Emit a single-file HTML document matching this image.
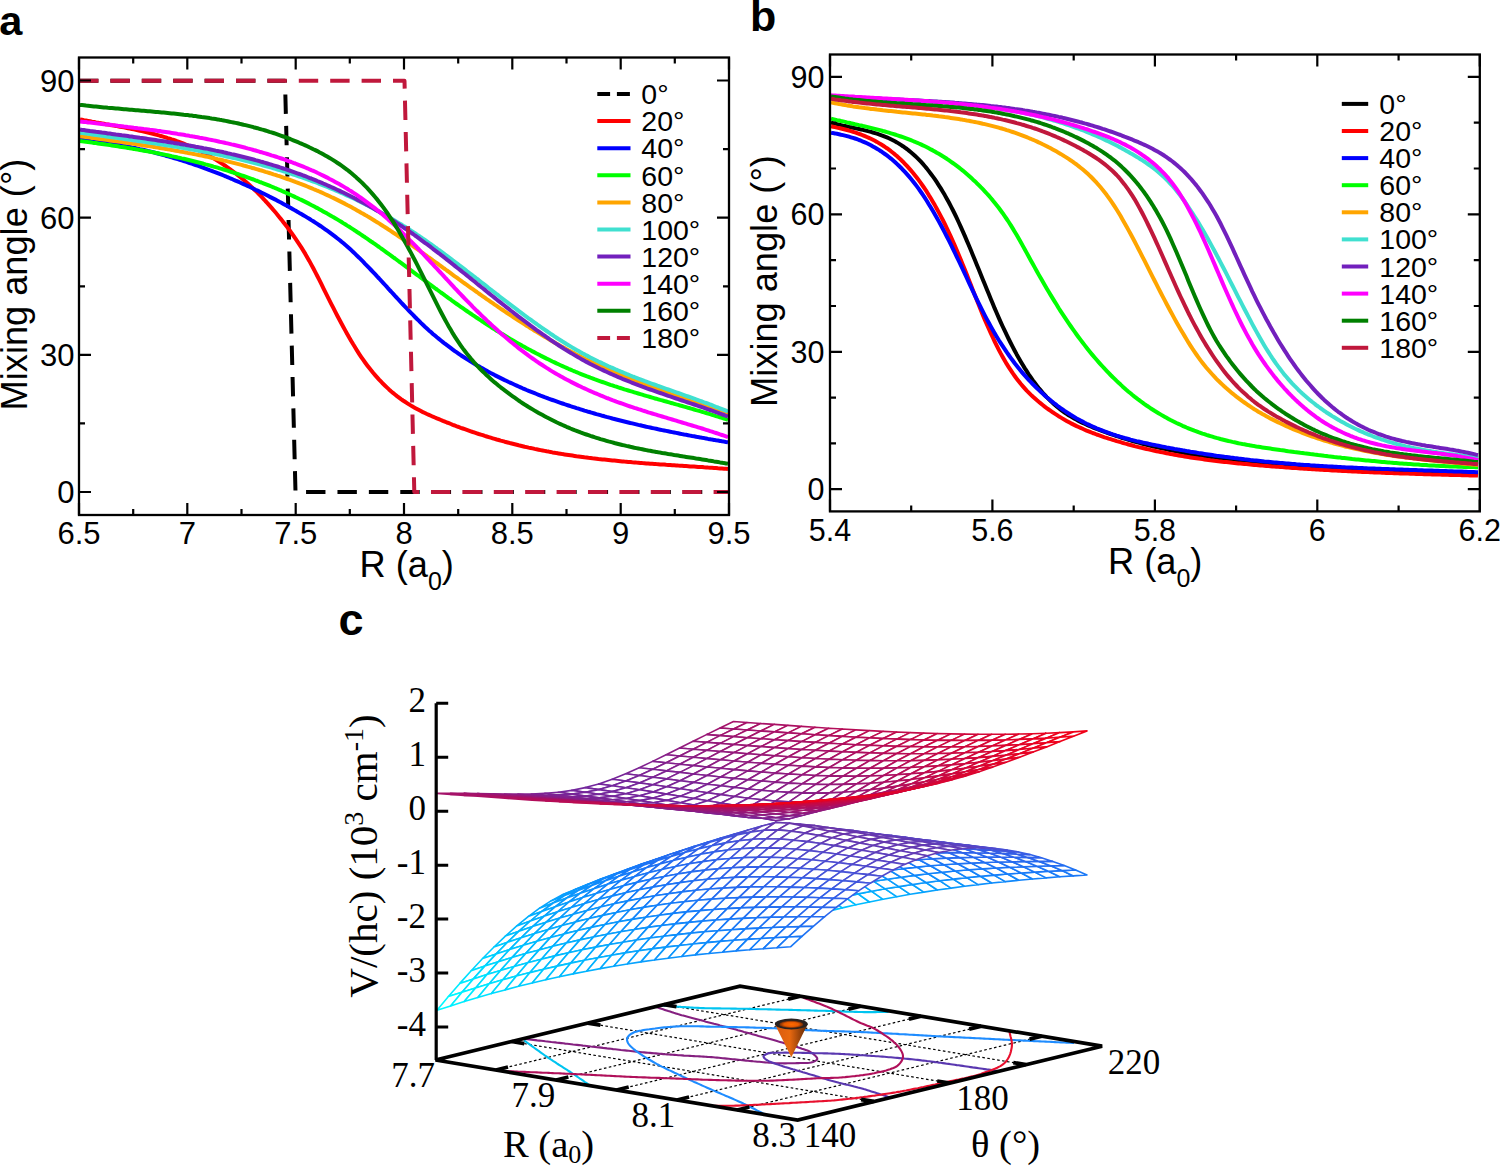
<!DOCTYPE html>
<html><head><meta charset="utf-8"><title>figure</title><style>
body{margin:0;background:#fff;}
svg{display:block;}
text{font-family:"Liberation Sans",sans-serif;fill:#000;}
.tk{font-size:31px;}
.tk2{font-size:30.5px;}
.lg{font-size:28.5px;}
.al{font-size:36.2px;}
.pl{font-size:43px;font-weight:bold;font-family:"Liberation Sans",sans-serif;}
.sc{font-family:"Liberation Serif",serif;font-size:35px;}
.sl{font-family:"Liberation Serif",serif;font-size:38.5px;}
.sy{font-family:"Liberation Serif",serif;font-size:41px;}
</style></head><body><svg width="1500" height="1166" viewBox="0 0 1500 1166">
<rect width="1500" height="1166" fill="#fff"/>
<clipPath id="ca"><rect x="79.0" y="57.5" width="650.0" height="457.5"/></clipPath>
<g clip-path="url(#ca)" fill="none" stroke-width="4" stroke-linejoin="round">
<path d="M79 80.7L285 80.7L295.5 492L729 492" stroke="#000" stroke-dasharray="19.4 12"/>
<path d="M80.0 119.4L82.0 119.8L84.0 120.2L86.0 120.5L88.0 120.9L90.0 121.3L92.0 121.7L94.0 122.0L96.0 122.4L97.9 122.7L99.9 123.1L101.9 123.4L103.9 123.8L105.9 124.2L107.9 124.5L109.9 124.9L111.9 125.2L113.9 125.6L115.9 125.9L117.9 126.3L119.9 126.7L121.9 127.0L123.9 127.4L125.9 127.8L127.9 128.2L129.8 128.6L131.8 129.0L133.8 129.4L135.8 129.8L137.8 130.2L139.8 130.7L141.8 131.1L143.8 131.6L145.8 132.1L147.8 132.5L149.8 133.0L151.8 133.5L153.8 134.0L155.8 134.6L157.8 135.1L159.8 135.7L161.7 136.2L163.7 136.8L165.7 137.4L167.7 138.1L169.7 138.7L171.7 139.4L173.7 140.0L175.7 140.7L177.7 141.5L179.7 142.2L181.7 142.9L183.7 143.7L185.7 144.5L187.7 145.4L189.7 146.2L191.7 147.1L193.6 148.0L195.6 148.9L197.6 149.8L199.6 150.8L201.6 151.8L203.6 152.8L205.6 153.9L207.6 154.9L209.6 156.1L211.6 157.2L213.6 158.4L215.6 159.6L217.6 160.8L219.6 162.0L221.6 163.3L223.6 164.7L225.6 166.0L227.5 167.4L229.5 168.8L231.5 170.3L233.5 171.8L235.5 173.3L237.5 174.9L239.5 176.5L241.5 178.1L243.5 179.8L245.5 181.5L247.5 183.3L249.5 185.1L251.5 186.9L253.5 188.8L255.5 190.7L257.5 192.7L259.4 194.7L261.4 196.7L263.4 198.8L265.4 201.0L267.4 203.1L269.4 205.4L271.4 207.6L273.4 210.0L275.4 212.3L277.4 214.7L279.4 217.2L281.4 219.6L283.4 222.2L285.4 224.7L287.4 227.3L289.4 230.0L291.3 232.7L293.3 235.5L295.3 238.3L297.3 241.3L299.3 244.3L301.3 247.4L303.3 250.6L305.3 253.9L307.3 257.4L309.3 260.9L311.3 264.6L313.3 268.3L315.3 272.1L317.3 276.0L319.3 279.9L321.3 283.9L323.2 287.8L325.2 291.8L327.2 295.8L329.2 299.8L331.2 303.8L333.2 307.7L335.2 311.6L337.2 315.5L339.2 319.3L341.2 323.0L343.2 326.7L345.2 330.4L347.2 334.0L349.2 337.5L351.2 340.9L353.2 344.3L355.2 347.5L357.1 350.7L359.1 353.8L361.1 356.8L363.1 359.7L365.1 362.5L367.1 365.2L369.1 367.8L371.1 370.3L373.1 372.8L375.1 375.1L377.1 377.4L379.1 379.6L381.1 381.7L383.1 383.8L385.1 385.7L387.1 387.6L389.0 389.4L391.0 391.2L393.0 392.9L395.0 394.5L397.0 396.1L399.0 397.6L401.0 399.1L403.0 400.5L405.0 401.8L407.0 403.1L409.0 404.4L411.0 405.6L413.0 406.8L415.0 407.9L417.0 409.0L419.0 410.1L420.9 411.1L422.9 412.1L424.9 413.0L426.9 414.0L428.9 414.9L430.9 415.8L432.9 416.7L434.9 417.5L436.9 418.4L438.9 419.2L440.9 420.0L442.9 420.9L444.9 421.7L446.9 422.5L448.9 423.2L450.9 424.0L452.8 424.8L454.8 425.5L456.8 426.3L458.8 427.0L460.8 427.8L462.8 428.5L464.8 429.2L466.8 429.9L468.8 430.6L470.8 431.3L472.8 432.0L474.8 432.6L476.8 433.3L478.8 434.0L480.8 434.6L482.8 435.2L484.8 435.9L486.7 436.5L488.7 437.1L490.7 437.7L492.7 438.3L494.7 438.9L496.7 439.5L498.7 440.0L500.7 440.6L502.7 441.1L504.7 441.7L506.7 442.2L508.7 442.7L510.7 443.3L512.7 443.8L514.7 444.3L516.7 444.8L518.6 445.3L520.6 445.7L522.6 446.2L524.6 446.7L526.6 447.1L528.6 447.6L530.6 448.0L532.6 448.4L534.6 448.9L536.6 449.3L538.6 449.7L540.6 450.1L542.6 450.5L544.6 450.9L546.6 451.3L548.6 451.6L550.5 452.0L552.5 452.4L554.5 452.7L556.5 453.1L558.5 453.4L560.5 453.7L562.5 454.1L564.5 454.4L566.5 454.7L568.5 455.0L570.5 455.3L572.5 455.6L574.5 455.9L576.5 456.2L578.5 456.4L580.5 456.7L582.4 457.0L584.4 457.3L586.4 457.5L588.4 457.8L590.4 458.0L592.4 458.3L594.4 458.5L596.4 458.7L598.4 459.0L600.4 459.2L602.4 459.4L604.4 459.6L606.4 459.8L608.4 460.0L610.4 460.2L612.4 460.4L614.4 460.6L616.3 460.8L618.3 461.0L620.3 461.2L622.3 461.4L624.3 461.6L626.3 461.7L628.3 461.9L630.3 462.1L632.3 462.3L634.3 462.4L636.3 462.6L638.3 462.7L640.3 462.9L642.3 463.1L644.3 463.2L646.3 463.4L648.2 463.5L650.2 463.7L652.2 463.8L654.2 463.9L656.2 464.1L658.2 464.2L660.2 464.4L662.2 464.5L664.2 464.6L666.2 464.8L668.2 464.9L670.2 465.0L672.2 465.2L674.2 465.3L676.2 465.4L678.2 465.6L680.1 465.7L682.1 465.8L684.1 466.0L686.1 466.1L688.1 466.2L690.1 466.4L692.1 466.5L694.1 466.6L696.1 466.7L698.1 466.9L700.1 467.0L702.1 467.1L704.1 467.3L706.1 467.4L708.1 467.6L710.1 467.7L712.0 467.8L714.0 468.0L716.0 468.1L718.0 468.3L720.0 468.4L722.0 468.5L724.0 468.7L726.0 468.8L728.0 469.0" stroke="#ff0000"/>
<path d="M80.0 139.3L82.0 139.5L84.0 139.8L86.0 140.0L88.0 140.2L90.0 140.5L92.0 140.7L94.0 141.0L96.0 141.2L97.9 141.5L99.9 141.8L101.9 142.1L103.9 142.3L105.9 142.7L107.9 143.0L109.9 143.3L111.9 143.6L113.9 143.9L115.9 144.3L117.9 144.6L119.9 145.0L121.9 145.4L123.9 145.8L125.9 146.1L127.9 146.5L129.8 146.9L131.8 147.4L133.8 147.8L135.8 148.2L137.8 148.6L139.8 149.1L141.8 149.5L143.8 150.0L145.8 150.5L147.8 151.0L149.8 151.4L151.8 151.9L153.8 152.4L155.8 153.0L157.8 153.5L159.8 154.0L161.7 154.5L163.7 155.1L165.7 155.7L167.7 156.2L169.7 156.8L171.7 157.4L173.7 158.0L175.7 158.6L177.7 159.2L179.7 159.8L181.7 160.4L183.7 161.0L185.7 161.7L187.7 162.3L189.7 163.0L191.7 163.7L193.6 164.3L195.6 165.0L197.6 165.7L199.6 166.4L201.6 167.1L203.6 167.8L205.6 168.6L207.6 169.3L209.6 170.1L211.6 170.8L213.6 171.6L215.6 172.3L217.6 173.1L219.6 173.9L221.6 174.7L223.6 175.5L225.6 176.3L227.5 177.2L229.5 178.0L231.5 178.8L233.5 179.7L235.5 180.6L237.5 181.4L239.5 182.3L241.5 183.2L243.5 184.1L245.5 185.0L247.5 185.9L249.5 186.8L251.5 187.8L253.5 188.7L255.5 189.7L257.5 190.6L259.4 191.6L261.4 192.6L263.4 193.5L265.4 194.5L267.4 195.5L269.4 196.6L271.4 197.6L273.4 198.6L275.4 199.6L277.4 200.7L279.4 201.8L281.4 202.8L283.4 203.9L285.4 205.0L287.4 206.1L289.4 207.2L291.3 208.3L293.3 209.4L295.3 210.6L297.3 211.7L299.3 212.9L301.3 214.0L303.3 215.2L305.3 216.4L307.3 217.6L309.3 218.8L311.3 220.1L313.3 221.3L315.3 222.6L317.3 223.9L319.3 225.2L321.3 226.5L323.2 227.9L325.2 229.3L327.2 230.7L329.2 232.1L331.2 233.6L333.2 235.1L335.2 236.6L337.2 238.2L339.2 239.8L341.2 241.4L343.2 243.1L345.2 244.8L347.2 246.5L349.2 248.3L351.2 250.1L353.2 252.0L355.2 253.9L357.1 255.8L359.1 257.7L361.1 259.7L363.1 261.7L365.1 263.8L367.1 265.8L369.1 267.9L371.1 270.0L373.1 272.1L375.1 274.2L377.1 276.4L379.1 278.5L381.1 280.7L383.1 282.8L385.1 285.0L387.1 287.2L389.0 289.4L391.0 291.5L393.0 293.7L395.0 295.9L397.0 298.0L399.0 300.2L401.0 302.4L403.0 304.5L405.0 306.6L407.0 308.7L409.0 310.8L411.0 312.9L413.0 314.9L415.0 317.0L417.0 319.0L419.0 320.9L420.9 322.9L422.9 324.8L424.9 326.7L426.9 328.5L428.9 330.4L430.9 332.1L432.9 333.9L434.9 335.6L436.9 337.3L438.9 338.9L440.9 340.5L442.9 342.1L444.9 343.7L446.9 345.2L448.9 346.7L450.9 348.2L452.8 349.6L454.8 351.1L456.8 352.4L458.8 353.8L460.8 355.2L462.8 356.5L464.8 357.8L466.8 359.1L468.8 360.3L470.8 361.6L472.8 362.8L474.8 364.0L476.8 365.2L478.8 366.3L480.8 367.5L482.8 368.6L484.8 369.7L486.7 370.8L488.7 371.9L490.7 373.0L492.7 374.0L494.7 375.1L496.7 376.1L498.7 377.1L500.7 378.1L502.7 379.1L504.7 380.1L506.7 381.0L508.7 382.0L510.7 382.9L512.7 383.8L514.7 384.7L516.7 385.6L518.6 386.5L520.6 387.4L522.6 388.3L524.6 389.1L526.6 390.0L528.6 390.8L530.6 391.6L532.6 392.4L534.6 393.2L536.6 394.0L538.6 394.8L540.6 395.6L542.6 396.3L544.6 397.1L546.6 397.8L548.6 398.6L550.5 399.3L552.5 400.0L554.5 400.7L556.5 401.4L558.5 402.1L560.5 402.8L562.5 403.5L564.5 404.2L566.5 404.8L568.5 405.5L570.5 406.2L572.5 406.8L574.5 407.4L576.5 408.1L578.5 408.7L580.5 409.3L582.4 409.9L584.4 410.6L586.4 411.2L588.4 411.8L590.4 412.3L592.4 412.9L594.4 413.5L596.4 414.1L598.4 414.6L600.4 415.2L602.4 415.8L604.4 416.3L606.4 416.9L608.4 417.4L610.4 417.9L612.4 418.5L614.4 419.0L616.3 419.5L618.3 420.0L620.3 420.5L622.3 421.0L624.3 421.5L626.3 422.0L628.3 422.5L630.3 423.0L632.3 423.4L634.3 423.9L636.3 424.4L638.3 424.9L640.3 425.3L642.3 425.8L644.3 426.2L646.3 426.7L648.2 427.1L650.2 427.5L652.2 428.0L654.2 428.4L656.2 428.8L658.2 429.3L660.2 429.7L662.2 430.1L664.2 430.5L666.2 430.9L668.2 431.3L670.2 431.7L672.2 432.1L674.2 432.5L676.2 432.9L678.2 433.3L680.1 433.7L682.1 434.1L684.1 434.5L686.1 434.8L688.1 435.2L690.1 435.6L692.1 436.0L694.1 436.3L696.1 436.7L698.1 437.1L700.1 437.4L702.1 437.8L704.1 438.1L706.1 438.5L708.1 438.9L710.1 439.2L712.0 439.6L714.0 439.9L716.0 440.3L718.0 440.6L720.0 440.9L722.0 441.3L724.0 441.6L726.0 442.0L728.0 442.3" stroke="#0000ff"/>
<path d="M80.0 141.0L82.0 141.3L84.0 141.5L86.0 141.8L88.0 142.1L90.0 142.3L92.0 142.6L94.0 142.9L96.0 143.1L97.9 143.4L99.9 143.7L101.9 144.0L103.9 144.3L105.9 144.6L107.9 144.8L109.9 145.1L111.9 145.4L113.9 145.7L115.9 146.0L117.9 146.3L119.9 146.7L121.9 147.0L123.9 147.3L125.9 147.6L127.9 147.9L129.8 148.3L131.8 148.6L133.8 148.9L135.8 149.3L137.8 149.6L139.8 150.0L141.8 150.3L143.8 150.7L145.8 151.0L147.8 151.4L149.8 151.8L151.8 152.1L153.8 152.5L155.8 152.9L157.8 153.3L159.8 153.7L161.7 154.1L163.7 154.5L165.7 154.9L167.7 155.3L169.7 155.7L171.7 156.2L173.7 156.6L175.7 157.0L177.7 157.5L179.7 157.9L181.7 158.4L183.7 158.8L185.7 159.3L187.7 159.8L189.7 160.3L191.7 160.8L193.6 161.3L195.6 161.8L197.6 162.3L199.6 162.8L201.6 163.3L203.6 163.8L205.6 164.4L207.6 164.9L209.6 165.4L211.6 166.0L213.6 166.6L215.6 167.1L217.6 167.7L219.6 168.3L221.6 168.9L223.6 169.5L225.6 170.1L227.5 170.7L229.5 171.4L231.5 172.0L233.5 172.6L235.5 173.3L237.5 173.9L239.5 174.6L241.5 175.3L243.5 176.0L245.5 176.7L247.5 177.4L249.5 178.1L251.5 178.8L253.5 179.5L255.5 180.3L257.5 181.0L259.4 181.8L261.4 182.5L263.4 183.3L265.4 184.1L267.4 184.9L269.4 185.7L271.4 186.5L273.4 187.3L275.4 188.2L277.4 189.0L279.4 189.9L281.4 190.7L283.4 191.6L285.4 192.5L287.4 193.4L289.4 194.3L291.3 195.2L293.3 196.1L295.3 197.1L297.3 198.0L299.3 199.0L301.3 199.9L303.3 200.9L305.3 201.9L307.3 202.9L309.3 203.9L311.3 205.0L313.3 206.0L315.3 207.1L317.3 208.1L319.3 209.2L321.3 210.3L323.2 211.4L325.2 212.5L327.2 213.6L329.2 214.8L331.2 215.9L333.2 217.1L335.2 218.2L337.2 219.4L339.2 220.6L341.2 221.8L343.2 223.1L345.2 224.3L347.2 225.6L349.2 226.8L351.2 228.1L353.2 229.4L355.2 230.7L357.1 232.0L359.1 233.3L361.1 234.6L363.1 236.0L365.1 237.3L367.1 238.7L369.1 240.1L371.1 241.5L373.1 242.8L375.1 244.2L377.1 245.6L379.1 247.0L381.1 248.5L383.1 249.9L385.1 251.3L387.1 252.8L389.0 254.2L391.0 255.6L393.0 257.1L395.0 258.5L397.0 260.0L399.0 261.5L401.0 262.9L403.0 264.4L405.0 265.9L407.0 267.4L409.0 268.8L411.0 270.3L413.0 271.8L415.0 273.3L417.0 274.8L419.0 276.2L420.9 277.7L422.9 279.2L424.9 280.7L426.9 282.2L428.9 283.7L430.9 285.1L432.9 286.6L434.9 288.1L436.9 289.5L438.9 291.0L440.9 292.5L442.9 293.9L444.9 295.4L446.9 296.8L448.9 298.3L450.9 299.7L452.8 301.2L454.8 302.6L456.8 304.0L458.8 305.4L460.8 306.8L462.8 308.2L464.8 309.6L466.8 311.0L468.8 312.4L470.8 313.7L472.8 315.1L474.8 316.4L476.8 317.8L478.8 319.1L480.8 320.4L482.8 321.7L484.8 323.1L486.7 324.3L488.7 325.6L490.7 326.9L492.7 328.2L494.7 329.4L496.7 330.7L498.7 331.9L500.7 333.1L502.7 334.3L504.7 335.5L506.7 336.7L508.7 337.9L510.7 339.1L512.7 340.3L514.7 341.4L516.7 342.6L518.6 343.7L520.6 344.8L522.6 346.0L524.6 347.1L526.6 348.2L528.6 349.3L530.6 350.3L532.6 351.4L534.6 352.4L536.6 353.5L538.6 354.5L540.6 355.6L542.6 356.6L544.6 357.6L546.6 358.6L548.6 359.5L550.5 360.5L552.5 361.5L554.5 362.4L556.5 363.4L558.5 364.3L560.5 365.2L562.5 366.1L564.5 367.0L566.5 367.9L568.5 368.8L570.5 369.6L572.5 370.5L574.5 371.3L576.5 372.2L578.5 373.0L580.5 373.8L582.4 374.6L584.4 375.4L586.4 376.2L588.4 376.9L590.4 377.7L592.4 378.4L594.4 379.2L596.4 379.9L598.4 380.6L600.4 381.3L602.4 382.0L604.4 382.7L606.4 383.4L608.4 384.1L610.4 384.8L612.4 385.4L614.4 386.1L616.3 386.7L618.3 387.4L620.3 388.0L622.3 388.6L624.3 389.3L626.3 389.9L628.3 390.5L630.3 391.1L632.3 391.7L634.3 392.3L636.3 392.9L638.3 393.5L640.3 394.1L642.3 394.7L644.3 395.3L646.3 395.9L648.2 396.4L650.2 397.0L652.2 397.6L654.2 398.2L656.2 398.7L658.2 399.3L660.2 399.9L662.2 400.4L664.2 401.0L666.2 401.5L668.2 402.1L670.2 402.7L672.2 403.2L674.2 403.8L676.2 404.4L678.2 404.9L680.1 405.5L682.1 406.0L684.1 406.6L686.1 407.2L688.1 407.8L690.1 408.3L692.1 408.9L694.1 409.5L696.1 410.1L698.1 410.6L700.1 411.2L702.1 411.8L704.1 412.4L706.1 413.0L708.1 413.6L710.1 414.2L712.0 414.8L714.0 415.4L716.0 416.1L718.0 416.7L720.0 417.3L722.0 417.9L724.0 418.6L726.0 419.2L728.0 419.9" stroke="#00ff00"/>
<path d="M80.0 136.2L82.0 136.5L84.0 136.7L86.0 137.0L88.0 137.3L90.0 137.6L92.0 137.9L94.0 138.1L96.0 138.4L97.9 138.7L99.9 139.0L101.9 139.2L103.9 139.5L105.9 139.8L107.9 140.1L109.9 140.4L111.9 140.7L113.9 140.9L115.9 141.2L117.9 141.5L119.9 141.8L121.9 142.1L123.9 142.4L125.9 142.7L127.9 143.0L129.8 143.3L131.8 143.5L133.8 143.8L135.8 144.1L137.8 144.4L139.8 144.7L141.8 145.1L143.8 145.4L145.8 145.7L147.8 146.0L149.8 146.3L151.8 146.6L153.8 146.9L155.8 147.3L157.8 147.6L159.8 147.9L161.7 148.2L163.7 148.6L165.7 148.9L167.7 149.3L169.7 149.6L171.7 149.9L173.7 150.3L175.7 150.7L177.7 151.0L179.7 151.4L181.7 151.7L183.7 152.1L185.7 152.5L187.7 152.9L189.7 153.2L191.7 153.6L193.6 154.0L195.6 154.4L197.6 154.8L199.6 155.2L201.6 155.6L203.6 156.0L205.6 156.5L207.6 156.9L209.6 157.3L211.6 157.8L213.6 158.2L215.6 158.6L217.6 159.1L219.6 159.5L221.6 160.0L223.6 160.5L225.6 160.9L227.5 161.4L229.5 161.9L231.5 162.4L233.5 162.9L235.5 163.4L237.5 163.9L239.5 164.4L241.5 164.9L243.5 165.5L245.5 166.0L247.5 166.6L249.5 167.1L251.5 167.7L253.5 168.2L255.5 168.8L257.5 169.4L259.4 170.0L261.4 170.5L263.4 171.1L265.4 171.8L267.4 172.4L269.4 173.0L271.4 173.6L273.4 174.3L275.4 174.9L277.4 175.6L279.4 176.2L281.4 176.9L283.4 177.6L285.4 178.3L287.4 179.0L289.4 179.7L291.3 180.4L293.3 181.1L295.3 181.9L297.3 182.6L299.3 183.4L301.3 184.1L303.3 184.9L305.3 185.7L307.3 186.5L309.3 187.3L311.3 188.1L313.3 189.0L315.3 189.8L317.3 190.7L319.3 191.5L321.3 192.4L323.2 193.3L325.2 194.2L327.2 195.1L329.2 196.0L331.2 197.0L333.2 197.9L335.2 198.9L337.2 199.9L339.2 200.9L341.2 201.9L343.2 202.9L345.2 203.9L347.2 205.0L349.2 206.0L351.2 207.1L353.2 208.2L355.2 209.3L357.1 210.4L359.1 211.5L361.1 212.7L363.1 213.8L365.1 215.0L367.1 216.1L369.1 217.3L371.1 218.5L373.1 219.7L375.1 221.0L377.1 222.2L379.1 223.4L381.1 224.7L383.1 226.0L385.1 227.2L387.1 228.5L389.0 229.8L391.0 231.1L393.0 232.5L395.0 233.8L397.0 235.1L399.0 236.5L401.0 237.8L403.0 239.2L405.0 240.6L407.0 241.9L409.0 243.3L411.0 244.7L413.0 246.1L415.0 247.5L417.0 248.9L419.0 250.3L420.9 251.8L422.9 253.2L424.9 254.6L426.9 256.0L428.9 257.5L430.9 258.9L432.9 260.4L434.9 261.8L436.9 263.2L438.9 264.7L440.9 266.1L442.9 267.6L444.9 269.0L446.9 270.5L448.9 271.9L450.9 273.4L452.8 274.8L454.8 276.3L456.8 277.7L458.8 279.2L460.8 280.6L462.8 282.1L464.8 283.5L466.8 284.9L468.8 286.4L470.8 287.8L472.8 289.2L474.8 290.6L476.8 292.0L478.8 293.5L480.8 294.9L482.8 296.3L484.8 297.7L486.7 299.1L488.7 300.4L490.7 301.8L492.7 303.2L494.7 304.6L496.7 305.9L498.7 307.3L500.7 308.7L502.7 310.0L504.7 311.4L506.7 312.7L508.7 314.0L510.7 315.3L512.7 316.7L514.7 318.0L516.7 319.3L518.6 320.6L520.6 321.9L522.6 323.1L524.6 324.4L526.6 325.7L528.6 326.9L530.6 328.2L532.6 329.4L534.6 330.7L536.6 331.9L538.6 333.1L540.6 334.3L542.6 335.5L544.6 336.7L546.6 337.9L548.6 339.1L550.5 340.2L552.5 341.4L554.5 342.5L556.5 343.7L558.5 344.8L560.5 345.9L562.5 347.0L564.5 348.1L566.5 349.2L568.5 350.3L570.5 351.3L572.5 352.4L574.5 353.4L576.5 354.5L578.5 355.5L580.5 356.5L582.4 357.5L584.4 358.5L586.4 359.5L588.4 360.4L590.4 361.4L592.4 362.3L594.4 363.3L596.4 364.2L598.4 365.1L600.4 366.0L602.4 366.9L604.4 367.8L606.4 368.7L608.4 369.6L610.4 370.5L612.4 371.3L614.4 372.2L616.3 373.0L618.3 373.9L620.3 374.7L622.3 375.5L624.3 376.3L626.3 377.1L628.3 378.0L630.3 378.8L632.3 379.5L634.3 380.3L636.3 381.1L638.3 381.9L640.3 382.7L642.3 383.4L644.3 384.2L646.3 385.0L648.2 385.7L650.2 386.5L652.2 387.2L654.2 387.9L656.2 388.7L658.2 389.4L660.2 390.1L662.2 390.9L664.2 391.6L666.2 392.3L668.2 393.0L670.2 393.8L672.2 394.5L674.2 395.2L676.2 395.9L678.2 396.6L680.1 397.3L682.1 398.0L684.1 398.7L686.1 399.4L688.1 400.1L690.1 400.8L692.1 401.6L694.1 402.3L696.1 403.0L698.1 403.7L700.1 404.4L702.1 405.1L704.1 405.8L706.1 406.5L708.1 407.2L710.1 407.9L712.0 408.6L714.0 409.4L716.0 410.1L718.0 410.8L720.0 411.5L722.0 412.2L724.0 413.0L726.0 413.7L728.0 414.4" stroke="#ffa500"/>
<path d="M80.0 132.7L82.0 133.0L84.0 133.2L86.0 133.5L88.0 133.8L90.0 134.1L92.0 134.4L94.0 134.7L96.0 135.0L97.9 135.2L99.9 135.5L101.9 135.8L103.9 136.1L105.9 136.4L107.9 136.7L109.9 136.9L111.9 137.2L113.9 137.5L115.9 137.8L117.9 138.1L119.9 138.4L121.9 138.6L123.9 138.9L125.9 139.2L127.9 139.5L129.8 139.8L131.8 140.1L133.8 140.4L135.8 140.6L137.8 140.9L139.8 141.2L141.8 141.5L143.8 141.8L145.8 142.1L147.8 142.4L149.8 142.7L151.8 143.0L153.8 143.3L155.8 143.6L157.8 143.9L159.8 144.2L161.7 144.5L163.7 144.9L165.7 145.2L167.7 145.5L169.7 145.8L171.7 146.1L173.7 146.5L175.7 146.8L177.7 147.1L179.7 147.5L181.7 147.8L183.7 148.1L185.7 148.5L187.7 148.8L189.7 149.2L191.7 149.5L193.6 149.9L195.6 150.3L197.6 150.6L199.6 151.0L201.6 151.4L203.6 151.8L205.6 152.1L207.6 152.5L209.6 152.9L211.6 153.3L213.6 153.7L215.6 154.1L217.6 154.5L219.6 154.9L221.6 155.4L223.6 155.8L225.6 156.2L227.5 156.7L229.5 157.1L231.5 157.5L233.5 158.0L235.5 158.4L237.5 158.9L239.5 159.4L241.5 159.8L243.5 160.3L245.5 160.8L247.5 161.3L249.5 161.8L251.5 162.3L253.5 162.8L255.5 163.3L257.5 163.9L259.4 164.4L261.4 164.9L263.4 165.5L265.4 166.0L267.4 166.6L269.4 167.1L271.4 167.7L273.4 168.3L275.4 168.9L277.4 169.5L279.4 170.1L281.4 170.7L283.4 171.3L285.4 171.9L287.4 172.5L289.4 173.2L291.3 173.8L293.3 174.5L295.3 175.1L297.3 175.8L299.3 176.5L301.3 177.2L303.3 177.9L305.3 178.6L307.3 179.3L309.3 180.0L311.3 180.8L313.3 181.5L315.3 182.2L317.3 183.0L319.3 183.8L321.3 184.6L323.2 185.3L325.2 186.1L327.2 186.9L329.2 187.8L331.2 188.6L333.2 189.4L335.2 190.3L337.2 191.1L339.2 192.0L341.2 192.9L343.2 193.7L345.2 194.6L347.2 195.6L349.2 196.5L351.2 197.4L353.2 198.3L355.2 199.3L357.1 200.2L359.1 201.2L361.1 202.2L363.1 203.2L365.1 204.2L367.1 205.2L369.1 206.2L371.1 207.3L373.1 208.3L375.1 209.4L377.1 210.5L379.1 211.6L381.1 212.7L383.1 213.8L385.1 214.9L387.1 216.0L389.0 217.2L391.0 218.3L393.0 219.5L395.0 220.7L397.0 221.9L399.0 223.1L401.0 224.3L403.0 225.6L405.0 226.8L407.0 228.1L409.0 229.3L411.0 230.6L413.0 231.9L415.0 233.2L417.0 234.6L419.0 235.9L420.9 237.3L422.9 238.6L424.9 240.0L426.9 241.4L428.9 242.8L430.9 244.2L432.9 245.6L434.9 247.1L436.9 248.5L438.9 250.0L440.9 251.4L442.9 252.9L444.9 254.4L446.9 255.8L448.9 257.3L450.9 258.8L452.8 260.3L454.8 261.8L456.8 263.3L458.8 264.9L460.8 266.4L462.8 267.9L464.8 269.4L466.8 271.0L468.8 272.5L470.8 274.0L472.8 275.6L474.8 277.1L476.8 278.7L478.8 280.2L480.8 281.8L482.8 283.3L484.8 284.9L486.7 286.4L488.7 288.0L490.7 289.5L492.7 291.1L494.7 292.6L496.7 294.2L498.7 295.7L500.7 297.3L502.7 298.8L504.7 300.3L506.7 301.8L508.7 303.4L510.7 304.9L512.7 306.4L514.7 307.9L516.7 309.4L518.6 310.9L520.6 312.4L522.6 313.9L524.6 315.4L526.6 316.8L528.6 318.3L530.6 319.7L532.6 321.2L534.6 322.6L536.6 324.0L538.6 325.5L540.6 326.9L542.6 328.3L544.6 329.6L546.6 331.0L548.6 332.4L550.5 333.7L552.5 335.0L554.5 336.4L556.5 337.7L558.5 339.0L560.5 340.2L562.5 341.5L564.5 342.7L566.5 344.0L568.5 345.2L570.5 346.4L572.5 347.6L574.5 348.8L576.5 349.9L578.5 351.0L580.5 352.2L582.4 353.3L584.4 354.3L586.4 355.4L588.4 356.4L590.4 357.5L592.4 358.5L594.4 359.5L596.4 360.5L598.4 361.5L600.4 362.4L602.4 363.4L604.4 364.3L606.4 365.2L608.4 366.2L610.4 367.1L612.4 367.9L614.4 368.8L616.3 369.7L618.3 370.5L620.3 371.4L622.3 372.2L624.3 373.0L626.3 373.9L628.3 374.7L630.3 375.5L632.3 376.3L634.3 377.0L636.3 377.8L638.3 378.6L640.3 379.3L642.3 380.1L644.3 380.9L646.3 381.6L648.2 382.3L650.2 383.1L652.2 383.8L654.2 384.5L656.2 385.2L658.2 386.0L660.2 386.7L662.2 387.4L664.2 388.1L666.2 388.8L668.2 389.5L670.2 390.2L672.2 390.9L674.2 391.6L676.2 392.3L678.2 393.0L680.1 393.7L682.1 394.4L684.1 395.1L686.1 395.8L688.1 396.5L690.1 397.2L692.1 397.9L694.1 398.6L696.1 399.4L698.1 400.1L700.1 400.8L702.1 401.5L704.1 402.3L706.1 403.0L708.1 403.7L710.1 404.5L712.0 405.2L714.0 406.0L716.0 406.8L718.0 407.5L720.0 408.3L722.0 409.1L724.0 409.9L726.0 410.7L728.0 411.5" stroke="#40e0d0"/>
<path d="M80.0 129.6L82.0 129.9L84.0 130.1L86.0 130.4L88.0 130.7L90.0 131.0L92.0 131.2L94.0 131.5L96.0 131.8L97.9 132.0L99.9 132.3L101.9 132.6L103.9 132.8L105.9 133.1L107.9 133.4L109.9 133.6L111.9 133.9L113.9 134.2L115.9 134.5L117.9 134.7L119.9 135.0L121.9 135.3L123.9 135.5L125.9 135.8L127.9 136.1L129.8 136.4L131.8 136.6L133.8 136.9L135.8 137.2L137.8 137.5L139.8 137.8L141.8 138.0L143.8 138.3L145.8 138.6L147.8 138.9L149.8 139.2L151.8 139.5L153.8 139.8L155.8 140.1L157.8 140.4L159.8 140.7L161.7 141.0L163.7 141.3L165.7 141.6L167.7 141.9L169.7 142.2L171.7 142.5L173.7 142.9L175.7 143.2L177.7 143.5L179.7 143.9L181.7 144.2L183.7 144.5L185.7 144.9L187.7 145.2L189.7 145.6L191.7 145.9L193.6 146.3L195.6 146.7L197.6 147.0L199.6 147.4L201.6 147.8L203.6 148.2L205.6 148.5L207.6 148.9L209.6 149.3L211.6 149.7L213.6 150.1L215.6 150.6L217.6 151.0L219.6 151.4L221.6 151.8L223.6 152.3L225.6 152.7L227.5 153.2L229.5 153.6L231.5 154.1L233.5 154.5L235.5 155.0L237.5 155.5L239.5 156.0L241.5 156.5L243.5 157.0L245.5 157.5L247.5 158.0L249.5 158.5L251.5 159.0L253.5 159.5L255.5 160.1L257.5 160.6L259.4 161.2L261.4 161.8L263.4 162.3L265.4 162.9L267.4 163.5L269.4 164.1L271.4 164.7L273.4 165.3L275.4 165.9L277.4 166.5L279.4 167.2L281.4 167.8L283.4 168.5L285.4 169.1L287.4 169.8L289.4 170.5L291.3 171.2L293.3 171.9L295.3 172.6L297.3 173.3L299.3 174.0L301.3 174.7L303.3 175.5L305.3 176.2L307.3 177.0L309.3 177.8L311.3 178.5L313.3 179.3L315.3 180.1L317.3 181.0L319.3 181.8L321.3 182.6L323.2 183.5L325.2 184.3L327.2 185.2L329.2 186.1L331.2 187.0L333.2 187.9L335.2 188.8L337.2 189.7L339.2 190.6L341.2 191.6L343.2 192.5L345.2 193.5L347.2 194.5L349.2 195.5L351.2 196.5L353.2 197.5L355.2 198.5L357.1 199.6L359.1 200.6L361.1 201.7L363.1 202.7L365.1 203.8L367.1 204.9L369.1 206.1L371.1 207.2L373.1 208.3L375.1 209.5L377.1 210.7L379.1 211.8L381.1 213.0L383.1 214.2L385.1 215.5L387.1 216.7L389.0 218.0L391.0 219.2L393.0 220.5L395.0 221.8L397.0 223.1L399.0 224.4L401.0 225.8L403.0 227.1L405.0 228.5L407.0 229.8L409.0 231.2L411.0 232.6L413.0 234.0L415.0 235.5L417.0 236.9L419.0 238.4L420.9 239.8L422.9 241.3L424.9 242.8L426.9 244.2L428.9 245.7L430.9 247.2L432.9 248.8L434.9 250.3L436.9 251.8L438.9 253.3L440.9 254.9L442.9 256.4L444.9 258.0L446.9 259.6L448.9 261.1L450.9 262.7L452.8 264.3L454.8 265.9L456.8 267.5L458.8 269.0L460.8 270.6L462.8 272.2L464.8 273.8L466.8 275.4L468.8 277.0L470.8 278.6L472.8 280.2L474.8 281.8L476.8 283.5L478.8 285.1L480.8 286.7L482.8 288.3L484.8 289.9L486.7 291.5L488.7 293.1L490.7 294.7L492.7 296.3L494.7 297.9L496.7 299.5L498.7 301.1L500.7 302.6L502.7 304.2L504.7 305.8L506.7 307.4L508.7 308.9L510.7 310.5L512.7 312.0L514.7 313.6L516.7 315.1L518.6 316.7L520.6 318.2L522.6 319.7L524.6 321.2L526.6 322.7L528.6 324.2L530.6 325.7L532.6 327.1L534.6 328.6L536.6 330.1L538.6 331.5L540.6 332.9L542.6 334.3L544.6 335.7L546.6 337.1L548.6 338.5L550.5 339.9L552.5 341.2L554.5 342.6L556.5 343.9L558.5 345.2L560.5 346.5L562.5 347.8L564.5 349.1L566.5 350.3L568.5 351.5L570.5 352.7L572.5 353.9L574.5 355.1L576.5 356.3L578.5 357.4L580.5 358.6L582.4 359.7L584.4 360.8L586.4 361.9L588.4 362.9L590.4 364.0L592.4 365.0L594.4 366.0L596.4 367.0L598.4 368.0L600.4 369.0L602.4 369.9L604.4 370.9L606.4 371.8L608.4 372.7L610.4 373.6L612.4 374.5L614.4 375.4L616.3 376.2L618.3 377.1L620.3 377.9L622.3 378.8L624.3 379.6L626.3 380.4L628.3 381.2L630.3 382.0L632.3 382.8L634.3 383.6L636.3 384.3L638.3 385.1L640.3 385.8L642.3 386.6L644.3 387.3L646.3 388.1L648.2 388.8L650.2 389.5L652.2 390.2L654.2 390.9L656.2 391.6L658.2 392.3L660.2 393.0L662.2 393.7L664.2 394.4L666.2 395.1L668.2 395.8L670.2 396.4L672.2 397.1L674.2 397.8L676.2 398.5L678.2 399.1L680.1 399.8L682.1 400.5L684.1 401.2L686.1 401.8L688.1 402.5L690.1 403.2L692.1 403.8L694.1 404.5L696.1 405.2L698.1 405.9L700.1 406.5L702.1 407.2L704.1 407.9L706.1 408.6L708.1 409.3L710.1 410.0L712.0 410.7L714.0 411.4L716.0 412.1L718.0 412.8L720.0 413.6L722.0 414.3L724.0 415.0L726.0 415.8L728.0 416.5" stroke="#7220bd"/>
<path d="M80.0 121.5L82.0 121.7L84.0 121.9L86.0 122.1L88.0 122.4L90.0 122.6L92.0 122.8L94.0 123.0L96.0 123.3L97.9 123.5L99.9 123.7L101.9 123.9L103.9 124.2L105.9 124.4L107.9 124.6L109.9 124.8L111.9 125.1L113.9 125.3L115.9 125.5L117.9 125.8L119.9 126.0L121.9 126.2L123.9 126.5L125.9 126.7L127.9 127.0L129.8 127.2L131.8 127.4L133.8 127.7L135.8 127.9L137.8 128.2L139.8 128.4L141.8 128.7L143.8 129.0L145.8 129.2L147.8 129.5L149.8 129.8L151.8 130.0L153.8 130.3L155.8 130.6L157.8 130.9L159.8 131.1L161.7 131.4L163.7 131.7L165.7 132.0L167.7 132.3L169.7 132.6L171.7 132.9L173.7 133.2L175.7 133.5L177.7 133.9L179.7 134.2L181.7 134.5L183.7 134.8L185.7 135.2L187.7 135.5L189.7 135.9L191.7 136.2L193.6 136.6L195.6 136.9L197.6 137.3L199.6 137.7L201.6 138.0L203.6 138.4L205.6 138.8L207.6 139.2L209.6 139.6L211.6 140.0L213.6 140.4L215.6 140.8L217.6 141.2L219.6 141.7L221.6 142.1L223.6 142.5L225.6 143.0L227.5 143.4L229.5 143.9L231.5 144.4L233.5 144.8L235.5 145.3L237.5 145.8L239.5 146.3L241.5 146.8L243.5 147.3L245.5 147.8L247.5 148.4L249.5 148.9L251.5 149.4L253.5 150.0L255.5 150.5L257.5 151.1L259.4 151.7L261.4 152.2L263.4 152.8L265.4 153.4L267.4 154.0L269.4 154.6L271.4 155.3L273.4 155.9L275.4 156.5L277.4 157.2L279.4 157.8L281.4 158.5L283.4 159.2L285.4 159.9L287.4 160.6L289.4 161.3L291.3 162.0L293.3 162.8L295.3 163.5L297.3 164.3L299.3 165.1L301.3 165.9L303.3 166.7L305.3 167.5L307.3 168.3L309.3 169.2L311.3 170.1L313.3 170.9L315.3 171.8L317.3 172.8L319.3 173.7L321.3 174.7L323.2 175.6L325.2 176.6L327.2 177.6L329.2 178.7L331.2 179.7L333.2 180.8L335.2 181.9L337.2 183.0L339.2 184.1L341.2 185.2L343.2 186.4L345.2 187.6L347.2 188.8L349.2 190.1L351.2 191.3L353.2 192.6L355.2 193.9L357.1 195.2L359.1 196.6L361.1 198.0L363.1 199.4L365.1 200.8L367.1 202.3L369.1 203.8L371.1 205.3L373.1 206.8L375.1 208.4L377.1 210.0L379.1 211.6L381.1 213.3L383.1 214.9L385.1 216.7L387.1 218.4L389.0 220.2L391.0 222.0L393.0 223.8L395.0 225.6L397.0 227.5L399.0 229.4L401.0 231.3L403.0 233.3L405.0 235.3L407.0 237.2L409.0 239.3L411.0 241.3L413.0 243.3L415.0 245.4L417.0 247.5L419.0 249.5L420.9 251.6L422.9 253.7L424.9 255.9L426.9 258.0L428.9 260.1L430.9 262.3L432.9 264.4L434.9 266.6L436.9 268.7L438.9 270.9L440.9 273.0L442.9 275.2L444.9 277.4L446.9 279.5L448.9 281.7L450.9 283.8L452.8 285.9L454.8 288.1L456.8 290.2L458.8 292.3L460.8 294.4L462.8 296.5L464.8 298.6L466.8 300.7L468.8 302.7L470.8 304.7L472.8 306.8L474.8 308.8L476.8 310.8L478.8 312.7L480.8 314.7L482.8 316.6L484.8 318.5L486.7 320.4L488.7 322.3L490.7 324.1L492.7 326.0L494.7 327.8L496.7 329.6L498.7 331.4L500.7 333.2L502.7 334.9L504.7 336.6L506.7 338.3L508.7 340.0L510.7 341.7L512.7 343.3L514.7 344.9L516.7 346.5L518.6 348.1L520.6 349.7L522.6 351.2L524.6 352.7L526.6 354.2L528.6 355.7L530.6 357.1L532.6 358.5L534.6 359.9L536.6 361.3L538.6 362.7L540.6 364.0L542.6 365.3L544.6 366.6L546.6 367.9L548.6 369.1L550.5 370.4L552.5 371.6L554.5 372.8L556.5 373.9L558.5 375.1L560.5 376.2L562.5 377.3L564.5 378.4L566.5 379.5L568.5 380.5L570.5 381.6L572.5 382.6L574.5 383.6L576.5 384.6L578.5 385.6L580.5 386.5L582.4 387.5L584.4 388.4L586.4 389.3L588.4 390.2L590.4 391.1L592.4 392.0L594.4 392.9L596.4 393.7L598.4 394.5L600.4 395.4L602.4 396.2L604.4 397.0L606.4 397.8L608.4 398.5L610.4 399.3L612.4 400.1L614.4 400.8L616.3 401.6L618.3 402.3L620.3 403.0L622.3 403.7L624.3 404.4L626.3 405.1L628.3 405.8L630.3 406.5L632.3 407.1L634.3 407.8L636.3 408.4L638.3 409.1L640.3 409.7L642.3 410.4L644.3 411.0L646.3 411.6L648.2 412.3L650.2 412.9L652.2 413.5L654.2 414.1L656.2 414.7L658.2 415.3L660.2 415.9L662.2 416.5L664.2 417.1L666.2 417.7L668.2 418.3L670.2 418.9L672.2 419.5L674.2 420.1L676.2 420.7L678.2 421.3L680.1 421.9L682.1 422.5L684.1 423.1L686.1 423.7L688.1 424.3L690.1 424.9L692.1 425.5L694.1 426.1L696.1 426.7L698.1 427.3L700.1 427.9L702.1 428.5L704.1 429.2L706.1 429.8L708.1 430.4L710.1 431.1L712.0 431.7L714.0 432.4L716.0 433.0L718.0 433.7L720.0 434.4L722.0 435.0L724.0 435.7L726.0 436.4L728.0 437.1" stroke="#ff00ff"/>
<path d="M80.0 104.9L82.0 105.1L84.0 105.3L86.0 105.6L88.0 105.8L90.0 106.0L92.0 106.2L94.0 106.4L96.0 106.6L97.9 106.8L99.9 107.0L101.9 107.2L103.9 107.4L105.9 107.6L107.9 107.8L109.9 107.9L111.9 108.1L113.9 108.3L115.9 108.5L117.9 108.6L119.9 108.8L121.9 109.0L123.9 109.2L125.9 109.3L127.9 109.5L129.8 109.7L131.8 109.8L133.8 110.0L135.8 110.2L137.8 110.3L139.8 110.5L141.8 110.7L143.8 110.8L145.8 111.0L147.8 111.2L149.8 111.3L151.8 111.5L153.8 111.7L155.8 111.9L157.8 112.0L159.8 112.2L161.7 112.4L163.7 112.6L165.7 112.8L167.7 113.0L169.7 113.2L171.7 113.4L173.7 113.6L175.7 113.8L177.7 114.0L179.7 114.2L181.7 114.4L183.7 114.7L185.7 114.9L187.7 115.1L189.7 115.4L191.7 115.6L193.6 115.9L195.6 116.1L197.6 116.4L199.6 116.7L201.6 117.0L203.6 117.2L205.6 117.5L207.6 117.8L209.6 118.1L211.6 118.5L213.6 118.8L215.6 119.1L217.6 119.4L219.6 119.8L221.6 120.1L223.6 120.5L225.6 120.9L227.5 121.3L229.5 121.7L231.5 122.1L233.5 122.5L235.5 122.9L237.5 123.3L239.5 123.8L241.5 124.2L243.5 124.7L245.5 125.1L247.5 125.6L249.5 126.1L251.5 126.6L253.5 127.2L255.5 127.7L257.5 128.2L259.4 128.8L261.4 129.4L263.4 129.9L265.4 130.5L267.4 131.1L269.4 131.8L271.4 132.4L273.4 133.0L275.4 133.7L277.4 134.4L279.4 135.1L281.4 135.8L283.4 136.5L285.4 137.2L287.4 138.0L289.4 138.7L291.3 139.5L293.3 140.3L295.3 141.1L297.3 141.9L299.3 142.8L301.3 143.6L303.3 144.5L305.3 145.4L307.3 146.3L309.3 147.3L311.3 148.2L313.3 149.2L315.3 150.1L317.3 151.1L319.3 152.2L321.3 153.2L323.2 154.3L325.2 155.4L327.2 156.5L329.2 157.7L331.2 158.9L333.2 160.1L335.2 161.4L337.2 162.7L339.2 164.0L341.2 165.4L343.2 166.8L345.2 168.3L347.2 169.8L349.2 171.4L351.2 173.0L353.2 174.7L355.2 176.4L357.1 178.2L359.1 180.0L361.1 181.9L363.1 183.8L365.1 185.9L367.1 187.9L369.1 190.1L371.1 192.3L373.1 194.6L375.1 197.0L377.1 199.4L379.1 201.9L381.1 204.5L383.1 207.1L385.1 209.9L387.1 212.7L389.0 215.6L391.0 218.6L393.0 221.7L395.0 224.9L397.0 228.1L399.0 231.5L401.0 234.9L403.0 238.4L405.0 241.9L407.0 245.5L409.0 249.2L411.0 252.9L413.0 256.7L415.0 260.5L417.0 264.4L419.0 268.3L420.9 272.2L422.9 276.2L424.9 280.2L426.9 284.2L428.9 288.2L430.9 292.2L432.9 296.2L434.9 300.2L436.9 304.2L438.9 308.1L440.9 312.0L442.9 315.8L444.9 319.5L446.9 323.1L448.9 326.7L450.9 330.1L452.8 333.4L454.8 336.6L456.8 339.7L458.8 342.7L460.8 345.6L462.8 348.4L464.8 351.0L466.8 353.6L468.8 356.1L470.8 358.6L472.8 360.9L474.8 363.2L476.8 365.3L478.8 367.5L480.8 369.5L482.8 371.5L484.8 373.4L486.7 375.3L488.7 377.1L490.7 378.9L492.7 380.7L494.7 382.4L496.7 384.0L498.7 385.7L500.7 387.3L502.7 388.8L504.7 390.4L506.7 391.9L508.7 393.4L510.7 394.9L512.7 396.3L514.7 397.7L516.7 399.1L518.6 400.5L520.6 401.9L522.6 403.2L524.6 404.5L526.6 405.7L528.6 407.0L530.6 408.2L532.6 409.4L534.6 410.6L536.6 411.8L538.6 412.9L540.6 414.0L542.6 415.1L544.6 416.2L546.6 417.3L548.6 418.3L550.5 419.3L552.5 420.3L554.5 421.3L556.5 422.3L558.5 423.2L560.5 424.1L562.5 425.0L564.5 425.9L566.5 426.8L568.5 427.6L570.5 428.5L572.5 429.3L574.5 430.1L576.5 430.8L578.5 431.6L580.5 432.4L582.4 433.1L584.4 433.8L586.4 434.5L588.4 435.2L590.4 435.9L592.4 436.5L594.4 437.2L596.4 437.8L598.4 438.4L600.4 439.1L602.4 439.6L604.4 440.2L606.4 440.8L608.4 441.4L610.4 441.9L612.4 442.4L614.4 443.0L616.3 443.5L618.3 444.0L620.3 444.5L622.3 445.0L624.3 445.4L626.3 445.9L628.3 446.3L630.3 446.8L632.3 447.2L634.3 447.7L636.3 448.1L638.3 448.5L640.3 448.9L642.3 449.3L644.3 449.7L646.3 450.1L648.2 450.5L650.2 450.8L652.2 451.2L654.2 451.6L656.2 451.9L658.2 452.3L660.2 452.6L662.2 453.0L664.2 453.3L666.2 453.6L668.2 454.0L670.2 454.3L672.2 454.6L674.2 455.0L676.2 455.3L678.2 455.6L680.1 455.9L682.1 456.2L684.1 456.6L686.1 456.9L688.1 457.2L690.1 457.5L692.1 457.8L694.1 458.1L696.1 458.5L698.1 458.8L700.1 459.1L702.1 459.4L704.1 459.7L706.1 460.0L708.1 460.4L710.1 460.7L712.0 461.0L714.0 461.4L716.0 461.7L718.0 462.0L720.0 462.4L722.0 462.7L724.0 463.1L726.0 463.4L728.0 463.8" stroke="#008000"/>
<path d="M79 80.7L404.5 80.7L414.3 492L729 492" stroke="#c0183c" stroke-dasharray="19.4 12"/>
</g>
<rect x="79.0" y="57.5" width="650.0" height="457.5" fill="none" stroke="#000" stroke-width="2.3"/>
<path d="M79.0 515.0v-12M79.0 57.5v12M187.3 515.0v-12M187.3 57.5v12M295.7 515.0v-12M295.7 57.5v12M404.0 515.0v-12M404.0 57.5v12M512.3 515.0v-12M512.3 57.5v12M620.7 515.0v-12M620.7 57.5v12M729.0 515.0v-12M729.0 57.5v12M133.2 515.0v-6M133.2 57.5v6M241.5 515.0v-6M241.5 57.5v6M349.8 515.0v-6M349.8 57.5v6M458.2 515.0v-6M458.2 57.5v6M566.5 515.0v-6M566.5 57.5v6M674.8 515.0v-6M674.8 57.5v6M79.0 492.0h12M729.0 492.0h-12M79.0 354.8h12M729.0 354.8h-12M79.0 217.7h12M729.0 217.7h-12M79.0 80.5h12M729.0 80.5h-12M79.0 423.4h6M729.0 423.4h-6M79.0 286.3h6M729.0 286.3h-6M79.0 149.1h6M729.0 149.1h-6" stroke="#000" stroke-width="2.2" fill="none"/>
<path d="M597.3 94.0h12.8M616.9 94.0h13" stroke="#000000" stroke-width="4"/>
<text x="641.3" y="104.2" class="lg">0°</text>
<path d="M597.3 121.1h33.2" stroke="#ff0000" stroke-width="4"/>
<text x="641.3" y="131.3" class="lg">20°</text>
<path d="M597.3 148.2h33.2" stroke="#0000ff" stroke-width="4"/>
<text x="641.3" y="158.4" class="lg">40°</text>
<path d="M597.3 175.3h33.2" stroke="#00ff00" stroke-width="4"/>
<text x="641.3" y="185.5" class="lg">60°</text>
<path d="M597.3 202.4h33.2" stroke="#ffa500" stroke-width="4"/>
<text x="641.3" y="212.6" class="lg">80°</text>
<path d="M597.3 229.5h33.2" stroke="#40e0d0" stroke-width="4"/>
<text x="641.3" y="239.7" class="lg">100°</text>
<path d="M597.3 256.6h33.2" stroke="#7220bd" stroke-width="4"/>
<text x="641.3" y="266.8" class="lg">120°</text>
<path d="M597.3 283.7h33.2" stroke="#ff00ff" stroke-width="4"/>
<text x="641.3" y="293.9" class="lg">140°</text>
<path d="M597.3 310.8h33.2" stroke="#008000" stroke-width="4"/>
<text x="641.3" y="321.0" class="lg">160°</text>
<path d="M597.3 337.9h12.8M616.9 337.9h13" stroke="#c0183c" stroke-width="4"/>
<text x="641.3" y="348.1" class="lg">180°</text>
<text x="79.0" y="544" class="tk" text-anchor="middle">6.5</text>
<text x="187.3" y="544" class="tk" text-anchor="middle">7</text>
<text x="295.7" y="544" class="tk" text-anchor="middle">7.5</text>
<text x="404.0" y="544" class="tk" text-anchor="middle">8</text>
<text x="512.3" y="544" class="tk" text-anchor="middle">8.5</text>
<text x="620.7" y="544" class="tk" text-anchor="middle">9</text>
<text x="729.0" y="544" class="tk" text-anchor="middle">9.5</text>
<text x="74.5" y="503.0" class="tk" text-anchor="end">0</text>
<text x="74.5" y="365.8" class="tk" text-anchor="end">30</text>
<text x="74.5" y="228.7" class="tk" text-anchor="end">60</text>
<text x="74.5" y="91.5" class="tk" text-anchor="end">90</text>
<text x="359.5" y="577" class="al">R (a<tspan font-size="25" dy="13">0</tspan><tspan dy="-13">)</tspan></text>
<text transform="translate(27 284.5) rotate(-90)" class="al" text-anchor="middle">Mixing angle (°)</text>
<text x="-0.8" y="34.6" class="pl" style="font-size:41.5px">a</text>
<clipPath id="cb"><rect x="830.0" y="54.5" width="649.8" height="456.9"/></clipPath>
<g clip-path="url(#cb)" fill="none" stroke-width="4" stroke-linejoin="round">
<path d="M831.0 122.5L833.0 123.1L835.0 123.6L837.0 124.1L839.0 124.6L841.0 125.1L843.0 125.6L845.0 126.0L847.0 126.4L849.0 126.9L851.0 127.3L853.0 127.7L855.0 128.1L857.0 128.6L859.0 129.0L861.0 129.5L863.0 129.9L864.9 130.4L866.9 130.9L868.9 131.4L870.9 131.9L872.9 132.5L874.9 133.1L876.9 133.7L878.9 134.4L880.9 135.1L882.9 135.8L884.9 136.6L886.9 137.4L888.9 138.3L890.9 139.3L892.9 140.3L894.9 141.3L896.9 142.4L898.9 143.6L900.9 144.9L902.9 146.2L904.9 147.6L906.9 149.0L908.9 150.6L910.9 152.2L912.9 153.9L914.9 155.7L916.9 157.6L918.9 159.6L920.9 161.7L922.9 163.9L924.9 166.2L926.9 168.6L928.8 171.1L930.8 173.7L932.8 176.4L934.8 179.2L936.8 182.2L938.8 185.3L940.8 188.4L942.8 191.7L944.8 195.1L946.8 198.7L948.8 202.3L950.8 206.1L952.8 210.0L954.8 214.0L956.8 218.2L958.8 222.5L960.8 226.9L962.8 231.3L964.8 235.9L966.8 240.6L968.8 245.3L970.8 250.1L972.8 254.9L974.8 259.8L976.8 264.7L978.8 269.6L980.8 274.5L982.8 279.4L984.8 284.3L986.8 289.2L988.8 294.1L990.8 298.9L992.8 303.7L994.7 308.4L996.7 313.0L998.7 317.6L1000.7 322.1L1002.7 326.5L1004.7 330.7L1006.7 334.9L1008.7 339.0L1010.7 343.0L1012.7 346.9L1014.7 350.7L1016.7 354.4L1018.7 357.9L1020.7 361.4L1022.7 364.8L1024.7 368.1L1026.7 371.2L1028.7 374.3L1030.7 377.2L1032.7 380.1L1034.7 382.8L1036.7 385.4L1038.7 388.0L1040.7 390.4L1042.7 392.7L1044.7 394.9L1046.7 397.1L1048.7 399.1L1050.7 401.0L1052.7 402.9L1054.7 404.7L1056.7 406.4L1058.6 408.0L1060.6 409.6L1062.6 411.1L1064.6 412.5L1066.6 413.9L1068.6 415.2L1070.6 416.4L1072.6 417.6L1074.6 418.8L1076.6 419.8L1078.6 420.9L1080.6 421.9L1082.6 422.9L1084.6 423.8L1086.6 424.7L1088.6 425.6L1090.6 426.4L1092.6 427.3L1094.6 428.1L1096.6 428.9L1098.6 429.6L1100.6 430.4L1102.6 431.2L1104.6 431.9L1106.6 432.6L1108.6 433.3L1110.6 434.0L1112.6 434.7L1114.6 435.4L1116.6 436.1L1118.6 436.7L1120.6 437.3L1122.5 438.0L1124.5 438.6L1126.5 439.2L1128.5 439.8L1130.5 440.4L1132.5 441.0L1134.5 441.5L1136.5 442.1L1138.5 442.6L1140.5 443.2L1142.5 443.7L1144.5 444.2L1146.5 444.7L1148.5 445.2L1150.5 445.7L1152.5 446.2L1154.5 446.7L1156.5 447.1L1158.5 447.6L1160.5 448.1L1162.5 448.5L1164.5 448.9L1166.5 449.4L1168.5 449.8L1170.5 450.2L1172.5 450.6L1174.5 451.0L1176.5 451.4L1178.5 451.8L1180.5 452.2L1182.5 452.6L1184.5 453.0L1186.5 453.3L1188.4 453.7L1190.4 454.1L1192.4 454.4L1194.4 454.8L1196.4 455.1L1198.4 455.4L1200.4 455.8L1202.4 456.1L1204.4 456.4L1206.4 456.7L1208.4 457.0L1210.4 457.3L1212.4 457.6L1214.4 457.9L1216.4 458.2L1218.4 458.5L1220.4 458.7L1222.4 459.0L1224.4 459.3L1226.4 459.5L1228.4 459.8L1230.4 460.1L1232.4 460.3L1234.4 460.6L1236.4 460.8L1238.4 461.0L1240.4 461.3L1242.4 461.5L1244.4 461.7L1246.4 461.9L1248.4 462.2L1250.4 462.4L1252.3 462.6L1254.3 462.8L1256.3 463.0L1258.3 463.2L1260.3 463.4L1262.3 463.6L1264.3 463.8L1266.3 464.0L1268.3 464.2L1270.3 464.3L1272.3 464.5L1274.3 464.7L1276.3 464.9L1278.3 465.0L1280.3 465.2L1282.3 465.4L1284.3 465.5L1286.3 465.7L1288.3 465.9L1290.3 466.0L1292.3 466.2L1294.3 466.3L1296.3 466.5L1298.3 466.7L1300.3 466.8L1302.3 467.0L1304.3 467.1L1306.3 467.2L1308.3 467.4L1310.3 467.5L1312.3 467.7L1314.3 467.8L1316.2 467.9L1318.2 468.1L1320.2 468.2L1322.2 468.3L1324.2 468.4L1326.2 468.6L1328.2 468.7L1330.2 468.8L1332.2 468.9L1334.2 469.0L1336.2 469.2L1338.2 469.3L1340.2 469.4L1342.2 469.5L1344.2 469.6L1346.2 469.7L1348.2 469.8L1350.2 469.9L1352.2 470.0L1354.2 470.1L1356.2 470.2L1358.2 470.3L1360.2 470.4L1362.2 470.5L1364.2 470.6L1366.2 470.7L1368.2 470.8L1370.2 470.9L1372.2 470.9L1374.2 471.0L1376.2 471.1L1378.2 471.2L1380.2 471.3L1382.1 471.4L1384.1 471.4L1386.1 471.5L1388.1 471.6L1390.1 471.7L1392.1 471.7L1394.1 471.8L1396.1 471.9L1398.1 472.0L1400.1 472.0L1402.1 472.1L1404.1 472.2L1406.1 472.2L1408.1 472.3L1410.1 472.3L1412.1 472.4L1414.1 472.5L1416.1 472.5L1418.1 472.6L1420.1 472.7L1422.1 472.7L1424.1 472.8L1426.1 472.8L1428.1 472.9L1430.1 472.9L1432.1 473.0L1434.1 473.0L1436.1 473.1L1438.1 473.1L1440.1 473.2L1442.1 473.2L1444.1 473.3L1446.0 473.3L1448.0 473.4L1450.0 473.4L1452.0 473.5L1454.0 473.5L1456.0 473.5L1458.0 473.6L1460.0 473.6L1462.0 473.7L1464.0 473.7L1466.0 473.8L1468.0 473.8L1470.0 473.8L1472.0 473.9L1474.0 473.9L1476.0 474.0L1478.0 474.0" stroke="#000000"/>
<path d="M831.0 126.3L833.0 126.7L835.0 127.1L837.0 127.6L839.0 128.0L841.0 128.5L843.0 129.0L845.0 129.5L847.0 130.0L849.0 130.6L851.0 131.2L853.0 131.8L855.0 132.4L857.0 133.1L859.0 133.8L861.0 134.5L863.0 135.3L864.9 136.1L866.9 137.0L868.9 137.9L870.9 138.8L872.9 139.8L874.9 140.8L876.9 141.9L878.9 143.1L880.9 144.3L882.9 145.5L884.9 146.9L886.9 148.2L888.9 149.7L890.9 151.2L892.9 152.8L894.9 154.4L896.9 156.1L898.9 157.9L900.9 159.8L902.9 161.7L904.9 163.8L906.9 165.9L908.9 168.1L910.9 170.4L912.9 172.7L914.9 175.2L916.9 177.7L918.9 180.4L920.9 183.1L922.9 186.0L924.9 188.9L926.9 191.9L928.8 195.1L930.8 198.3L932.8 201.7L934.8 205.1L936.8 208.7L938.8 212.4L940.8 216.1L942.8 220.0L944.8 224.0L946.8 228.1L948.8 232.3L950.8 236.7L952.8 241.1L954.8 245.6L956.8 250.3L958.8 255.0L960.8 259.8L962.8 264.7L964.8 269.6L966.8 274.6L968.8 279.7L970.8 284.8L972.8 289.9L974.8 295.0L976.8 300.1L978.8 305.1L980.8 310.0L982.8 314.9L984.8 319.6L986.8 324.3L988.8 328.8L990.8 333.2L992.8 337.5L994.7 341.6L996.7 345.7L998.7 349.6L1000.7 353.4L1002.7 357.0L1004.7 360.5L1006.7 363.9L1008.7 367.1L1010.7 370.2L1012.7 373.2L1014.7 376.0L1016.7 378.7L1018.7 381.3L1020.7 383.8L1022.7 386.1L1024.7 388.4L1026.7 390.6L1028.7 392.6L1030.7 394.6L1032.7 396.5L1034.7 398.3L1036.7 400.1L1038.7 401.8L1040.7 403.4L1042.7 405.0L1044.7 406.6L1046.7 408.1L1048.7 409.5L1050.7 410.9L1052.7 412.3L1054.7 413.6L1056.7 414.9L1058.6 416.2L1060.6 417.4L1062.6 418.6L1064.6 419.8L1066.6 420.9L1068.6 422.0L1070.6 423.1L1072.6 424.1L1074.6 425.1L1076.6 426.1L1078.6 427.0L1080.6 427.9L1082.6 428.8L1084.6 429.7L1086.6 430.6L1088.6 431.4L1090.6 432.2L1092.6 433.0L1094.6 433.7L1096.6 434.5L1098.6 435.2L1100.6 435.9L1102.6 436.6L1104.6 437.3L1106.6 437.9L1108.6 438.6L1110.6 439.2L1112.6 439.8L1114.6 440.4L1116.6 441.1L1118.6 441.6L1120.6 442.2L1122.5 442.8L1124.5 443.4L1126.5 443.9L1128.5 444.5L1130.5 445.0L1132.5 445.5L1134.5 446.1L1136.5 446.6L1138.5 447.1L1140.5 447.6L1142.5 448.0L1144.5 448.5L1146.5 449.0L1148.5 449.4L1150.5 449.9L1152.5 450.3L1154.5 450.8L1156.5 451.2L1158.5 451.6L1160.5 452.0L1162.5 452.4L1164.5 452.8L1166.5 453.2L1168.5 453.6L1170.5 454.0L1172.5 454.3L1174.5 454.7L1176.5 455.1L1178.5 455.4L1180.5 455.7L1182.5 456.1L1184.5 456.4L1186.5 456.7L1188.4 457.1L1190.4 457.4L1192.4 457.7L1194.4 458.0L1196.4 458.3L1198.4 458.6L1200.4 458.8L1202.4 459.1L1204.4 459.4L1206.4 459.7L1208.4 459.9L1210.4 460.2L1212.4 460.4L1214.4 460.7L1216.4 460.9L1218.4 461.2L1220.4 461.4L1222.4 461.7L1224.4 461.9L1226.4 462.1L1228.4 462.3L1230.4 462.5L1232.4 462.8L1234.4 463.0L1236.4 463.2L1238.4 463.4L1240.4 463.6L1242.4 463.8L1244.4 464.0L1246.4 464.1L1248.4 464.3L1250.4 464.5L1252.3 464.7L1254.3 464.9L1256.3 465.0L1258.3 465.2L1260.3 465.4L1262.3 465.6L1264.3 465.7L1266.3 465.9L1268.3 466.1L1270.3 466.2L1272.3 466.4L1274.3 466.5L1276.3 466.7L1278.3 466.8L1280.3 467.0L1282.3 467.1L1284.3 467.3L1286.3 467.4L1288.3 467.6L1290.3 467.7L1292.3 467.9L1294.3 468.0L1296.3 468.1L1298.3 468.3L1300.3 468.4L1302.3 468.5L1304.3 468.7L1306.3 468.8L1308.3 468.9L1310.3 469.1L1312.3 469.2L1314.3 469.3L1316.2 469.4L1318.2 469.6L1320.2 469.7L1322.2 469.8L1324.2 469.9L1326.2 470.0L1328.2 470.1L1330.2 470.2L1332.2 470.4L1334.2 470.5L1336.2 470.6L1338.2 470.7L1340.2 470.8L1342.2 470.9L1344.2 471.0L1346.2 471.1L1348.2 471.2L1350.2 471.3L1352.2 471.4L1354.2 471.5L1356.2 471.6L1358.2 471.7L1360.2 471.8L1362.2 471.9L1364.2 471.9L1366.2 472.0L1368.2 472.1L1370.2 472.2L1372.2 472.3L1374.2 472.4L1376.2 472.5L1378.2 472.5L1380.2 472.6L1382.1 472.7L1384.1 472.8L1386.1 472.9L1388.1 472.9L1390.1 473.0L1392.1 473.1L1394.1 473.2L1396.1 473.2L1398.1 473.3L1400.1 473.4L1402.1 473.4L1404.1 473.5L1406.1 473.6L1408.1 473.6L1410.1 473.7L1412.1 473.8L1414.1 473.8L1416.1 473.9L1418.1 474.0L1420.1 474.0L1422.1 474.1L1424.1 474.2L1426.1 474.2L1428.1 474.3L1430.1 474.3L1432.1 474.4L1434.1 474.4L1436.1 474.5L1438.1 474.6L1440.1 474.6L1442.1 474.7L1444.1 474.7L1446.0 474.8L1448.0 474.8L1450.0 474.9L1452.0 474.9L1454.0 475.0L1456.0 475.0L1458.0 475.1L1460.0 475.1L1462.0 475.2L1464.0 475.2L1466.0 475.3L1468.0 475.3L1470.0 475.4L1472.0 475.4L1474.0 475.5L1476.0 475.5L1478.0 475.6" stroke="#ff0000"/>
<path d="M831.0 132.7L833.0 133.1L835.0 133.4L837.0 133.8L839.0 134.2L841.0 134.7L843.0 135.1L845.0 135.6L847.0 136.1L849.0 136.7L851.0 137.3L853.0 137.9L855.0 138.5L857.0 139.2L859.0 140.0L861.0 140.7L863.0 141.6L864.9 142.4L866.9 143.3L868.9 144.3L870.9 145.3L872.9 146.4L874.9 147.5L876.9 148.7L878.9 149.9L880.9 151.2L882.9 152.6L884.9 154.0L886.9 155.4L888.9 157.0L890.9 158.6L892.9 160.3L894.9 162.0L896.9 163.9L898.9 165.8L900.9 167.7L902.9 169.8L904.9 171.9L906.9 174.1L908.9 176.4L910.9 178.8L912.9 181.2L914.9 183.8L916.9 186.4L918.9 189.1L920.9 192.0L922.9 194.9L924.9 197.9L926.9 201.0L928.8 204.2L930.8 207.4L932.8 210.8L934.8 214.2L936.8 217.8L938.8 221.4L940.8 225.0L942.8 228.8L944.8 232.6L946.8 236.5L948.8 240.4L950.8 244.4L952.8 248.5L954.8 252.6L956.8 256.8L958.8 261.0L960.8 265.2L962.8 269.4L964.8 273.7L966.8 278.0L968.8 282.3L970.8 286.6L972.8 290.9L974.8 295.1L976.8 299.3L978.8 303.4L980.8 307.5L982.8 311.4L984.8 315.3L986.8 319.1L988.8 322.8L990.8 326.4L992.8 329.9L994.7 333.4L996.7 336.7L998.7 340.0L1000.7 343.1L1002.7 346.2L1004.7 349.2L1006.7 352.2L1008.7 355.0L1010.7 357.8L1012.7 360.5L1014.7 363.2L1016.7 365.7L1018.7 368.2L1020.7 370.7L1022.7 373.1L1024.7 375.4L1026.7 377.6L1028.7 379.8L1030.7 381.9L1032.7 384.0L1034.7 386.0L1036.7 388.0L1038.7 389.9L1040.7 391.8L1042.7 393.6L1044.7 395.4L1046.7 397.2L1048.7 398.8L1050.7 400.5L1052.7 402.1L1054.7 403.7L1056.7 405.2L1058.6 406.7L1060.6 408.1L1062.6 409.5L1064.6 410.9L1066.6 412.2L1068.6 413.5L1070.6 414.8L1072.6 416.0L1074.6 417.2L1076.6 418.4L1078.6 419.5L1080.6 420.6L1082.6 421.6L1084.6 422.7L1086.6 423.7L1088.6 424.6L1090.6 425.6L1092.6 426.5L1094.6 427.4L1096.6 428.3L1098.6 429.1L1100.6 429.9L1102.6 430.7L1104.6 431.5L1106.6 432.2L1108.6 432.9L1110.6 433.6L1112.6 434.3L1114.6 434.9L1116.6 435.6L1118.6 436.2L1120.6 436.8L1122.5 437.4L1124.5 438.0L1126.5 438.5L1128.5 439.0L1130.5 439.6L1132.5 440.1L1134.5 440.6L1136.5 441.1L1138.5 441.5L1140.5 442.0L1142.5 442.5L1144.5 442.9L1146.5 443.3L1148.5 443.8L1150.5 444.2L1152.5 444.6L1154.5 445.0L1156.5 445.4L1158.5 445.8L1160.5 446.2L1162.5 446.6L1164.5 447.0L1166.5 447.4L1168.5 447.7L1170.5 448.1L1172.5 448.5L1174.5 448.9L1176.5 449.2L1178.5 449.6L1180.5 449.9L1182.5 450.3L1184.5 450.6L1186.5 451.0L1188.4 451.3L1190.4 451.7L1192.4 452.0L1194.4 452.3L1196.4 452.6L1198.4 453.0L1200.4 453.3L1202.4 453.6L1204.4 453.9L1206.4 454.2L1208.4 454.5L1210.4 454.8L1212.4 455.1L1214.4 455.4L1216.4 455.7L1218.4 455.9L1220.4 456.2L1222.4 456.5L1224.4 456.8L1226.4 457.0L1228.4 457.3L1230.4 457.6L1232.4 457.8L1234.4 458.1L1236.4 458.3L1238.4 458.6L1240.4 458.8L1242.4 459.0L1244.4 459.3L1246.4 459.5L1248.4 459.7L1250.4 460.0L1252.3 460.2L1254.3 460.4L1256.3 460.6L1258.3 460.8L1260.3 461.0L1262.3 461.2L1264.3 461.5L1266.3 461.7L1268.3 461.8L1270.3 462.0L1272.3 462.2L1274.3 462.4L1276.3 462.6L1278.3 462.8L1280.3 463.0L1282.3 463.1L1284.3 463.3L1286.3 463.5L1288.3 463.6L1290.3 463.8L1292.3 464.0L1294.3 464.1L1296.3 464.3L1298.3 464.4L1300.3 464.6L1302.3 464.7L1304.3 464.9L1306.3 465.0L1308.3 465.1L1310.3 465.3L1312.3 465.4L1314.3 465.5L1316.2 465.7L1318.2 465.8L1320.2 465.9L1322.2 466.0L1324.2 466.2L1326.2 466.3L1328.2 466.4L1330.2 466.5L1332.2 466.6L1334.2 466.7L1336.2 466.8L1338.2 466.9L1340.2 467.0L1342.2 467.2L1344.2 467.3L1346.2 467.4L1348.2 467.5L1350.2 467.5L1352.2 467.6L1354.2 467.7L1356.2 467.8L1358.2 467.9L1360.2 468.0L1362.2 468.1L1364.2 468.2L1366.2 468.3L1368.2 468.4L1370.2 468.4L1372.2 468.5L1374.2 468.6L1376.2 468.7L1378.2 468.8L1380.2 468.8L1382.1 468.9L1384.1 469.0L1386.1 469.1L1388.1 469.1L1390.1 469.2L1392.1 469.3L1394.1 469.3L1396.1 469.4L1398.1 469.5L1400.1 469.6L1402.1 469.6L1404.1 469.7L1406.1 469.8L1408.1 469.8L1410.1 469.9L1412.1 470.0L1414.1 470.0L1416.1 470.1L1418.1 470.2L1420.1 470.2L1422.1 470.3L1424.1 470.4L1426.1 470.4L1428.1 470.5L1430.1 470.6L1432.1 470.6L1434.1 470.7L1436.1 470.8L1438.1 470.8L1440.1 470.9L1442.1 471.0L1444.1 471.0L1446.0 471.1L1448.0 471.2L1450.0 471.2L1452.0 471.3L1454.0 471.4L1456.0 471.4L1458.0 471.5L1460.0 471.6L1462.0 471.6L1464.0 471.7L1466.0 471.8L1468.0 471.9L1470.0 471.9L1472.0 472.0L1474.0 472.1L1476.0 472.2L1478.0 472.3" stroke="#0000ff"/>
<path d="M831.0 118.6L833.0 119.1L835.0 119.6L837.0 120.1L839.0 120.5L841.0 121.0L843.0 121.4L845.0 121.9L847.0 122.4L849.0 122.8L851.0 123.3L853.0 123.7L855.0 124.2L857.0 124.6L859.0 125.1L861.0 125.5L863.0 126.0L864.9 126.4L866.9 126.9L868.9 127.4L870.9 127.9L872.9 128.4L874.9 128.9L876.9 129.4L878.9 129.9L880.9 130.4L882.9 131.0L884.9 131.5L886.9 132.1L888.9 132.7L890.9 133.3L892.9 133.9L894.9 134.5L896.9 135.2L898.9 135.8L900.9 136.5L902.9 137.2L904.9 137.9L906.9 138.6L908.9 139.4L910.9 140.2L912.9 141.0L914.9 141.8L916.9 142.7L918.9 143.5L920.9 144.4L922.9 145.4L924.9 146.3L926.9 147.3L928.8 148.3L930.8 149.4L932.8 150.4L934.8 151.5L936.8 152.7L938.8 153.8L940.8 155.0L942.8 156.3L944.8 157.5L946.8 158.8L948.8 160.2L950.8 161.6L952.8 163.0L954.8 164.4L956.8 165.9L958.8 167.4L960.8 169.0L962.8 170.6L964.8 172.3L966.8 174.0L968.8 175.7L970.8 177.5L972.8 179.4L974.8 181.2L976.8 183.2L978.8 185.1L980.8 187.2L982.8 189.2L984.8 191.3L986.8 193.5L988.8 195.7L990.8 198.0L992.8 200.4L994.7 202.8L996.7 205.3L998.7 207.8L1000.7 210.5L1002.7 213.2L1004.7 216.1L1006.7 219.0L1008.7 222.0L1010.7 225.1L1012.7 228.4L1014.7 231.7L1016.7 235.0L1018.7 238.5L1020.7 242.0L1022.7 245.6L1024.7 249.2L1026.7 252.9L1028.7 256.5L1030.7 260.2L1032.7 263.8L1034.7 267.4L1036.7 271.0L1038.7 274.6L1040.7 278.1L1042.7 281.6L1044.7 285.0L1046.7 288.4L1048.7 291.8L1050.7 295.1L1052.7 298.4L1054.7 301.6L1056.7 304.8L1058.6 308.0L1060.6 311.1L1062.6 314.1L1064.6 317.2L1066.6 320.2L1068.6 323.1L1070.6 326.0L1072.6 328.9L1074.6 331.7L1076.6 334.5L1078.6 337.2L1080.6 339.9L1082.6 342.5L1084.6 345.1L1086.6 347.7L1088.6 350.2L1090.6 352.7L1092.6 355.1L1094.6 357.5L1096.6 359.8L1098.6 362.1L1100.6 364.3L1102.6 366.5L1104.6 368.7L1106.6 370.8L1108.6 372.9L1110.6 375.0L1112.6 377.0L1114.6 378.9L1116.6 380.9L1118.6 382.8L1120.6 384.6L1122.5 386.4L1124.5 388.2L1126.5 390.0L1128.5 391.7L1130.5 393.3L1132.5 395.0L1134.5 396.6L1136.5 398.1L1138.5 399.7L1140.5 401.2L1142.5 402.6L1144.5 404.1L1146.5 405.5L1148.5 406.8L1150.5 408.2L1152.5 409.5L1154.5 410.8L1156.5 412.0L1158.5 413.2L1160.5 414.4L1162.5 415.6L1164.5 416.7L1166.5 417.8L1168.5 418.9L1170.5 420.0L1172.5 421.0L1174.5 422.0L1176.5 423.0L1178.5 423.9L1180.5 424.8L1182.5 425.8L1184.5 426.6L1186.5 427.5L1188.4 428.3L1190.4 429.1L1192.4 429.9L1194.4 430.7L1196.4 431.4L1198.4 432.2L1200.4 432.9L1202.4 433.6L1204.4 434.2L1206.4 434.9L1208.4 435.5L1210.4 436.1L1212.4 436.7L1214.4 437.3L1216.4 437.9L1218.4 438.4L1220.4 439.0L1222.4 439.5L1224.4 440.0L1226.4 440.5L1228.4 441.0L1230.4 441.4L1232.4 441.9L1234.4 442.3L1236.4 442.7L1238.4 443.2L1240.4 443.6L1242.4 444.0L1244.4 444.3L1246.4 444.7L1248.4 445.1L1250.4 445.4L1252.3 445.8L1254.3 446.1L1256.3 446.5L1258.3 446.8L1260.3 447.1L1262.3 447.4L1264.3 447.7L1266.3 448.0L1268.3 448.3L1270.3 448.6L1272.3 448.9L1274.3 449.2L1276.3 449.5L1278.3 449.8L1280.3 450.1L1282.3 450.3L1284.3 450.6L1286.3 450.9L1288.3 451.2L1290.3 451.4L1292.3 451.7L1294.3 452.0L1296.3 452.2L1298.3 452.5L1300.3 452.8L1302.3 453.0L1304.3 453.3L1306.3 453.5L1308.3 453.8L1310.3 454.1L1312.3 454.3L1314.3 454.6L1316.2 454.8L1318.2 455.1L1320.2 455.3L1322.2 455.5L1324.2 455.8L1326.2 456.0L1328.2 456.3L1330.2 456.5L1332.2 456.7L1334.2 457.0L1336.2 457.2L1338.2 457.4L1340.2 457.6L1342.2 457.9L1344.2 458.1L1346.2 458.3L1348.2 458.5L1350.2 458.7L1352.2 459.0L1354.2 459.2L1356.2 459.4L1358.2 459.6L1360.2 459.8L1362.2 460.0L1364.2 460.2L1366.2 460.4L1368.2 460.6L1370.2 460.8L1372.2 461.0L1374.2 461.1L1376.2 461.3L1378.2 461.5L1380.2 461.7L1382.1 461.9L1384.1 462.0L1386.1 462.2L1388.1 462.4L1390.1 462.6L1392.1 462.7L1394.1 462.9L1396.1 463.0L1398.1 463.2L1400.1 463.4L1402.1 463.5L1404.1 463.7L1406.1 463.8L1408.1 464.0L1410.1 464.1L1412.1 464.2L1414.1 464.4L1416.1 464.5L1418.1 464.6L1420.1 464.8L1422.1 464.9L1424.1 465.0L1426.1 465.1L1428.1 465.3L1430.1 465.4L1432.1 465.5L1434.1 465.6L1436.1 465.7L1438.1 465.8L1440.1 465.9L1442.1 466.0L1444.1 466.1L1446.0 466.2L1448.0 466.3L1450.0 466.4L1452.0 466.4L1454.0 466.5L1456.0 466.6L1458.0 466.7L1460.0 466.7L1462.0 466.8L1464.0 466.9L1466.0 466.9L1468.0 467.0L1470.0 467.0L1472.0 467.1L1474.0 467.1L1476.0 467.2L1478.0 467.2" stroke="#00ff00"/>
<path d="M831.0 102.4L833.0 102.8L835.0 103.2L837.0 103.6L839.0 104.0L841.0 104.3L843.0 104.7L845.0 105.0L847.0 105.4L849.0 105.7L851.0 106.0L853.0 106.4L855.0 106.7L857.0 107.0L859.0 107.3L861.0 107.5L863.0 107.8L864.9 108.1L866.9 108.3L868.9 108.6L870.9 108.9L872.9 109.1L874.9 109.3L876.9 109.6L878.9 109.8L880.9 110.0L882.9 110.3L884.9 110.5L886.9 110.7L888.9 110.9L890.9 111.1L892.9 111.3L894.9 111.5L896.9 111.8L898.9 112.0L900.9 112.2L902.9 112.4L904.9 112.6L906.9 112.8L908.9 113.0L910.9 113.2L912.9 113.4L914.9 113.6L916.9 113.8L918.9 114.0L920.9 114.2L922.9 114.4L924.9 114.6L926.9 114.9L928.8 115.1L930.8 115.3L932.8 115.6L934.8 115.8L936.8 116.0L938.8 116.3L940.8 116.5L942.8 116.8L944.8 117.1L946.8 117.3L948.8 117.6L950.8 117.9L952.8 118.2L954.8 118.5L956.8 118.8L958.8 119.1L960.8 119.4L962.8 119.8L964.8 120.1L966.8 120.5L968.8 120.8L970.8 121.2L972.8 121.6L974.8 122.0L976.8 122.4L978.8 122.8L980.8 123.2L982.8 123.7L984.8 124.1L986.8 124.6L988.8 125.1L990.8 125.6L992.8 126.1L994.7 126.6L996.7 127.1L998.7 127.7L1000.7 128.3L1002.7 128.8L1004.7 129.4L1006.7 130.1L1008.7 130.7L1010.7 131.3L1012.7 132.0L1014.7 132.7L1016.7 133.4L1018.7 134.1L1020.7 134.8L1022.7 135.6L1024.7 136.4L1026.7 137.2L1028.7 138.0L1030.7 138.8L1032.7 139.7L1034.7 140.5L1036.7 141.4L1038.7 142.4L1040.7 143.3L1042.7 144.3L1044.7 145.2L1046.7 146.2L1048.7 147.3L1050.7 148.3L1052.7 149.4L1054.7 150.5L1056.7 151.6L1058.6 152.8L1060.6 153.9L1062.6 155.1L1064.6 156.4L1066.6 157.6L1068.6 158.9L1070.6 160.3L1072.6 161.6L1074.6 163.1L1076.6 164.5L1078.6 166.1L1080.6 167.7L1082.6 169.3L1084.6 171.0L1086.6 172.8L1088.6 174.6L1090.6 176.5L1092.6 178.5L1094.6 180.6L1096.6 182.7L1098.6 185.0L1100.6 187.3L1102.6 189.7L1104.6 192.2L1106.6 194.8L1108.6 197.6L1110.6 200.4L1112.6 203.3L1114.6 206.4L1116.6 209.5L1118.6 212.7L1120.6 216.0L1122.5 219.4L1124.5 222.9L1126.5 226.5L1128.5 230.1L1130.5 233.8L1132.5 237.5L1134.5 241.3L1136.5 245.1L1138.5 249.0L1140.5 252.9L1142.5 256.8L1144.5 260.7L1146.5 264.7L1148.5 268.7L1150.5 272.6L1152.5 276.6L1154.5 280.5L1156.5 284.4L1158.5 288.4L1160.5 292.2L1162.5 296.1L1164.5 299.9L1166.5 303.7L1168.5 307.5L1170.5 311.2L1172.5 314.9L1174.5 318.6L1176.5 322.2L1178.5 325.7L1180.5 329.2L1182.5 332.6L1184.5 335.9L1186.5 339.2L1188.4 342.4L1190.4 345.6L1192.4 348.7L1194.4 351.6L1196.4 354.5L1198.4 357.3L1200.4 360.1L1202.4 362.7L1204.4 365.2L1206.4 367.7L1208.4 370.0L1210.4 372.3L1212.4 374.5L1214.4 376.7L1216.4 378.8L1218.4 380.8L1220.4 382.7L1222.4 384.6L1224.4 386.5L1226.4 388.3L1228.4 390.0L1230.4 391.7L1232.4 393.4L1234.4 395.0L1236.4 396.6L1238.4 398.1L1240.4 399.6L1242.4 401.1L1244.4 402.5L1246.4 403.9L1248.4 405.3L1250.4 406.6L1252.3 407.9L1254.3 409.2L1256.3 410.4L1258.3 411.7L1260.3 412.8L1262.3 414.0L1264.3 415.1L1266.3 416.2L1268.3 417.3L1270.3 418.4L1272.3 419.4L1274.3 420.4L1276.3 421.4L1278.3 422.4L1280.3 423.3L1282.3 424.3L1284.3 425.2L1286.3 426.1L1288.3 427.0L1290.3 427.9L1292.3 428.8L1294.3 429.6L1296.3 430.4L1298.3 431.2L1300.3 432.0L1302.3 432.8L1304.3 433.6L1306.3 434.3L1308.3 435.1L1310.3 435.8L1312.3 436.5L1314.3 437.2L1316.2 437.9L1318.2 438.6L1320.2 439.2L1322.2 439.9L1324.2 440.5L1326.2 441.1L1328.2 441.7L1330.2 442.3L1332.2 442.9L1334.2 443.5L1336.2 444.0L1338.2 444.6L1340.2 445.1L1342.2 445.6L1344.2 446.2L1346.2 446.7L1348.2 447.1L1350.2 447.6L1352.2 448.1L1354.2 448.6L1356.2 449.0L1358.2 449.4L1360.2 449.9L1362.2 450.3L1364.2 450.7L1366.2 451.1L1368.2 451.5L1370.2 451.9L1372.2 452.3L1374.2 452.6L1376.2 453.0L1378.2 453.3L1380.2 453.7L1382.1 454.0L1384.1 454.4L1386.1 454.7L1388.1 455.0L1390.1 455.3L1392.1 455.6L1394.1 455.9L1396.1 456.2L1398.1 456.5L1400.1 456.8L1402.1 457.0L1404.1 457.3L1406.1 457.6L1408.1 457.8L1410.1 458.1L1412.1 458.3L1414.1 458.6L1416.1 458.8L1418.1 459.0L1420.1 459.3L1422.1 459.5L1424.1 459.7L1426.1 459.9L1428.1 460.1L1430.1 460.4L1432.1 460.6L1434.1 460.8L1436.1 461.0L1438.1 461.2L1440.1 461.4L1442.1 461.6L1444.1 461.8L1446.0 462.0L1448.0 462.2L1450.0 462.4L1452.0 462.5L1454.0 462.7L1456.0 462.9L1458.0 463.1L1460.0 463.3L1462.0 463.5L1464.0 463.7L1466.0 463.9L1468.0 464.1L1470.0 464.3L1472.0 464.4L1474.0 464.6L1476.0 464.8L1478.0 465.0" stroke="#ffa500"/>
<path d="M831.0 95.9L833.0 96.0L835.0 96.2L837.0 96.3L839.0 96.5L841.0 96.6L843.0 96.7L845.0 96.9L847.0 97.0L849.0 97.1L851.0 97.2L853.0 97.4L855.0 97.5L857.0 97.6L859.0 97.7L861.0 97.8L863.0 97.9L864.9 98.0L866.9 98.1L868.9 98.2L870.9 98.3L872.9 98.4L874.9 98.5L876.9 98.6L878.9 98.7L880.9 98.8L882.9 98.9L884.9 99.0L886.9 99.1L888.9 99.2L890.9 99.3L892.9 99.4L894.9 99.5L896.9 99.6L898.9 99.7L900.9 99.8L902.9 99.9L904.9 100.0L906.9 100.1L908.9 100.2L910.9 100.3L912.9 100.4L914.9 100.5L916.9 100.6L918.9 100.7L920.9 100.8L922.9 100.9L924.9 101.0L926.9 101.2L928.8 101.3L930.8 101.4L932.8 101.5L934.8 101.7L936.8 101.8L938.8 101.9L940.8 102.1L942.8 102.2L944.8 102.4L946.8 102.5L948.8 102.7L950.8 102.8L952.8 103.0L954.8 103.2L956.8 103.3L958.8 103.5L960.8 103.7L962.8 103.9L964.8 104.1L966.8 104.3L968.8 104.5L970.8 104.7L972.8 104.9L974.8 105.2L976.8 105.4L978.8 105.6L980.8 105.9L982.8 106.1L984.8 106.4L986.8 106.6L988.8 106.9L990.8 107.2L992.8 107.5L994.7 107.8L996.7 108.1L998.7 108.4L1000.7 108.7L1002.7 109.0L1004.7 109.3L1006.7 109.7L1008.7 110.0L1010.7 110.4L1012.7 110.8L1014.7 111.1L1016.7 111.5L1018.7 111.9L1020.7 112.3L1022.7 112.7L1024.7 113.1L1026.7 113.6L1028.7 114.0L1030.7 114.5L1032.7 114.9L1034.7 115.4L1036.7 115.9L1038.7 116.4L1040.7 116.9L1042.7 117.4L1044.7 117.9L1046.7 118.5L1048.7 119.0L1050.7 119.6L1052.7 120.2L1054.7 120.7L1056.7 121.3L1058.6 121.9L1060.6 122.6L1062.6 123.2L1064.6 123.8L1066.6 124.5L1068.6 125.2L1070.6 125.9L1072.6 126.6L1074.6 127.3L1076.6 128.0L1078.6 128.7L1080.6 129.5L1082.6 130.2L1084.6 131.0L1086.6 131.8L1088.6 132.6L1090.6 133.5L1092.6 134.3L1094.6 135.1L1096.6 136.0L1098.6 136.9L1100.6 137.8L1102.6 138.7L1104.6 139.6L1106.6 140.6L1108.6 141.5L1110.6 142.5L1112.6 143.5L1114.6 144.5L1116.6 145.5L1118.6 146.6L1120.6 147.6L1122.5 148.7L1124.5 149.8L1126.5 150.9L1128.5 152.0L1130.5 153.2L1132.5 154.3L1134.5 155.5L1136.5 156.7L1138.5 157.9L1140.5 159.2L1142.5 160.4L1144.5 161.7L1146.5 163.1L1148.5 164.5L1150.5 165.9L1152.5 167.4L1154.5 168.9L1156.5 170.5L1158.5 172.2L1160.5 173.9L1162.5 175.7L1164.5 177.6L1166.5 179.6L1168.5 181.6L1170.5 183.8L1172.5 186.0L1174.5 188.3L1176.5 190.7L1178.5 193.2L1180.5 195.8L1182.5 198.5L1184.5 201.2L1186.5 204.1L1188.4 207.0L1190.4 210.0L1192.4 213.0L1194.4 216.2L1196.4 219.4L1198.4 222.6L1200.4 226.0L1202.4 229.3L1204.4 232.8L1206.4 236.3L1208.4 239.8L1210.4 243.4L1212.4 247.1L1214.4 250.8L1216.4 254.5L1218.4 258.3L1220.4 262.1L1222.4 266.0L1224.4 269.8L1226.4 273.7L1228.4 277.6L1230.4 281.6L1232.4 285.5L1234.4 289.4L1236.4 293.4L1238.4 297.3L1240.4 301.2L1242.4 305.1L1244.4 309.0L1246.4 312.8L1248.4 316.6L1250.4 320.4L1252.3 324.1L1254.3 327.8L1256.3 331.4L1258.3 335.0L1260.3 338.5L1262.3 342.0L1264.3 345.4L1266.3 348.7L1268.3 351.9L1270.3 355.0L1272.3 358.1L1274.3 361.0L1276.3 363.9L1278.3 366.6L1280.3 369.3L1282.3 371.9L1284.3 374.4L1286.3 376.8L1288.3 379.1L1290.3 381.4L1292.3 383.6L1294.3 385.7L1296.3 387.7L1298.3 389.7L1300.3 391.6L1302.3 393.5L1304.3 395.3L1306.3 397.0L1308.3 398.7L1310.3 400.4L1312.3 402.0L1314.3 403.5L1316.2 405.1L1318.2 406.5L1320.2 408.0L1322.2 409.4L1324.2 410.8L1326.2 412.2L1328.2 413.5L1330.2 414.8L1332.2 416.1L1334.2 417.3L1336.2 418.5L1338.2 419.7L1340.2 420.9L1342.2 422.0L1344.2 423.1L1346.2 424.2L1348.2 425.3L1350.2 426.3L1352.2 427.3L1354.2 428.3L1356.2 429.2L1358.2 430.1L1360.2 431.1L1362.2 431.9L1364.2 432.8L1366.2 433.6L1368.2 434.5L1370.2 435.2L1372.2 436.0L1374.2 436.8L1376.2 437.5L1378.2 438.2L1380.2 438.9L1382.1 439.6L1384.1 440.2L1386.1 440.9L1388.1 441.5L1390.1 442.1L1392.1 442.7L1394.1 443.3L1396.1 443.8L1398.1 444.4L1400.1 444.9L1402.1 445.4L1404.1 445.9L1406.1 446.4L1408.1 446.8L1410.1 447.3L1412.1 447.7L1414.1 448.1L1416.1 448.5L1418.1 448.9L1420.1 449.3L1422.1 449.7L1424.1 450.1L1426.1 450.4L1428.1 450.8L1430.1 451.1L1432.1 451.4L1434.1 451.8L1436.1 452.1L1438.1 452.4L1440.1 452.7L1442.1 453.0L1444.1 453.3L1446.0 453.5L1448.0 453.8L1450.0 454.1L1452.0 454.3L1454.0 454.6L1456.0 454.8L1458.0 455.1L1460.0 455.3L1462.0 455.6L1464.0 455.8L1466.0 456.1L1468.0 456.3L1470.0 456.5L1472.0 456.8L1474.0 457.0L1476.0 457.2L1478.0 457.5" stroke="#40e0d0"/>
<path d="M831.0 96.2L833.0 96.3L835.0 96.4L837.0 96.6L839.0 96.7L841.0 96.8L843.0 96.9L845.0 97.0L847.0 97.1L849.0 97.3L851.0 97.4L853.0 97.5L855.0 97.6L857.0 97.7L859.0 97.8L861.0 97.9L863.0 98.0L864.9 98.1L866.9 98.2L868.9 98.3L870.9 98.4L872.9 98.5L874.9 98.6L876.9 98.6L878.9 98.7L880.9 98.8L882.9 98.9L884.9 99.0L886.9 99.1L888.9 99.2L890.9 99.3L892.9 99.4L894.9 99.5L896.9 99.6L898.9 99.6L900.9 99.7L902.9 99.8L904.9 99.9L906.9 100.0L908.9 100.1L910.9 100.2L912.9 100.3L914.9 100.4L916.9 100.5L918.9 100.6L920.9 100.7L922.9 100.8L924.9 100.9L926.9 101.0L928.8 101.1L930.8 101.2L932.8 101.4L934.8 101.5L936.8 101.6L938.8 101.7L940.8 101.8L942.8 102.0L944.8 102.1L946.8 102.2L948.8 102.3L950.8 102.5L952.8 102.6L954.8 102.8L956.8 102.9L958.8 103.1L960.8 103.2L962.8 103.4L964.8 103.5L966.8 103.7L968.8 103.9L970.8 104.0L972.8 104.2L974.8 104.4L976.8 104.6L978.8 104.7L980.8 104.9L982.8 105.1L984.8 105.3L986.8 105.5L988.8 105.7L990.8 106.0L992.8 106.2L994.7 106.4L996.7 106.6L998.7 106.9L1000.7 107.1L1002.7 107.4L1004.7 107.6L1006.7 107.9L1008.7 108.1L1010.7 108.4L1012.7 108.7L1014.7 109.0L1016.7 109.2L1018.7 109.5L1020.7 109.8L1022.7 110.1L1024.7 110.5L1026.7 110.8L1028.7 111.1L1030.7 111.4L1032.7 111.8L1034.7 112.1L1036.7 112.5L1038.7 112.8L1040.7 113.2L1042.7 113.6L1044.7 114.0L1046.7 114.4L1048.7 114.8L1050.7 115.2L1052.7 115.6L1054.7 116.0L1056.7 116.4L1058.6 116.9L1060.6 117.3L1062.6 117.8L1064.6 118.2L1066.6 118.7L1068.6 119.2L1070.6 119.7L1072.6 120.2L1074.6 120.7L1076.6 121.2L1078.6 121.7L1080.6 122.3L1082.6 122.8L1084.6 123.4L1086.6 123.9L1088.6 124.5L1090.6 125.1L1092.6 125.7L1094.6 126.3L1096.6 126.9L1098.6 127.5L1100.6 128.1L1102.6 128.8L1104.6 129.4L1106.6 130.1L1108.6 130.8L1110.6 131.5L1112.6 132.2L1114.6 132.9L1116.6 133.6L1118.6 134.3L1120.6 135.0L1122.5 135.8L1124.5 136.6L1126.5 137.3L1128.5 138.1L1130.5 138.9L1132.5 139.7L1134.5 140.6L1136.5 141.4L1138.5 142.2L1140.5 143.1L1142.5 144.0L1144.5 144.9L1146.5 145.8L1148.5 146.8L1150.5 147.8L1152.5 148.8L1154.5 149.9L1156.5 151.0L1158.5 152.1L1160.5 153.3L1162.5 154.5L1164.5 155.8L1166.5 157.2L1168.5 158.6L1170.5 160.0L1172.5 161.5L1174.5 163.1L1176.5 164.7L1178.5 166.5L1180.5 168.2L1182.5 170.1L1184.5 172.0L1186.5 174.1L1188.4 176.2L1190.4 178.3L1192.4 180.6L1194.4 183.0L1196.4 185.4L1198.4 188.0L1200.4 190.7L1202.4 193.4L1204.4 196.3L1206.4 199.3L1208.4 202.3L1210.4 205.5L1212.4 208.9L1214.4 212.3L1216.4 215.8L1218.4 219.5L1220.4 223.3L1222.4 227.3L1224.4 231.3L1226.4 235.4L1228.4 239.6L1230.4 243.9L1232.4 248.2L1234.4 252.6L1236.4 257.0L1238.4 261.4L1240.4 265.8L1242.4 270.2L1244.4 274.6L1246.4 278.9L1248.4 283.2L1250.4 287.4L1252.3 291.6L1254.3 295.7L1256.3 299.8L1258.3 303.8L1260.3 307.7L1262.3 311.6L1264.3 315.4L1266.3 319.2L1268.3 322.8L1270.3 326.5L1272.3 330.0L1274.3 333.6L1276.3 337.0L1278.3 340.4L1280.3 343.7L1282.3 346.9L1284.3 350.1L1286.3 353.2L1288.3 356.3L1290.3 359.3L1292.3 362.2L1294.3 365.0L1296.3 367.8L1298.3 370.5L1300.3 373.1L1302.3 375.7L1304.3 378.2L1306.3 380.7L1308.3 383.0L1310.3 385.3L1312.3 387.6L1314.3 389.8L1316.2 391.9L1318.2 394.0L1320.2 396.0L1322.2 398.0L1324.2 399.9L1326.2 401.7L1328.2 403.5L1330.2 405.3L1332.2 407.0L1334.2 408.6L1336.2 410.2L1338.2 411.8L1340.2 413.2L1342.2 414.7L1344.2 416.1L1346.2 417.5L1348.2 418.8L1350.2 420.0L1352.2 421.3L1354.2 422.4L1356.2 423.6L1358.2 424.7L1360.2 425.8L1362.2 426.8L1364.2 427.8L1366.2 428.7L1368.2 429.7L1370.2 430.6L1372.2 431.4L1374.2 432.2L1376.2 433.0L1378.2 433.8L1380.2 434.5L1382.1 435.2L1384.1 435.9L1386.1 436.6L1388.1 437.2L1390.1 437.8L1392.1 438.4L1394.1 438.9L1396.1 439.5L1398.1 440.0L1400.1 440.5L1402.1 441.0L1404.1 441.4L1406.1 441.9L1408.1 442.3L1410.1 442.7L1412.1 443.1L1414.1 443.5L1416.1 443.9L1418.1 444.3L1420.1 444.6L1422.1 445.0L1424.1 445.3L1426.1 445.7L1428.1 446.0L1430.1 446.3L1432.1 446.6L1434.1 446.9L1436.1 447.3L1438.1 447.6L1440.1 447.9L1442.1 448.2L1444.1 448.5L1446.0 448.8L1448.0 449.1L1450.0 449.5L1452.0 449.8L1454.0 450.1L1456.0 450.5L1458.0 450.8L1460.0 451.2L1462.0 451.6L1464.0 452.0L1466.0 452.4L1468.0 452.8L1470.0 453.2L1472.0 453.6L1474.0 454.1L1476.0 454.6L1478.0 455.0" stroke="#7220bd"/>
<path d="M831.0 95.3L833.0 95.4L835.0 95.5L837.0 95.7L839.0 95.8L841.0 95.9L843.0 96.0L845.0 96.2L847.0 96.3L849.0 96.4L851.0 96.5L853.0 96.6L855.0 96.8L857.0 96.9L859.0 97.0L861.0 97.1L863.0 97.2L864.9 97.3L866.9 97.5L868.9 97.6L870.9 97.7L872.9 97.8L874.9 97.9L876.9 98.0L878.9 98.1L880.9 98.2L882.9 98.4L884.9 98.5L886.9 98.6L888.9 98.7L890.9 98.8L892.9 98.9L894.9 99.1L896.9 99.2L898.9 99.3L900.9 99.4L902.9 99.5L904.9 99.7L906.9 99.8L908.9 99.9L910.9 100.0L912.9 100.2L914.9 100.3L916.9 100.4L918.9 100.6L920.9 100.7L922.9 100.9L924.9 101.0L926.9 101.1L928.8 101.3L930.8 101.4L932.8 101.6L934.8 101.7L936.8 101.9L938.8 102.1L940.8 102.2L942.8 102.4L944.8 102.6L946.8 102.7L948.8 102.9L950.8 103.1L952.8 103.3L954.8 103.5L956.8 103.7L958.8 103.9L960.8 104.1L962.8 104.3L964.8 104.5L966.8 104.7L968.8 104.9L970.8 105.1L972.8 105.4L974.8 105.6L976.8 105.8L978.8 106.1L980.8 106.3L982.8 106.6L984.8 106.9L986.8 107.1L988.8 107.4L990.8 107.7L992.8 107.9L994.7 108.2L996.7 108.5L998.7 108.8L1000.7 109.1L1002.7 109.4L1004.7 109.7L1006.7 110.1L1008.7 110.4L1010.7 110.7L1012.7 111.1L1014.7 111.4L1016.7 111.8L1018.7 112.1L1020.7 112.5L1022.7 112.9L1024.7 113.3L1026.7 113.7L1028.7 114.1L1030.7 114.5L1032.7 114.9L1034.7 115.3L1036.7 115.7L1038.7 116.2L1040.7 116.6L1042.7 117.1L1044.7 117.5L1046.7 118.0L1048.7 118.5L1050.7 118.9L1052.7 119.4L1054.7 119.9L1056.7 120.5L1058.6 121.0L1060.6 121.5L1062.6 122.0L1064.6 122.6L1066.6 123.1L1068.6 123.7L1070.6 124.3L1072.6 124.9L1074.6 125.5L1076.6 126.1L1078.6 126.7L1080.6 127.3L1082.6 127.9L1084.6 128.6L1086.6 129.2L1088.6 129.9L1090.6 130.6L1092.6 131.3L1094.6 132.0L1096.6 132.7L1098.6 133.4L1100.6 134.1L1102.6 134.8L1104.6 135.6L1106.6 136.4L1108.6 137.2L1110.6 138.0L1112.6 138.8L1114.6 139.7L1116.6 140.6L1118.6 141.5L1120.6 142.4L1122.5 143.4L1124.5 144.4L1126.5 145.4L1128.5 146.5L1130.5 147.6L1132.5 148.7L1134.5 149.9L1136.5 151.1L1138.5 152.4L1140.5 153.7L1142.5 155.1L1144.5 156.5L1146.5 157.9L1148.5 159.4L1150.5 161.0L1152.5 162.6L1154.5 164.3L1156.5 166.1L1158.5 167.9L1160.5 169.8L1162.5 171.8L1164.5 173.9L1166.5 176.1L1168.5 178.4L1170.5 180.9L1172.5 183.5L1174.5 186.2L1176.5 189.0L1178.5 191.9L1180.5 195.0L1182.5 198.2L1184.5 201.5L1186.5 205.0L1188.4 208.5L1190.4 212.2L1192.4 216.0L1194.4 219.9L1196.4 223.9L1198.4 228.0L1200.4 232.2L1202.4 236.6L1204.4 241.0L1206.4 245.5L1208.4 250.0L1210.4 254.6L1212.4 259.2L1214.4 263.9L1216.4 268.6L1218.4 273.2L1220.4 277.9L1222.4 282.6L1224.4 287.2L1226.4 291.8L1228.4 296.3L1230.4 300.8L1232.4 305.2L1234.4 309.5L1236.4 313.7L1238.4 317.9L1240.4 322.0L1242.4 326.0L1244.4 329.8L1246.4 333.6L1248.4 337.3L1250.4 340.8L1252.3 344.3L1254.3 347.6L1256.3 350.9L1258.3 354.1L1260.3 357.1L1262.3 360.1L1264.3 363.0L1266.3 365.9L1268.3 368.6L1270.3 371.3L1272.3 373.9L1274.3 376.5L1276.3 378.9L1278.3 381.4L1280.3 383.7L1282.3 386.0L1284.3 388.3L1286.3 390.4L1288.3 392.6L1290.3 394.7L1292.3 396.7L1294.3 398.6L1296.3 400.6L1298.3 402.4L1300.3 404.3L1302.3 406.0L1304.3 407.8L1306.3 409.4L1308.3 411.1L1310.3 412.6L1312.3 414.2L1314.3 415.7L1316.2 417.1L1318.2 418.5L1320.2 419.9L1322.2 421.2L1324.2 422.5L1326.2 423.7L1328.2 424.9L1330.2 426.1L1332.2 427.2L1334.2 428.3L1336.2 429.3L1338.2 430.4L1340.2 431.3L1342.2 432.3L1344.2 433.2L1346.2 434.1L1348.2 434.9L1350.2 435.8L1352.2 436.5L1354.2 437.3L1356.2 438.0L1358.2 438.8L1360.2 439.4L1362.2 440.1L1364.2 440.7L1366.2 441.3L1368.2 441.9L1370.2 442.5L1372.2 443.0L1374.2 443.5L1376.2 444.0L1378.2 444.5L1380.2 444.9L1382.1 445.4L1384.1 445.8L1386.1 446.2L1388.1 446.6L1390.1 446.9L1392.1 447.3L1394.1 447.6L1396.1 448.0L1398.1 448.3L1400.1 448.6L1402.1 448.9L1404.1 449.2L1406.1 449.5L1408.1 449.7L1410.1 450.0L1412.1 450.3L1414.1 450.5L1416.1 450.8L1418.1 451.0L1420.1 451.2L1422.1 451.5L1424.1 451.7L1426.1 451.9L1428.1 452.2L1430.1 452.4L1432.1 452.7L1434.1 452.9L1436.1 453.1L1438.1 453.4L1440.1 453.6L1442.1 453.9L1444.1 454.1L1446.0 454.4L1448.0 454.7L1450.0 454.9L1452.0 455.2L1454.0 455.5L1456.0 455.8L1458.0 456.2L1460.0 456.5L1462.0 456.9L1464.0 457.2L1466.0 457.6L1468.0 458.0L1470.0 458.4L1472.0 458.8L1474.0 459.2L1476.0 459.7L1478.0 460.2" stroke="#ff00ff"/>
<path d="M831.0 96.4L833.0 96.7L835.0 97.0L837.0 97.3L839.0 97.6L841.0 97.9L843.0 98.2L845.0 98.5L847.0 98.7L849.0 99.0L851.0 99.2L853.0 99.5L855.0 99.7L857.0 99.9L859.0 100.1L861.0 100.3L863.0 100.5L864.9 100.7L866.9 100.9L868.9 101.1L870.9 101.3L872.9 101.5L874.9 101.6L876.9 101.8L878.9 102.0L880.9 102.1L882.9 102.3L884.9 102.4L886.9 102.6L888.9 102.7L890.9 102.9L892.9 103.0L894.9 103.1L896.9 103.3L898.9 103.4L900.9 103.5L902.9 103.6L904.9 103.8L906.9 103.9L908.9 104.0L910.9 104.1L912.9 104.3L914.9 104.4L916.9 104.5L918.9 104.6L920.9 104.8L922.9 104.9L924.9 105.0L926.9 105.2L928.8 105.3L930.8 105.4L932.8 105.6L934.8 105.7L936.8 105.8L938.8 106.0L940.8 106.1L942.8 106.3L944.8 106.4L946.8 106.6L948.8 106.8L950.8 106.9L952.8 107.1L954.8 107.3L956.8 107.5L958.8 107.6L960.8 107.8L962.8 108.0L964.8 108.2L966.8 108.5L968.8 108.7L970.8 108.9L972.8 109.1L974.8 109.4L976.8 109.6L978.8 109.9L980.8 110.1L982.8 110.4L984.8 110.7L986.8 111.0L988.8 111.3L990.8 111.6L992.8 111.9L994.7 112.3L996.7 112.6L998.7 112.9L1000.7 113.3L1002.7 113.7L1004.7 114.1L1006.7 114.5L1008.7 114.9L1010.7 115.3L1012.7 115.7L1014.7 116.2L1016.7 116.6L1018.7 117.1L1020.7 117.6L1022.7 118.1L1024.7 118.6L1026.7 119.1L1028.7 119.6L1030.7 120.2L1032.7 120.7L1034.7 121.3L1036.7 121.9L1038.7 122.5L1040.7 123.2L1042.7 123.8L1044.7 124.5L1046.7 125.1L1048.7 125.8L1050.7 126.5L1052.7 127.3L1054.7 128.0L1056.7 128.8L1058.6 129.6L1060.6 130.4L1062.6 131.2L1064.6 132.0L1066.6 132.9L1068.6 133.7L1070.6 134.6L1072.6 135.5L1074.6 136.5L1076.6 137.4L1078.6 138.4L1080.6 139.4L1082.6 140.4L1084.6 141.4L1086.6 142.5L1088.6 143.6L1090.6 144.7L1092.6 145.8L1094.6 147.0L1096.6 148.1L1098.6 149.4L1100.6 150.6L1102.6 151.9L1104.6 153.3L1106.6 154.6L1108.6 156.1L1110.6 157.5L1112.6 159.1L1114.6 160.6L1116.6 162.3L1118.6 164.0L1120.6 165.8L1122.5 167.6L1124.5 169.5L1126.5 171.5L1128.5 173.5L1130.5 175.6L1132.5 177.8L1134.5 180.1L1136.5 182.5L1138.5 184.9L1140.5 187.5L1142.5 190.1L1144.5 192.8L1146.5 195.7L1148.5 198.6L1150.5 201.7L1152.5 204.8L1154.5 208.1L1156.5 211.4L1158.5 214.9L1160.5 218.5L1162.5 222.3L1164.5 226.2L1166.5 230.2L1168.5 234.4L1170.5 238.7L1172.5 243.2L1174.5 247.7L1176.5 252.3L1178.5 257.0L1180.5 261.7L1182.5 266.5L1184.5 271.3L1186.5 276.1L1188.4 280.9L1190.4 285.7L1192.4 290.5L1194.4 295.2L1196.4 299.9L1198.4 304.5L1200.4 309.0L1202.4 313.4L1204.4 317.7L1206.4 321.9L1208.4 326.0L1210.4 329.9L1212.4 333.6L1214.4 337.2L1216.4 340.7L1218.4 344.0L1220.4 347.1L1222.4 350.2L1224.4 353.2L1226.4 356.1L1228.4 358.8L1230.4 361.6L1232.4 364.2L1234.4 366.8L1236.4 369.3L1238.4 371.7L1240.4 374.1L1242.4 376.4L1244.4 378.6L1246.4 380.8L1248.4 382.9L1250.4 385.0L1252.3 387.0L1254.3 389.0L1256.3 390.9L1258.3 392.7L1260.3 394.5L1262.3 396.3L1264.3 398.0L1266.3 399.6L1268.3 401.2L1270.3 402.8L1272.3 404.4L1274.3 405.9L1276.3 407.4L1278.3 408.8L1280.3 410.2L1282.3 411.6L1284.3 412.9L1286.3 414.3L1288.3 415.5L1290.3 416.8L1292.3 418.0L1294.3 419.3L1296.3 420.4L1298.3 421.6L1300.3 422.7L1302.3 423.8L1304.3 424.9L1306.3 426.0L1308.3 427.0L1310.3 428.0L1312.3 429.0L1314.3 429.9L1316.2 430.9L1318.2 431.8L1320.2 432.7L1322.2 433.6L1324.2 434.4L1326.2 435.2L1328.2 436.0L1330.2 436.8L1332.2 437.6L1334.2 438.3L1336.2 439.0L1338.2 439.7L1340.2 440.4L1342.2 441.1L1344.2 441.7L1346.2 442.4L1348.2 443.0L1350.2 443.6L1352.2 444.1L1354.2 444.7L1356.2 445.2L1358.2 445.8L1360.2 446.3L1362.2 446.8L1364.2 447.3L1366.2 447.7L1368.2 448.2L1370.2 448.6L1372.2 449.1L1374.2 449.5L1376.2 449.9L1378.2 450.3L1380.2 450.6L1382.1 451.0L1384.1 451.4L1386.1 451.7L1388.1 452.0L1390.1 452.4L1392.1 452.7L1394.1 453.0L1396.1 453.3L1398.1 453.6L1400.1 453.9L1402.1 454.1L1404.1 454.4L1406.1 454.6L1408.1 454.9L1410.1 455.1L1412.1 455.4L1414.1 455.6L1416.1 455.8L1418.1 456.1L1420.1 456.3L1422.1 456.5L1424.1 456.7L1426.1 456.9L1428.1 457.1L1430.1 457.3L1432.1 457.5L1434.1 457.7L1436.1 457.9L1438.1 458.1L1440.1 458.3L1442.1 458.5L1444.1 458.6L1446.0 458.8L1448.0 459.0L1450.0 459.2L1452.0 459.4L1454.0 459.6L1456.0 459.8L1458.0 460.0L1460.0 460.2L1462.0 460.4L1464.0 460.6L1466.0 460.8L1468.0 461.0L1470.0 461.2L1472.0 461.4L1474.0 461.7L1476.0 461.9L1478.0 462.1" stroke="#008000"/>
<path d="M831.0 98.7L833.0 99.0L835.0 99.4L837.0 99.7L839.0 100.0L841.0 100.3L843.0 100.5L845.0 100.8L847.0 101.1L849.0 101.4L851.0 101.6L853.0 101.9L855.0 102.1L857.0 102.3L859.0 102.6L861.0 102.8L863.0 103.0L864.9 103.2L866.9 103.4L868.9 103.6L870.9 103.8L872.9 104.0L874.9 104.2L876.9 104.4L878.9 104.6L880.9 104.8L882.9 105.0L884.9 105.1L886.9 105.3L888.9 105.5L890.9 105.7L892.9 105.8L894.9 106.0L896.9 106.2L898.9 106.3L900.9 106.5L902.9 106.7L904.9 106.8L906.9 107.0L908.9 107.1L910.9 107.3L912.9 107.5L914.9 107.6L916.9 107.8L918.9 108.0L920.9 108.1L922.9 108.3L924.9 108.5L926.9 108.7L928.8 108.8L930.8 109.0L932.8 109.2L934.8 109.4L936.8 109.6L938.8 109.8L940.8 110.0L942.8 110.2L944.8 110.4L946.8 110.6L948.8 110.8L950.8 111.1L952.8 111.3L954.8 111.5L956.8 111.8L958.8 112.0L960.8 112.3L962.8 112.5L964.8 112.8L966.8 113.1L968.8 113.4L970.8 113.7L972.8 114.0L974.8 114.3L976.8 114.6L978.8 114.9L980.8 115.2L982.8 115.6L984.8 115.9L986.8 116.3L988.8 116.7L990.8 117.1L992.8 117.4L994.7 117.9L996.7 118.3L998.7 118.7L1000.7 119.1L1002.7 119.6L1004.7 120.0L1006.7 120.5L1008.7 121.0L1010.7 121.5L1012.7 122.0L1014.7 122.5L1016.7 123.1L1018.7 123.6L1020.7 124.2L1022.7 124.8L1024.7 125.3L1026.7 126.0L1028.7 126.6L1030.7 127.2L1032.7 127.9L1034.7 128.5L1036.7 129.2L1038.7 129.9L1040.7 130.6L1042.7 131.4L1044.7 132.1L1046.7 132.9L1048.7 133.7L1050.7 134.5L1052.7 135.3L1054.7 136.1L1056.7 137.0L1058.6 137.8L1060.6 138.7L1062.6 139.6L1064.6 140.6L1066.6 141.5L1068.6 142.5L1070.6 143.5L1072.6 144.5L1074.6 145.5L1076.6 146.6L1078.6 147.6L1080.6 148.7L1082.6 149.8L1084.6 151.0L1086.6 152.1L1088.6 153.3L1090.6 154.5L1092.6 155.7L1094.6 157.0L1096.6 158.3L1098.6 159.7L1100.6 161.1L1102.6 162.6L1104.6 164.1L1106.6 165.7L1108.6 167.4L1110.6 169.2L1112.6 171.0L1114.6 173.0L1116.6 175.0L1118.6 177.2L1120.6 179.5L1122.5 181.9L1124.5 184.4L1126.5 187.1L1128.5 189.9L1130.5 192.8L1132.5 195.9L1134.5 199.1L1136.5 202.5L1138.5 206.1L1140.5 209.7L1142.5 213.5L1144.5 217.4L1146.5 221.4L1148.5 225.5L1150.5 229.6L1152.5 233.9L1154.5 238.2L1156.5 242.6L1158.5 247.0L1160.5 251.5L1162.5 256.0L1164.5 260.6L1166.5 265.1L1168.5 269.7L1170.5 274.3L1172.5 278.8L1174.5 283.3L1176.5 287.8L1178.5 292.2L1180.5 296.5L1182.5 300.7L1184.5 304.9L1186.5 309.0L1188.4 313.0L1190.4 316.9L1192.4 320.8L1194.4 324.6L1196.4 328.3L1198.4 331.9L1200.4 335.4L1202.4 338.9L1204.4 342.3L1206.4 345.6L1208.4 348.8L1210.4 351.9L1212.4 355.0L1214.4 358.0L1216.4 360.9L1218.4 363.7L1220.4 366.4L1222.4 369.1L1224.4 371.7L1226.4 374.2L1228.4 376.6L1230.4 378.9L1232.4 381.2L1234.4 383.4L1236.4 385.5L1238.4 387.6L1240.4 389.6L1242.4 391.5L1244.4 393.3L1246.4 395.1L1248.4 396.9L1250.4 398.6L1252.3 400.2L1254.3 401.8L1256.3 403.3L1258.3 404.8L1260.3 406.2L1262.3 407.6L1264.3 409.0L1266.3 410.3L1268.3 411.6L1270.3 412.8L1272.3 414.0L1274.3 415.2L1276.3 416.4L1278.3 417.5L1280.3 418.6L1282.3 419.7L1284.3 420.8L1286.3 421.9L1288.3 422.9L1290.3 423.9L1292.3 424.9L1294.3 425.9L1296.3 426.9L1298.3 427.8L1300.3 428.7L1302.3 429.6L1304.3 430.5L1306.3 431.4L1308.3 432.3L1310.3 433.1L1312.3 433.9L1314.3 434.7L1316.2 435.5L1318.2 436.3L1320.2 437.0L1322.2 437.8L1324.2 438.5L1326.2 439.2L1328.2 439.9L1330.2 440.6L1332.2 441.2L1334.2 441.9L1336.2 442.5L1338.2 443.1L1340.2 443.8L1342.2 444.3L1344.2 444.9L1346.2 445.5L1348.2 446.0L1350.2 446.6L1352.2 447.1L1354.2 447.6L1356.2 448.1L1358.2 448.6L1360.2 449.1L1362.2 449.6L1364.2 450.0L1366.2 450.5L1368.2 450.9L1370.2 451.3L1372.2 451.7L1374.2 452.2L1376.2 452.5L1378.2 452.9L1380.2 453.3L1382.1 453.7L1384.1 454.0L1386.1 454.4L1388.1 454.7L1390.1 455.0L1392.1 455.4L1394.1 455.7L1396.1 456.0L1398.1 456.3L1400.1 456.6L1402.1 456.8L1404.1 457.1L1406.1 457.4L1408.1 457.6L1410.1 457.9L1412.1 458.1L1414.1 458.4L1416.1 458.6L1418.1 458.9L1420.1 459.1L1422.1 459.3L1424.1 459.5L1426.1 459.7L1428.1 459.9L1430.1 460.1L1432.1 460.3L1434.1 460.5L1436.1 460.7L1438.1 460.9L1440.1 461.1L1442.1 461.3L1444.1 461.5L1446.0 461.6L1448.0 461.8L1450.0 462.0L1452.0 462.1L1454.0 462.3L1456.0 462.5L1458.0 462.6L1460.0 462.8L1462.0 463.0L1464.0 463.1L1466.0 463.3L1468.0 463.5L1470.0 463.6L1472.0 463.8L1474.0 463.9L1476.0 464.1L1478.0 464.3" stroke="#c0183c"/>
</g>
<rect x="830.0" y="54.5" width="649.8" height="456.9" fill="none" stroke="#000" stroke-width="2.3"/>
<path d="M830.0 511.4v-12M830.0 54.5v12M992.4 511.4v-12M992.4 54.5v12M1154.9 511.4v-12M1154.9 54.5v12M1317.3 511.4v-12M1317.3 54.5v12M1479.8 511.4v-12M1479.8 54.5v12M911.2 511.4v-6M911.2 54.5v6M1073.7 511.4v-6M1073.7 54.5v6M1236.1 511.4v-6M1236.1 54.5v6M1398.6 511.4v-6M1398.6 54.5v6M830.0 489.2h12M1479.8 489.2h-12M830.0 351.8h12M1479.8 351.8h-12M830.0 214.3h12M1479.8 214.3h-12M830.0 76.9h12M1479.8 76.9h-12M830.0 443.4h6M1479.8 443.4h-6M830.0 397.6h6M1479.8 397.6h-6M830.0 306.0h6M1479.8 306.0h-6M830.0 260.1h6M1479.8 260.1h-6M830.0 168.5h6M1479.8 168.5h-6M830.0 122.7h6M1479.8 122.7h-6" stroke="#000" stroke-width="2.2" fill="none"/>
<path d="M1341.8 103.9h26.4" stroke="#000000" stroke-width="4"/>
<text x="1379.3" y="113.9" class="lg">0°</text>
<path d="M1341.8 131.0h26.4" stroke="#ff0000" stroke-width="4"/>
<text x="1379.3" y="141.0" class="lg">20°</text>
<path d="M1341.8 158.1h26.4" stroke="#0000ff" stroke-width="4"/>
<text x="1379.3" y="168.1" class="lg">40°</text>
<path d="M1341.8 185.2h26.4" stroke="#00ff00" stroke-width="4"/>
<text x="1379.3" y="195.2" class="lg">60°</text>
<path d="M1341.8 212.3h26.4" stroke="#ffa500" stroke-width="4"/>
<text x="1379.3" y="222.3" class="lg">80°</text>
<path d="M1341.8 239.4h26.4" stroke="#40e0d0" stroke-width="4"/>
<text x="1379.3" y="249.4" class="lg">100°</text>
<path d="M1341.8 266.5h26.4" stroke="#7220bd" stroke-width="4"/>
<text x="1379.3" y="276.5" class="lg">120°</text>
<path d="M1341.8 293.6h26.4" stroke="#ff00ff" stroke-width="4"/>
<text x="1379.3" y="303.6" class="lg">140°</text>
<path d="M1341.8 320.7h26.4" stroke="#008000" stroke-width="4"/>
<text x="1379.3" y="330.7" class="lg">160°</text>
<path d="M1341.8 347.8h26.4" stroke="#c0183c" stroke-width="4"/>
<text x="1379.3" y="357.8" class="lg">180°</text>
<text x="830.0" y="540.5" class="tk2" text-anchor="middle">5.4</text>
<text x="992.4" y="540.5" class="tk2" text-anchor="middle">5.6</text>
<text x="1154.9" y="540.5" class="tk2" text-anchor="middle">5.8</text>
<text x="1317.3" y="540.5" class="tk2" text-anchor="middle">6</text>
<text x="1479.8" y="540.5" class="tk2" text-anchor="middle">6.2</text>
<text x="824.5" y="500.0" class="tk2" text-anchor="end">0</text>
<text x="824.5" y="362.6" class="tk2" text-anchor="end">30</text>
<text x="824.5" y="225.1" class="tk2" text-anchor="end">60</text>
<text x="824.5" y="87.7" class="tk2" text-anchor="end">90</text>
<text x="1108" y="574" class="al">R (a<tspan font-size="25" dy="13">0</tspan><tspan dy="-13">)</tspan></text>
<text transform="translate(777.4 281) rotate(-90)" class="al" text-anchor="middle">Mixing angle (°)</text>
<text x="750" y="31" class="pl">b</text>
<path d="M509.6 1066.7L800.4 996.2M569.9 1076.7L860.7 1006.2M630.3 1086.7L921.0 1016.2M690.6 1096.7L981.4 1026.2M751.0 1106.7L1041.8 1036.2M524.3 1043.6L873.7 1101.5M600.4 1025.2L949.9 1083.1M676.5 1006.7L1026.0 1064.7" stroke="#000" stroke-width="1.2" stroke-dasharray="2.6 2.4" fill="none"/>
<path d="M524.0 1040.3L525.5 1041.4L527.0 1042.5L528.5 1043.6L530.0 1044.7L531.5 1045.8L533.0 1046.9L534.5 1048.0L536.0 1049.1L537.5 1050.2L539.0 1051.2L540.5 1052.3L542.0 1053.4L543.6 1054.5L545.1 1055.6L546.7 1056.7L548.3 1057.8L550.0 1058.9L551.6 1060.0L553.3 1061.1L555.1 1062.2L556.8 1063.4L558.5 1064.5L560.3 1065.6L562.0 1066.7L563.7 1067.8L565.4 1068.9L567.1 1069.9L568.7 1071.0L570.3 1072.0L571.8 1073.0L573.3 1074.0L575.1 1075.2L576.8 1076.3L578.4 1077.5L580.0 1078.6L581.6 1079.6L583.1 1080.7L584.6 1081.8L586.2 1082.8L587.7 1083.9L589.3 1085.0" stroke="#00c4f0" stroke-width="2.1" fill="none"/>
<path d="M662.0 1005.5L663.9 1005.6L665.8 1005.8L667.7 1005.9L669.6 1006.0L671.5 1006.2L673.4 1006.3L675.3 1006.4L677.2 1006.6L679.0 1006.7L680.9 1006.9L682.8 1007.0L684.7 1007.1L686.6 1007.3L688.5 1007.4L690.4 1007.5L692.3 1007.6L694.2 1007.7L696.2 1007.8L698.1 1007.9L700.0 1008.0L701.9 1008.1L703.7 1008.1L705.5 1008.2L707.4 1008.2L709.2 1008.3L711.0 1008.3L712.7 1008.4L714.5 1008.4L716.3 1008.4L718.2 1008.4L720.0 1008.4L721.8 1008.5L723.7 1008.5L725.6 1008.5L727.5 1008.5L729.5 1008.5L731.5 1008.6L733.6 1008.6L735.7 1008.6L737.8 1008.7L740.0 1008.7L741.6 1008.7L743.3 1008.8L745.1 1008.8L746.8 1008.8L748.6 1008.9L750.5 1008.9L752.4 1009.0L754.3 1009.0L756.2 1009.1L758.2 1009.1L760.2 1009.2L762.2 1009.2L764.3 1009.3L766.3 1009.3L768.4 1009.4L770.5 1009.4L772.6 1009.5L774.7 1009.5L776.8 1009.6L778.9 1009.6L781.1 1009.7L783.2 1009.7L785.3 1009.8L787.4 1009.8L789.5 1009.9L791.6 1009.9L793.7 1010.0L795.7 1010.0L797.8 1010.1L799.8 1010.1L801.8 1010.2L803.8 1010.3L805.7 1010.3L807.6 1010.4L809.5 1010.4L811.4 1010.5L813.2 1010.5L814.9 1010.6L816.7 1010.6L818.4 1010.7L820.0 1010.7L822.2 1010.8L824.4 1010.8L826.5 1010.9L828.6 1011.0L830.6 1011.0L832.6 1011.1L834.6 1011.2L836.5 1011.3L838.5 1011.3L840.3 1011.4L842.2 1011.5L844.0 1011.5L845.9 1011.6L847.7 1011.7L849.5 1011.7L851.2 1011.8L853.0 1011.8L854.8 1011.9L856.5 1011.9L858.3 1012.0L860.0 1012.0L862.0 1012.0L864.1 1012.1L866.0 1012.1L868.0 1012.1L869.9 1012.1L871.8 1012.1L873.7 1012.1L875.5 1012.1L877.4 1012.0L879.2 1012.0L881.1 1012.0L883.0 1012.0L884.8 1012.0L886.7 1012.0L888.6 1012.0" stroke="#00c4f0" stroke-width="2.1" fill="none"/>
<path d="M656.0 1007.0L657.8 1007.6L659.6 1008.2L661.4 1008.8L663.1 1009.3L664.8 1009.9L666.6 1010.5L668.3 1011.1L670.1 1011.6L672.0 1012.2L673.8 1012.8L675.8 1013.4L677.9 1014.1L680.0 1014.7L681.6 1015.2L683.2 1015.6L684.9 1016.1L686.7 1016.6L688.5 1017.1L690.3 1017.6L692.1 1018.1L694.0 1018.6L696.0 1019.1L697.9 1019.6L699.9 1020.1L701.9 1020.6L703.9 1021.1L705.9 1021.7L707.9 1022.2L709.9 1022.7L712.0 1023.2L714.0 1023.8L716.1 1024.3L718.1 1024.8L720.1 1025.4L722.1 1025.9L724.1 1026.4L726.1 1026.9L728.1 1027.5L730.0 1028.0L731.9 1028.5L733.9 1029.1L735.9 1029.6L737.9 1030.2L740.0 1030.7L742.0 1031.3L744.1 1031.9L746.1 1032.4L748.2 1033.0L750.3 1033.6L752.3 1034.2L754.4 1034.7L756.4 1035.3L758.4 1035.9L760.4 1036.4L762.4 1037.0L764.4 1037.5L766.3 1038.1L768.2 1038.6L770.0 1039.1L771.8 1039.6L773.6 1040.1L775.3 1040.6L776.9 1041.1L778.5 1041.6L780.0 1042.0L782.2 1042.6L784.3 1043.2L786.3 1043.8L788.2 1044.3L790.0 1044.9L791.8 1045.4L793.5 1045.9L795.2 1046.4L796.8 1046.9L798.4 1047.4L800.0 1048.0L801.9 1048.7L803.8 1049.3L805.7 1050.0L807.4 1050.6L809.1 1051.3L810.6 1052.1L812.0 1053.0L813.5 1054.1L815.0 1055.4L816.2 1056.7L817.1 1057.9L817.3 1059.0L816.6 1060.1L815.0 1061.1L813.0 1061.9L811.0 1062.5L809.4 1062.8L807.7 1063.0L805.9 1063.0L804.0 1063.0L802.1 1063.0L800.0 1063.0L798.4 1063.1L796.8 1063.1L795.1 1063.2L793.3 1063.2L791.5 1063.3L789.6 1063.3L787.7 1063.3L785.8 1063.4L783.9 1063.4L781.9 1063.3L780.0 1063.3L778.2 1063.2L776.4 1063.2L774.6 1063.1L772.8 1062.9L771.0 1062.8L769.1 1062.7L767.2 1062.5L765.3 1062.4L763.4 1062.2L761.4 1062.0L759.4 1061.8L757.4 1061.7L755.4 1061.5L753.3 1061.3L751.6 1061.1L749.8 1061.0L748.0 1060.8L746.1 1060.6L744.3 1060.4L742.4 1060.2L740.4 1060.0L738.5 1059.8L736.5 1059.6L734.6 1059.4L732.6 1059.2L730.6 1059.0L728.6 1058.8L726.7 1058.6L724.7 1058.4L722.7 1058.2L720.8 1058.0L718.9 1057.8L717.0 1057.6L715.1 1057.5L713.3 1057.3L711.3 1057.1L709.3 1057.0L707.3 1056.9L705.3 1056.7L703.4 1056.6L701.4 1056.5L699.5 1056.4L697.6 1056.3L695.7 1056.2L693.8 1056.1L691.9 1056.0L689.9 1055.9L688.0 1055.8L686.0 1055.7L684.0 1055.6L682.0 1055.4L680.0 1055.3L678.2 1055.2L676.4 1055.0L674.5 1054.9L672.7 1054.8L670.8 1054.6L669.0 1054.5L667.1 1054.4L665.3 1054.2L663.4 1054.1L661.5 1053.9L659.6 1053.8L657.7 1053.6L655.8 1053.4L653.9 1053.3L651.9 1053.1L650.0 1052.9L648.0 1052.8L646.0 1052.6L644.0 1052.4L642.0 1052.2L640.0 1052.0L638.2 1051.8L636.3 1051.6L634.4 1051.4L632.5 1051.2L630.6 1051.0L628.7 1050.8L626.8 1050.6L624.9 1050.4L622.9 1050.2L621.0 1050.0L619.0 1049.7L617.0 1049.5L615.1 1049.3L613.1 1049.1L611.1 1048.8L609.1 1048.6L607.0 1048.4L605.0 1048.1L603.0 1047.9L601.0 1047.6L598.9 1047.4L596.9 1047.2L594.9 1046.9L592.8 1046.7L590.8 1046.5L588.7 1046.2L586.7 1046.0L584.8 1045.8L582.9 1045.6L580.9 1045.3L579.0 1045.1L577.0 1044.9L575.1 1044.7L573.1 1044.5L571.2 1044.2L569.2 1044.0L567.2 1043.8L565.2 1043.6L563.2 1043.3L561.3 1043.1L559.3 1042.9L557.3 1042.7L555.3 1042.4L553.3 1042.2L551.3 1042.0L549.3 1041.7L547.3 1041.5L545.3 1041.3L543.3 1041.0L541.3 1040.8L539.3 1040.6L537.2 1040.4L535.3 1040.1L533.3 1039.9L531.3 1039.7L529.3 1039.5L527.3 1039.2L525.3 1039.0" stroke="#852080" stroke-width="2.1" fill="none"/>
<path d="M998.4 1071.0L996.4 1070.7L994.5 1070.5L992.5 1070.2L990.5 1069.9L988.5 1069.6L986.6 1069.4L984.6 1069.1L982.6 1068.8L980.6 1068.5L978.6 1068.2L976.6 1067.9L974.6 1067.6L972.6 1067.4L970.6 1067.1L968.7 1066.8L966.7 1066.5L964.7 1066.2L962.7 1065.9L960.7 1065.6L958.7 1065.3L956.7 1065.1L954.7 1064.8L952.7 1064.5L950.8 1064.2L948.8 1063.9L946.8 1063.7L944.8 1063.4L942.9 1063.1L940.9 1062.8L938.9 1062.6L937.0 1062.3L935.0 1062.1L933.1 1061.8L931.1 1061.5L929.2 1061.3L927.2 1061.1L925.3 1060.8L923.4 1060.6L921.5 1060.4L919.6 1060.1L917.7 1059.9L915.8 1059.7L913.9 1059.5L912.0 1059.3L910.0 1059.1L907.9 1058.9L905.8 1058.7L903.7 1058.5L901.6 1058.3L899.5 1058.1L897.3 1057.9L895.2 1057.7L893.0 1057.5L890.9 1057.3L888.7 1057.2L886.6 1057.0L884.5 1056.8L882.3 1056.6L880.2 1056.5L878.1 1056.3L876.0 1056.2L873.9 1056.0L871.8 1055.9L869.7 1055.7L867.7 1055.6L865.7 1055.4L863.7 1055.3L861.8 1055.2L859.8 1055.1L857.9 1054.9L856.1 1054.8L854.3 1054.7L852.5 1054.6L850.8 1054.5L849.1 1054.4L847.4 1054.3L845.8 1054.2L844.3 1054.1L842.8 1054.0L841.4 1054.0L840.0 1053.9L837.7 1053.8L835.7 1053.7L833.8 1053.6L832.1 1053.6L830.5 1053.5L828.9 1053.5L827.3 1053.4L825.6 1053.4L823.9 1053.4L822.0 1053.3L820.0 1053.3L818.4 1053.3L816.6 1053.2L814.8 1053.2L812.9 1053.1L810.9 1053.1L808.9 1053.0L806.8 1053.0L804.7 1052.9L802.6 1052.9L800.5 1052.8L798.3 1052.8L796.2 1052.8L794.1 1052.7L792.1 1052.7L790.1 1052.7L788.2 1052.7L786.4 1052.6L784.6 1052.6L783.0 1052.7L781.4 1052.7L780.0 1052.7L777.9 1052.7L775.9 1052.7L774.0 1052.8L772.3 1052.8L770.8 1052.9L769.3 1053.1L768.0 1053.5L766.0 1054.3L764.3 1055.4L763.5 1056.5L763.9 1057.6L765.1 1058.8L766.7 1060.0L767.9 1060.7L769.2 1061.4L770.8 1062.0L772.4 1062.7L774.2 1063.3L776.1 1064.0L778.0 1064.6L780.0 1065.3L781.6 1065.8L783.3 1066.4L785.1 1067.0L786.9 1067.5L788.8 1068.1L790.8 1068.7L792.8 1069.3L794.8 1069.8L796.8 1070.4L798.8 1071.0L800.8 1071.6L802.8 1072.2L804.8 1072.7L806.7 1073.3L808.6 1073.9L810.5 1074.5L812.4 1075.0L814.3 1075.6L816.2 1076.2L818.1 1076.8L820.0 1077.4L821.9 1078.0L823.8 1078.5L825.7 1079.1L827.6 1079.7L829.5 1080.2L831.4 1080.8L833.3 1081.3L835.2 1081.8L837.1 1082.3L839.0 1082.8L840.9 1083.2L842.8 1083.7L844.6 1084.2L846.5 1084.6L848.4 1085.1L850.3 1085.5L852.3 1086.0L854.2 1086.5L856.1 1086.9L858.0 1087.5L860.0 1088.0L861.9 1088.5L863.7 1089.1L865.6 1089.6L867.5 1090.2L869.4 1090.8L871.3 1091.4L873.2 1092.0L875.1 1092.6L877.0 1093.2L878.9 1093.8L880.8 1094.5L882.8 1095.1L884.7 1095.7L886.6 1096.3L888.5 1096.9L890.4 1097.5" stroke="#5a38b0" stroke-width="2.1" fill="none"/>
<path d="M1074.0 1043.0L1072.1 1042.9L1070.2 1042.8L1068.3 1042.7L1066.4 1042.6L1064.5 1042.5L1062.6 1042.5L1060.7 1042.4L1058.8 1042.3L1056.9 1042.2L1055.0 1042.1L1053.1 1042.0L1051.3 1041.9L1049.4 1041.8L1047.5 1041.7L1045.6 1041.6L1043.7 1041.5L1041.8 1041.5L1039.9 1041.4L1037.9 1041.3L1036.0 1041.2L1034.0 1041.1L1032.1 1041.0L1030.1 1040.9L1028.1 1040.8L1026.1 1040.7L1024.1 1040.6L1022.1 1040.5L1020.0 1040.4L1018.2 1040.3L1016.4 1040.2L1014.5 1040.1L1012.7 1040.0L1010.8 1040.0L1009.0 1039.9L1007.1 1039.8L1005.3 1039.7L1003.4 1039.6L1001.5 1039.5L999.6 1039.4L997.7 1039.3L995.8 1039.2L993.8 1039.1L991.9 1039.0L990.0 1038.9L988.0 1038.8L986.1 1038.7L984.1 1038.6L982.2 1038.5L980.2 1038.4L978.2 1038.3L976.2 1038.2L974.2 1038.1L972.3 1038.0L970.3 1037.9L968.3 1037.8L966.2 1037.7L964.2 1037.6L962.2 1037.5L960.2 1037.4L958.2 1037.3L956.1 1037.2L954.1 1037.1L952.1 1037.0L950.0 1036.9L948.0 1036.8L946.1 1036.7L944.2 1036.6L942.3 1036.5L940.4 1036.4L938.4 1036.3L936.4 1036.2L934.5 1036.1L932.4 1036.0L930.4 1035.8L928.4 1035.7L926.3 1035.6L924.3 1035.5L922.2 1035.4L920.1 1035.3L918.1 1035.1L916.0 1035.0L913.9 1034.9L911.8 1034.8L909.7 1034.7L907.6 1034.5L905.5 1034.4L903.5 1034.3L901.4 1034.2L899.3 1034.1L897.2 1033.9L895.2 1033.8L893.2 1033.7L891.1 1033.6L889.1 1033.5L887.1 1033.4L885.1 1033.3L883.2 1033.2L881.2 1033.1L879.3 1033.0L877.4 1032.9L875.6 1032.8L873.7 1032.7L871.9 1032.6L870.1 1032.5L868.3 1032.4L866.6 1032.3L864.9 1032.2L863.2 1032.1L861.6 1032.1L860.0 1032.0L857.8 1031.9L855.6 1031.8L853.5 1031.7L851.5 1031.7L849.5 1031.6L847.6 1031.5L845.7 1031.5L843.9 1031.4L842.1 1031.4L840.3 1031.3L838.5 1031.3L836.7 1031.2L835.0 1031.2L833.2 1031.1L831.4 1031.1L829.6 1031.0L827.7 1031.0L825.9 1030.9L824.0 1030.9L822.0 1030.8L820.0 1030.7L818.2 1030.6L816.3 1030.5L814.4 1030.4L812.5 1030.4L810.6 1030.3L808.7 1030.2L806.7 1030.1L804.8 1030.0L802.8 1029.8L800.8 1029.7L798.8 1029.6L796.8 1029.5L794.8 1029.4L792.8 1029.3L790.8 1029.2L788.8 1029.1L786.8 1029.0L784.8 1028.8L782.7 1028.7L780.7 1028.6L778.7 1028.5L776.7 1028.4L774.7 1028.3L772.7 1028.2L770.7 1028.2L768.7 1028.1L766.7 1028.0L764.7 1027.9L762.7 1027.9L760.7 1027.8L758.7 1027.7L756.6 1027.7L754.6 1027.6L752.5 1027.5L750.5 1027.5L748.4 1027.4L746.4 1027.4L744.3 1027.3L742.3 1027.3L740.2 1027.2L738.2 1027.2L736.2 1027.1L734.2 1027.1L732.2 1027.1L730.2 1027.0L728.2 1027.0L726.3 1026.9L724.3 1026.9L722.4 1026.9L720.5 1026.8L718.7 1026.8L716.9 1026.8L715.1 1026.7L713.3 1026.7L711.1 1026.7L709.0 1026.6L706.9 1026.6L704.8 1026.5L702.8 1026.4L700.8 1026.4L698.8 1026.3L696.9 1026.3L695.0 1026.2L693.1 1026.2L691.2 1026.2L689.3 1026.2L687.4 1026.2L685.6 1026.2L683.7 1026.2L681.8 1026.2L680.0 1026.3L678.0 1026.4L676.0 1026.5L674.0 1026.6L672.0 1026.7L670.1 1026.9L668.1 1027.0L666.2 1027.2L664.3 1027.4L662.4 1027.6L660.5 1027.8L658.7 1028.0L656.9 1028.2L655.1 1028.5L653.3 1028.7L651.3 1029.0L649.3 1029.3L647.3 1029.5L645.3 1029.8L643.3 1030.1L641.3 1030.5L639.5 1030.8L637.7 1031.2L636.1 1031.7L634.6 1032.1L633.3 1032.7L631.4 1033.7L629.7 1034.9L628.4 1036.2L627.5 1037.5L627.1 1038.9L627.1 1040.5L627.5 1042.0L628.1 1043.3L629.1 1044.6L630.3 1045.9L631.7 1047.3L633.3 1048.7L634.4 1049.6L635.6 1050.6L637.0 1051.6L638.4 1052.6L639.9 1053.7L641.4 1054.7L643.1 1055.8L644.7 1056.9L646.4 1057.9L648.2 1059.0L649.9 1060.0L651.6 1061.0L653.3 1062.0L654.9 1062.9L656.6 1063.9L658.3 1064.8L660.0 1065.7L661.8 1066.6L663.5 1067.4L665.3 1068.3L667.1 1069.2L668.9 1070.1L670.8 1070.9L672.6 1071.8L674.5 1072.7L676.3 1073.5L678.1 1074.4L680.0 1075.3L681.7 1076.1L683.5 1077.0L685.3 1077.8L687.1 1078.6L688.9 1079.5L690.7 1080.3L692.5 1081.1L694.3 1082.0L696.2 1082.8L698.0 1083.6L699.8 1084.4L701.6 1085.3L703.5 1086.1L705.3 1086.9L707.1 1087.7L708.9 1088.5L710.7 1089.3L712.6 1090.1L714.4 1090.9L716.3 1091.7L718.1 1092.5L720.0 1093.3L721.8 1094.1L723.7 1094.9L725.5 1095.7L727.4 1096.4L729.2 1097.2L731.0 1098.0L732.8 1098.8L734.6 1099.6L736.4 1100.4L738.2 1101.2L740.0 1102.0L741.8 1102.8L743.6 1103.7L745.3 1104.5L747.1 1105.4L748.8 1106.2L750.5 1107.1L752.3 1108.0L754.0 1108.8L755.7 1109.7L757.4 1110.6L759.1 1111.4L760.8 1112.3L762.5 1113.2L764.3 1114.0L766.0 1114.9" stroke="#1e8cff" stroke-width="2.1" fill="none"/>
<path d="M803.0 997.5L804.8 998.2L806.6 998.9L808.4 999.6L810.2 1000.2L812.0 1000.9L813.8 1001.6L815.5 1002.2L817.3 1002.9L819.1 1003.6L820.9 1004.3L822.7 1005.0L824.5 1005.7L826.4 1006.4L828.2 1007.2L830.0 1008.0L831.8 1008.8L833.5 1009.6L835.3 1010.5L837.2 1011.3L839.0 1012.2L840.9 1013.2L842.7 1014.1L844.6 1015.0L846.4 1016.0L848.2 1016.9L850.0 1017.8L851.8 1018.7L853.5 1019.6L855.2 1020.4L856.9 1021.2L858.5 1022.0L860.0 1022.7L862.0 1023.6L863.9 1024.3L865.6 1025.0L867.4 1025.7L869.1 1026.3L870.8 1027.0L872.5 1027.8L874.2 1028.6L876.0 1029.6L877.5 1030.5L879.1 1031.5L880.8 1032.5L882.5 1033.6L884.2 1034.8L886.0 1036.0L887.7 1037.2L889.4 1038.4L891.0 1039.7L892.6 1040.9L894.0 1042.2L895.3 1043.4L896.6 1044.6L897.6 1045.8L898.9 1047.4L900.0 1048.9L901.0 1050.5L901.9 1052.1L902.5 1053.6L902.9 1055.1L903.0 1056.6L902.8 1058.2L902.2 1059.8L901.4 1061.4L900.3 1062.9L899.1 1064.3L897.6 1065.6L896.4 1066.5L895.0 1067.3L893.5 1068.0L891.8 1068.6L890.1 1069.3L888.2 1069.8L886.3 1070.4L884.3 1070.9L882.2 1071.4L880.1 1071.9L878.1 1072.3L876.0 1072.8L874.3 1073.2L872.6 1073.5L870.8 1073.9L868.9 1074.2L867.0 1074.5L865.0 1074.8L863.0 1075.1L861.0 1075.3L859.0 1075.6L856.9 1075.8L854.9 1076.1L852.9 1076.3L850.9 1076.5L849.0 1076.7L847.1 1076.9L845.2 1077.1L843.4 1077.2L841.7 1077.4L840.0 1077.5L838.0 1077.7L836.1 1077.8L834.4 1077.8L832.7 1077.9L831.1 1077.9L829.4 1078.0L827.7 1078.0L826.0 1078.0L824.1 1078.1L822.2 1078.1L820.0 1078.2L818.5 1078.3L816.9 1078.3L815.2 1078.4L813.5 1078.5L811.7 1078.6L809.9 1078.7L808.0 1078.8L806.1 1078.9L804.1 1079.0L802.1 1079.1L800.1 1079.3L798.1 1079.4L796.0 1079.5L793.9 1079.6L791.8 1079.7L789.7 1079.8L787.6 1079.9L785.4 1080.0L783.3 1080.1L781.2 1080.2L779.0 1080.3L776.9 1080.4L774.8 1080.5L772.8 1080.6L770.7 1080.6L768.7 1080.7L766.7 1080.7L764.7 1080.7L762.7 1080.8L760.7 1080.8L758.7 1080.8L756.6 1080.8L754.6 1080.8L752.5 1080.8L750.5 1080.8L748.4 1080.7L746.4 1080.7L744.3 1080.7L742.3 1080.7L740.2 1080.6L738.2 1080.6L736.2 1080.6L734.2 1080.5L732.2 1080.5L730.2 1080.4L728.2 1080.4L726.3 1080.3L724.3 1080.3L722.4 1080.2L720.5 1080.2L718.7 1080.1L716.9 1080.1L715.1 1080.0L713.3 1080.0L711.1 1079.9L709.1 1079.9L707.1 1079.8L705.1 1079.7L703.2 1079.7L701.3 1079.6L699.4 1079.5L697.6 1079.4L695.7 1079.4L693.9 1079.3L692.0 1079.2L690.1 1079.1L688.2 1079.0L686.2 1079.0L684.2 1078.9L682.1 1078.8L680.0 1078.7L678.2 1078.6L676.4 1078.6L674.6 1078.5L672.8 1078.4L670.9 1078.4L669.0 1078.3L667.1 1078.2L665.1 1078.2L663.2 1078.1L661.2 1078.0L659.2 1077.9L657.2 1077.9L655.1 1077.8L653.1 1077.7L651.1 1077.7L649.0 1077.6L647.0 1077.5L644.9 1077.4L642.9 1077.4L640.8 1077.3L638.8 1077.2L636.7 1077.1L634.7 1077.0L632.7 1077.0L630.7 1076.9L628.7 1076.8L626.7 1076.7L624.7 1076.6L622.8 1076.5L620.8 1076.4L618.9 1076.3L616.9 1076.2L615.0 1076.1L613.0 1076.0L611.1 1075.9L609.2 1075.8L607.2 1075.7L605.3 1075.6L603.4 1075.5L601.4 1075.4L599.5 1075.3L597.5 1075.2L595.6 1075.1L593.6 1075.0L591.6 1074.9L589.7 1074.8L587.7 1074.7L585.7 1074.6L583.6 1074.5L581.6 1074.4L579.6 1074.3L577.5 1074.2L575.4 1074.1L573.3 1074.0L571.5 1073.9L569.6 1073.8L567.8 1073.7L565.9 1073.7L564.0 1073.6L562.1 1073.5L560.2 1073.4L558.3 1073.3L556.4 1073.2L554.5 1073.2L552.5 1073.1L550.6 1073.0L548.6 1072.9L546.7 1072.8L544.7 1072.7L542.7 1072.7L540.7 1072.6L538.8 1072.5L536.8 1072.4L534.8 1072.3L532.8 1072.2L530.8 1072.2L528.8 1072.1L526.8 1072.0L524.8 1071.9L522.8 1071.8L520.8 1071.7L518.8 1071.7L516.8 1071.6L514.8 1071.5L512.8 1071.4L510.9 1071.3L508.9 1071.2L506.9 1071.2L505.0 1071.1L503.0 1071.0" stroke="#b0105a" stroke-width="2.1" fill="none"/>
<path d="M1009.5 1032.0L1009.9 1033.7L1010.3 1035.4L1010.7 1037.1L1011.2 1038.9L1011.6 1040.6L1011.8 1042.3L1012.0 1044.0L1011.9 1045.8L1011.7 1047.6L1011.3 1049.5L1010.9 1051.4L1010.4 1053.3L1009.7 1055.2L1008.9 1057.0L1007.9 1058.8L1006.8 1060.5L1005.6 1062.0L1004.5 1063.1L1003.2 1064.2L1001.8 1065.2L1000.4 1066.1L998.8 1066.9L997.2 1067.7L995.5 1068.5L993.7 1069.2L991.8 1070.0L989.9 1070.7L988.0 1071.4L986.0 1072.1L984.0 1072.8L982.5 1073.3L980.9 1073.9L979.2 1074.4L977.5 1074.9L975.8 1075.4L974.0 1075.9L972.2 1076.4L970.3 1076.8L968.4 1077.3L966.5 1077.7L964.6 1078.2L962.6 1078.6L960.6 1079.0L958.7 1079.5L956.7 1079.9L954.7 1080.3L952.7 1080.7L950.7 1081.1L948.7 1081.5L946.7 1082.0L944.8 1082.4L942.8 1082.8L940.9 1083.2L939.0 1083.6L937.1 1084.0L935.1 1084.5L933.2 1084.9L931.2 1085.3L929.3 1085.7L927.4 1086.1L925.5 1086.5L923.5 1087.0L921.6 1087.4L919.7 1087.8L917.8 1088.2L915.8 1088.5L913.9 1088.9L911.9 1089.3L910.0 1089.7L908.0 1090.1L906.1 1090.5L904.1 1090.8L902.1 1091.2L900.1 1091.6L898.1 1091.9L896.0 1092.3L894.0 1092.6L892.2 1092.9L890.3 1093.2L888.4 1093.5L886.5 1093.8L884.5 1094.1L882.6 1094.4L880.6 1094.7L878.6 1095.0L876.6 1095.3L874.7 1095.6L872.7 1095.8L870.7 1096.1L868.7 1096.4L866.7 1096.7L864.7 1096.9L862.7 1097.2L860.7 1097.4L858.7 1097.7L856.7 1097.9L854.8 1098.2L852.9 1098.4L851.0 1098.6L849.1 1098.8L847.2 1099.0L845.4 1099.2L843.5 1099.4L841.8 1099.6L840.0 1099.8L838.0 1100.0L836.0 1100.2L834.0 1100.4L832.1 1100.5L830.3 1100.7L828.5 1100.8L826.7 1100.9L824.9 1101.0L823.1 1101.1L821.3 1101.2L819.5 1101.3L817.7 1101.4L815.9 1101.5L814.0 1101.6L812.1 1101.7L810.2 1101.8L808.2 1102.0L806.1 1102.1L804.0 1102.2L802.3 1102.3L800.6 1102.4L798.8 1102.5L796.9 1102.6L795.0 1102.7L793.1 1102.8L791.2 1102.9L789.2 1103.1L787.2 1103.2L785.1 1103.3L783.1 1103.4L781.0 1103.5L778.9 1103.6L776.8 1103.8L774.7 1103.9L772.6 1104.0L770.5 1104.1L768.4 1104.2L766.3 1104.3L764.2 1104.4L762.1 1104.5L760.1 1104.6L758.1 1104.7L756.1 1104.8L754.1 1104.9L752.2 1105.0L750.3 1105.1L748.5 1105.2L746.7 1105.2L744.9 1105.3L743.2 1105.4L741.6 1105.4L740.0 1105.5L737.8 1105.6L735.7 1105.6L733.7 1105.7L731.7 1105.7L729.8 1105.8L728.0 1105.8L726.2 1105.8L724.4 1105.8L722.7 1105.9L720.9 1105.9L719.2 1105.9L717.4 1105.9L715.6 1105.9L713.8 1106.0L712.0 1106.0" stroke="#e8102e" stroke-width="2.1" fill="none"/>
<path d="M495.9 1070.0L508.0 1067.0M800.4 996.2L788.2 999.2M556.2 1080.0L568.4 1077.0M860.7 1006.2L848.5 1009.2M616.5 1090.0L628.7 1087.0M921.0 1016.2L908.9 1019.2M676.9 1100.0L689.1 1097.0M981.4 1026.2L969.2 1029.2M737.2 1110.0L749.4 1107.0M1041.8 1036.2L1029.6 1039.2M511.6 1041.5L524.3 1043.6M873.7 1101.5L861.1 1099.5M587.8 1023.1L600.4 1025.2M949.9 1083.1L937.2 1081.0M663.9 1004.6L676.5 1006.7M1026.0 1064.7L1013.3 1062.6" stroke="#000" stroke-width="3.8" fill="none"/>
<path d="M435.5 1060.0L797.6 1120.0L1102.1 1046.2L740.0 986.2Z" stroke="#000" stroke-width="3.7" fill="none" stroke-linejoin="miter"/>
<defs><linearGradient id="cg" x1="0" x2="1" y1="0" y2="0"><stop offset="0" stop-color="#d85a10"/><stop offset="0.45" stop-color="#e8680f"/><stop offset="1" stop-color="#5a2606"/></linearGradient><radialGradient id="cr" cx="0.5" cy="0.5" r="0.5"><stop offset="0" stop-color="#ff6a00"/><stop offset="0.6" stop-color="#e85a00"/><stop offset="1" stop-color="#6a2a08"/></radialGradient></defs>
<path d="M774.8 1024.0L807.8 1024.0L791.3 1057.3Z" fill="url(#cg)"/>
<ellipse cx="791.3" cy="1024.0" rx="16.5" ry="5.4" fill="#2a2220"/>
<ellipse cx="791.3" cy="1024.4" rx="12.0" ry="3.6" fill="url(#cr)"/>
<g fill="#fff" stroke-width="1.60" stroke-linejoin="round">
<path d="M722.1 930.3L735.7 925.8L747.1 934.0L733.5 938.4Z" stroke="#00f8ff"/>
<path d="M735.7 925.8L749.3 921.5L760.7 929.7L747.1 934.0Z" stroke="#00f0ff"/>
<path d="M710.7 922.6L724.3 918.1L735.7 925.8L722.1 930.3Z" stroke="#00ecff"/>
<path d="M749.3 921.5L762.9 917.4L774.3 925.6L760.7 929.7Z" stroke="#00e9ff"/>
<path d="M724.3 918.1L737.9 913.7L749.3 921.5L735.7 925.8Z" stroke="#00e4ff"/>
<path d="M699.3 915.4L712.9 910.8L724.3 918.1L710.7 922.6Z" stroke="#00e0ff"/>
<path d="M762.9 917.4L776.5 913.5L787.9 921.7L774.3 925.6Z" stroke="#00e2ff"/>
<path d="M737.9 913.7L751.5 909.6L762.9 917.4L749.3 921.5Z" stroke="#00ddff"/>
<path d="M720.0 728.0L733.6 729.0L747.1 722.5L733.5 721.5Z" stroke="#a4136a"/>
<path d="M712.9 910.8L726.5 906.4L737.9 913.7L724.3 918.1Z" stroke="#00d9ff"/>
<path d="M687.9 908.8L701.5 904.1L712.9 910.8L699.3 915.4Z" stroke="#00d5ff"/>
<path d="M776.5 913.5L790.1 909.8L801.5 918.0L787.9 921.7Z" stroke="#00dbff"/>
<path d="M751.5 909.6L765.1 905.7L776.5 913.5L762.9 917.4Z" stroke="#00d6ff"/>
<path d="M733.6 729.0L747.2 730.0L760.7 723.5L747.1 722.5Z" stroke="#a61268"/>
<path d="M726.5 906.4L740.1 902.3L751.5 909.6L737.9 913.7Z" stroke="#00d1ff"/>
<path d="M706.5 734.6L720.1 735.6L733.6 729.0L720.0 728.0Z" stroke="#9e1570"/>
<path d="M701.5 904.1L715.1 899.7L726.5 906.4L712.9 910.8Z" stroke="#00cdff"/>
<path d="M790.1 909.8L803.7 906.2L815.1 914.4L801.5 918.0Z" stroke="#00d4ff"/>
<path d="M676.5 902.7L690.1 898.0L701.5 904.1L687.9 908.8Z" stroke="#00cbff"/>
<path d="M765.1 905.7L778.7 901.9L790.1 909.8L776.5 913.5Z" stroke="#00cfff"/>
<path d="M747.2 730.0L760.8 731.0L774.3 724.4L760.7 723.5Z" stroke="#a81166"/>
<path d="M740.1 902.3L753.7 898.3L765.1 905.7L751.5 909.6Z" stroke="#00caff"/>
<path d="M720.1 735.6L733.7 736.6L747.2 730.0L733.6 729.0Z" stroke="#a0146e"/>
<path d="M715.1 899.7L728.7 895.4L740.1 902.3L726.5 906.4Z" stroke="#00c6ff"/>
<path d="M803.7 906.2L817.3 902.9L828.7 911.1L815.1 914.4Z" stroke="#00ceff"/>
<path d="M693.1 741.3L706.7 742.4L720.1 735.6L706.5 734.6Z" stroke="#981776"/>
<path d="M690.1 898.0L703.7 893.5L715.1 899.7L701.5 904.1Z" stroke="#00c3ff"/>
<path d="M778.7 901.9L792.3 898.4L803.7 906.2L790.1 909.8Z" stroke="#00c8ff"/>
<path d="M760.8 731.0L774.4 731.9L787.9 725.4L774.3 724.4Z" stroke="#aa1064"/>
<path d="M665.1 897.4L678.7 892.5L690.1 898.0L676.5 902.7Z" stroke="#00c1ff"/>
<path d="M753.7 898.3L767.3 894.6L778.7 901.9L765.1 905.7Z" stroke="#00c3ff"/>
<path d="M733.7 736.6L747.3 737.7L760.8 731.0L747.2 730.0Z" stroke="#a2136c"/>
<path d="M728.7 895.4L742.3 891.4L753.7 898.3L740.1 902.3Z" stroke="#00bfff"/>
<path d="M706.7 742.4L720.3 743.4L733.7 736.6L720.1 735.6Z" stroke="#9a1674"/>
<path d="M817.3 902.9L830.9 899.7L842.3 907.9L828.7 911.1Z" stroke="#00c8ff"/>
<path d="M703.7 893.5L717.3 889.2L728.7 895.4L715.1 899.7Z" stroke="#00bbff"/>
<path d="M774.4 731.9L788.0 732.9L801.5 726.4L787.9 725.4Z" stroke="#ac0f61"/>
<path d="M792.3 898.4L805.9 895.1L817.3 902.9L803.7 906.2Z" stroke="#00c2ff"/>
<path d="M679.6 748.0L693.2 749.2L706.7 742.4L693.1 741.3Z" stroke="#921a7c"/>
<path d="M678.7 892.5L692.3 887.9L703.7 893.5L690.1 898.0Z" stroke="#00b9ff"/>
<path d="M653.7 892.7L667.3 887.8L678.7 892.5L665.1 897.4Z" stroke="#00b8ff"/>
<path d="M747.3 737.7L760.9 738.7L774.4 731.9L760.8 731.0Z" stroke="#a4126a"/>
<path d="M767.3 894.6L780.9 891.0L792.3 898.4L778.7 901.9Z" stroke="#00bcff"/>
<path d="M742.3 891.4L755.9 887.7L767.3 894.6L753.7 898.3Z" stroke="#00b8ff"/>
<path d="M720.3 743.4L733.9 744.5L747.3 737.7L733.7 736.6Z" stroke="#9c1672"/>
<path d="M830.9 899.7L844.5 896.7L855.9 904.8L842.3 907.9Z" stroke="#00c2ff"/>
<path d="M717.3 889.2L730.9 885.1L742.3 891.4L728.7 895.4Z" stroke="#02b4ff"/>
<path d="M788.0 732.9L801.6 733.8L815.1 727.3L801.5 726.4Z" stroke="#af0f5f"/>
<path d="M693.2 749.2L706.8 750.4L720.3 743.4L706.7 742.4Z" stroke="#94197a"/>
<path d="M805.9 895.1L819.5 891.9L830.9 899.7L817.3 902.9Z" stroke="#00bbff"/>
<path d="M692.3 887.9L705.9 883.5L717.3 889.2L703.7 893.5Z" stroke="#02b2fe"/>
<path d="M760.9 738.7L774.5 739.7L788.0 732.9L774.4 731.9Z" stroke="#a71167"/>
<path d="M666.1 754.8L679.7 756.0L693.2 749.2L679.6 748.0Z" stroke="#8c1c83"/>
<path d="M667.3 887.8L680.9 883.1L692.3 887.9L678.7 892.5Z" stroke="#03b0fe"/>
<path d="M780.9 891.0L794.5 887.7L805.9 895.1L792.3 898.4Z" stroke="#01b6ff"/>
<path d="M642.3 889.0L655.9 883.9L667.3 887.8L653.7 892.7Z" stroke="#03b0fe"/>
<path d="M733.9 744.5L747.5 745.6L760.9 738.7L747.3 737.7Z" stroke="#9e1570"/>
<path d="M755.9 887.7L769.5 884.1L780.9 891.0L767.3 894.6Z" stroke="#03b1fe"/>
<path d="M844.5 896.7L858.1 893.9L869.5 902.0L855.9 904.8Z" stroke="#00bcff"/>
<path d="M801.6 733.8L815.2 734.8L828.7 728.2L815.1 727.3Z" stroke="#b10e5d"/>
<path d="M730.9 885.1L744.5 881.3L755.9 887.7L742.3 891.4Z" stroke="#04adfe"/>
<path d="M706.8 750.4L720.4 751.5L733.9 744.5L720.3 743.4Z" stroke="#961878"/>
<path d="M819.5 891.9L833.1 889.0L844.5 896.7L830.9 899.7Z" stroke="#01b5ff"/>
<path d="M705.9 883.5L719.5 879.4L730.9 885.1L717.3 889.2Z" stroke="#05aafe"/>
<path d="M774.5 739.7L788.1 740.6L801.6 733.8L788.0 732.9Z" stroke="#a91065"/>
<path d="M679.7 756.0L693.3 757.3L706.8 750.4L693.2 749.2Z" stroke="#8e1c81"/>
<path d="M794.5 887.7L808.1 884.6L819.5 891.9L805.9 895.1Z" stroke="#03b0fe"/>
<path d="M680.9 883.1L694.5 878.6L705.9 883.5L692.3 887.9Z" stroke="#05a9fe"/>
<path d="M747.5 745.6L761.0 746.6L774.5 739.7L760.9 738.7Z" stroke="#a1146e"/>
<path d="M652.6 761.4L666.2 762.8L679.7 756.0L666.1 754.8Z" stroke="#861f89"/>
<path d="M655.9 883.9L669.5 879.0L680.9 883.1L667.3 887.8Z" stroke="#06a8fe"/>
<path d="M769.5 884.1L783.1 880.7L794.5 887.7L780.9 891.0Z" stroke="#05abfe"/>
<path d="M858.1 893.9L871.7 891.3L883.1 899.3L869.5 902.0Z" stroke="#01b6ff"/>
<path d="M630.9 886.1L644.5 880.9L655.9 883.9L642.3 889.0Z" stroke="#05a9fe"/>
<path d="M815.2 734.8L828.8 735.6L842.3 729.0L828.7 728.2Z" stroke="#b30e5a"/>
<path d="M720.4 751.5L734.0 752.6L747.5 745.6L733.9 744.5Z" stroke="#981776"/>
<path d="M744.5 881.3L758.1 877.6L769.5 884.1L755.9 887.7Z" stroke="#06a7fd"/>
<path d="M833.1 889.0L846.7 886.2L858.1 893.9L844.5 896.7Z" stroke="#03b0fe"/>
<path d="M788.1 740.6L801.7 741.6L815.2 734.8L801.6 733.8Z" stroke="#ab1063"/>
<path d="M719.5 879.4L733.1 875.4L744.5 881.3L730.9 885.1Z" stroke="#07a3fd"/>
<path d="M693.3 757.3L706.9 758.6L720.4 751.5L706.8 750.4Z" stroke="#901b7f"/>
<path d="M808.1 884.6L821.7 881.6L833.1 889.0L819.5 891.9Z" stroke="#05aafe"/>
<path d="M694.5 878.6L708.1 874.3L719.5 879.4L705.9 883.5Z" stroke="#08a1fd"/>
<path d="M761.0 746.6L774.6 747.6L788.1 740.6L774.5 739.7Z" stroke="#a3136c"/>
<path d="M666.2 762.8L679.8 764.2L693.3 757.3L679.7 756.0Z" stroke="#881e87"/>
<path d="M669.5 879.0L683.1 874.4L694.5 878.6L680.9 883.1Z" stroke="#08a1fd"/>
<path d="M783.1 880.7L796.7 877.6L808.1 884.6L794.5 887.7Z" stroke="#07a5fd"/>
<path d="M828.8 735.6L842.4 736.4L855.9 729.9L842.3 729.0Z" stroke="#b60d57"/>
<path d="M871.7 891.3L885.2 888.8L896.7 896.7L883.1 899.3Z" stroke="#03b1fe"/>
<path d="M734.0 752.6L747.6 753.7L761.0 746.6L747.5 745.6Z" stroke="#9a1774"/>
<path d="M644.5 880.9L658.1 875.9L669.5 879.0L655.9 883.9Z" stroke="#08a1fd"/>
<path d="M639.2 767.8L652.8 769.3L666.2 762.8L652.6 761.4Z" stroke="#81218f"/>
<path d="M758.1 877.6L771.7 874.3L783.1 880.7L769.5 884.1Z" stroke="#08a0fd"/>
<path d="M619.5 884.3L633.1 879.0L644.5 880.9L630.9 886.1Z" stroke="#07a4fd"/>
<path d="M846.7 886.2L860.2 883.7L871.7 891.3L858.1 893.9Z" stroke="#05aafe"/>
<path d="M801.7 741.6L815.3 742.4L828.8 735.6L815.2 734.8Z" stroke="#ad0f60"/>
<path d="M706.9 758.6L720.5 759.8L734.0 752.6L720.4 751.5Z" stroke="#921a7d"/>
<path d="M733.1 875.4L746.7 871.8L758.1 877.6L744.5 881.3Z" stroke="#099dfd"/>
<path d="M821.7 881.6L835.2 878.9L846.7 886.2L833.1 889.0Z" stroke="#07a4fd"/>
<path d="M774.6 747.6L788.2 748.6L801.7 741.6L788.1 740.6Z" stroke="#a51269"/>
<path d="M708.1 874.3L721.7 870.3L733.1 875.4L719.5 879.4Z" stroke="#0a9afc"/>
<path d="M679.8 764.2L693.4 765.6L706.9 758.6L693.3 757.3Z" stroke="#8a1d86"/>
<path d="M796.7 877.6L810.2 874.7L821.7 881.6L808.1 884.6Z" stroke="#099ffd"/>
<path d="M683.1 874.4L696.7 870.0L708.1 874.3L694.5 878.6Z" stroke="#0b99fc"/>
<path d="M842.4 736.4L856.0 737.2L869.5 730.6L855.9 729.9Z" stroke="#b80d55"/>
<path d="M747.6 753.7L761.2 754.8L774.6 747.6L761.0 746.6Z" stroke="#9c1672"/>
<path d="M885.2 888.8L898.8 886.6L910.2 894.3L896.7 896.7Z" stroke="#05abfe"/>
<path d="M652.8 769.3L666.4 770.9L679.8 764.2L666.2 762.8Z" stroke="#82218d"/>
<path d="M658.1 875.9L671.7 871.1L683.1 874.4L669.5 879.0Z" stroke="#0b99fc"/>
<path d="M771.7 874.3L785.2 871.1L796.7 877.6L783.1 880.7Z" stroke="#0a9afc"/>
<path d="M815.3 742.4L828.9 743.3L842.4 736.4L828.8 735.6Z" stroke="#b00f5e"/>
<path d="M633.1 879.0L646.7 873.9L658.1 875.9L644.5 880.9Z" stroke="#0a9bfd"/>
<path d="M720.5 759.8L734.1 761.0L747.6 753.7L734.0 752.6Z" stroke="#94197b"/>
<path d="M860.2 883.7L873.8 881.3L885.2 888.8L871.7 891.3Z" stroke="#07a5fd"/>
<path d="M625.7 773.8L639.3 775.5L652.8 769.3L639.2 767.8Z" stroke="#7c2394"/>
<path d="M608.1 883.8L621.7 878.3L633.1 879.0L619.5 884.3Z" stroke="#099ffd"/>
<path d="M746.7 871.8L760.2 868.3L771.7 874.3L758.1 877.6Z" stroke="#0c96fc"/>
<path d="M788.2 748.6L801.8 749.5L815.3 742.4L801.7 741.6Z" stroke="#a71167"/>
<path d="M835.2 878.9L848.8 876.5L860.2 883.7L846.7 886.2Z" stroke="#099ffd"/>
<path d="M693.4 765.6L707.0 767.0L720.5 759.8L706.9 758.6Z" stroke="#8b1d84"/>
<path d="M721.7 870.3L735.2 866.5L746.7 871.8L733.1 875.4Z" stroke="#0d93fc"/>
<path d="M856.0 737.2L869.6 737.9L883.1 731.4L869.5 730.6Z" stroke="#bb0c52"/>
<path d="M810.2 874.7L823.8 872.0L835.2 878.9L821.7 881.6Z" stroke="#0b99fc"/>
<path d="M761.2 754.8L774.8 755.8L788.2 748.6L774.6 747.6Z" stroke="#9e1570"/>
<path d="M696.7 870.0L710.2 865.8L721.7 870.3L708.1 874.3Z" stroke="#0d92fc"/>
<path d="M666.4 770.9L679.9 772.4L693.4 765.6L679.8 764.2Z" stroke="#83208c"/>
<path d="M898.8 886.6L912.4 884.5L923.8 892.1L910.2 894.3Z" stroke="#06a6fd"/>
<path d="M671.7 871.1L685.2 866.6L696.7 870.0L683.1 874.4Z" stroke="#0d92fc"/>
<path d="M785.2 871.1L798.8 868.2L810.2 874.7L796.7 877.6Z" stroke="#0c94fc"/>
<path d="M828.9 743.3L842.5 744.0L856.0 737.2L842.4 736.4Z" stroke="#b20e5b"/>
<path d="M734.1 761.0L747.7 762.2L761.2 754.8L747.6 753.7Z" stroke="#951879"/>
<path d="M873.8 881.3L887.4 879.2L898.8 886.6L885.2 888.8Z" stroke="#08a0fd"/>
<path d="M639.3 775.5L652.9 777.2L666.4 770.9L652.8 769.3Z" stroke="#7d2393"/>
<path d="M646.7 873.9L660.2 868.9L671.7 871.1L658.1 875.9Z" stroke="#0d93fc"/>
<path d="M760.2 868.3L773.8 865.1L785.2 871.1L771.7 874.3Z" stroke="#0e90fc"/>
<path d="M621.7 878.3L635.2 873.0L646.7 873.9L633.1 879.0Z" stroke="#0b97fc"/>
<path d="M801.8 749.5L815.4 750.3L828.9 743.3L815.3 742.4Z" stroke="#aa1064"/>
<path d="M707.0 767.0L720.6 768.3L734.1 761.0L720.5 759.8Z" stroke="#8d1c82"/>
<path d="M596.7 884.5L610.2 878.9L621.7 878.3L608.1 883.8Z" stroke="#0a9cfd"/>
<path d="M848.8 876.5L862.4 874.2L873.8 881.3L860.2 883.7Z" stroke="#0a9afc"/>
<path d="M612.2 779.2L625.8 781.0L639.3 775.5L625.7 773.8Z" stroke="#772598"/>
<path d="M735.2 866.5L748.8 862.9L760.2 868.3L746.7 871.8Z" stroke="#0f8dfb"/>
<path d="M869.6 737.9L883.2 738.5L896.7 732.0L883.1 731.4Z" stroke="#bd0c4f"/>
<path d="M774.8 755.8L788.4 756.8L801.8 749.5L788.2 748.6Z" stroke="#a1146e"/>
<path d="M679.9 772.4L693.5 774.0L707.0 767.0L693.4 765.6Z" stroke="#851f8a"/>
<path d="M823.8 872.0L837.4 869.6L848.8 876.5L835.2 878.9Z" stroke="#0c94fc"/>
<path d="M710.2 865.8L723.8 861.9L735.2 866.5L721.7 870.3Z" stroke="#0f8bfb"/>
<path d="M912.4 884.5L926.0 882.5L937.4 890.0L923.8 892.1Z" stroke="#08a2fd"/>
<path d="M842.5 744.0L856.1 744.7L869.6 737.9L856.0 737.2Z" stroke="#b50e58"/>
<path d="M685.2 866.6L698.8 862.2L710.2 865.8L696.7 870.0Z" stroke="#108afb"/>
<path d="M747.7 762.2L761.3 763.3L774.8 755.8L761.2 754.8Z" stroke="#971877"/>
<path d="M798.8 868.2L812.4 865.6L823.8 872.0L810.2 874.7Z" stroke="#0e8ffb"/>
<path d="M652.9 777.2L666.5 778.9L679.9 772.4L666.4 770.9Z" stroke="#7e2292"/>
<path d="M887.4 879.2L901.0 877.2L912.4 884.5L898.8 886.6Z" stroke="#0a9bfc"/>
<path d="M660.2 868.9L673.8 864.2L685.2 866.6L671.7 871.1Z" stroke="#0f8cfb"/>
<path d="M773.8 865.1L787.4 862.2L798.8 868.2L785.2 871.1Z" stroke="#108afb"/>
<path d="M815.4 750.3L829.0 751.1L842.5 744.0L828.9 743.3Z" stroke="#ac1062"/>
<path d="M720.6 768.3L734.2 769.6L747.7 762.2L734.1 761.0Z" stroke="#8f1b80"/>
<path d="M635.2 873.0L648.8 868.0L660.2 868.9L646.7 873.9Z" stroke="#0e8ffb"/>
<path d="M625.8 781.0L639.4 782.9L652.9 777.2L639.3 775.5Z" stroke="#782598"/>
<path d="M862.4 874.2L876.0 872.1L887.4 879.2L873.8 881.3Z" stroke="#0c95fc"/>
<path d="M610.2 878.9L623.8 873.6L635.2 873.0L621.7 878.3Z" stroke="#0c94fc"/>
<path d="M748.8 862.9L762.4 859.6L773.8 865.1L760.2 868.3Z" stroke="#1187fb"/>
<path d="M585.2 886.5L598.8 881.0L610.2 878.9L596.7 884.5Z" stroke="#0a9bfc"/>
<path d="M883.2 738.5L896.8 739.1L910.2 732.6L896.7 732.0Z" stroke="#c00b4c"/>
<path d="M788.4 756.8L802.0 757.7L815.4 750.3L801.8 749.5Z" stroke="#a3136b"/>
<path d="M693.5 774.0L707.1 775.5L720.6 768.3L707.0 767.0Z" stroke="#861f89"/>
<path d="M837.4 869.6L851.0 867.4L862.4 874.2L848.8 876.5Z" stroke="#0e8ffb"/>
<path d="M598.7 783.9L612.3 785.8L625.8 781.0L612.2 779.2Z" stroke="#74269c"/>
<path d="M723.8 861.9L737.4 858.2L748.8 862.9L735.2 866.5Z" stroke="#1284fb"/>
<path d="M926.0 882.5L939.6 880.7L951.0 888.1L937.4 890.0Z" stroke="#099dfd"/>
<path d="M856.1 744.7L869.7 745.3L883.2 738.5L869.6 737.9Z" stroke="#b70d55"/>
<path d="M761.3 763.3L774.9 764.3L788.4 756.8L774.8 755.8Z" stroke="#9a1775"/>
<path d="M666.5 778.9L680.1 780.7L693.5 774.0L679.9 772.4Z" stroke="#7f2291"/>
<path d="M812.4 865.6L826.0 863.1L837.4 869.6L823.8 872.0Z" stroke="#1089fb"/>
<path d="M698.8 862.2L712.4 858.1L723.8 861.9L710.2 865.8Z" stroke="#1283fb"/>
<path d="M901.0 877.2L914.6 875.4L926.0 882.5L912.4 884.5Z" stroke="#0c96fc"/>
<path d="M673.8 864.2L687.4 859.6L698.8 862.2L685.2 866.6Z" stroke="#1284fb"/>
<path d="M829.0 751.1L842.6 751.8L856.1 744.7L842.5 744.0Z" stroke="#af0f5f"/>
<path d="M734.2 769.6L747.8 770.9L761.3 763.3L747.7 762.2Z" stroke="#901b7f"/>
<path d="M787.4 862.2L801.0 859.5L812.4 865.6L798.8 868.2Z" stroke="#1185fb"/>
<path d="M639.4 782.9L653.0 784.8L666.5 778.9L652.9 777.2Z" stroke="#792497"/>
<path d="M648.8 868.0L662.4 863.1L673.8 864.2L660.2 868.9Z" stroke="#1187fb"/>
<path d="M876.0 872.1L889.6 870.2L901.0 877.2L887.4 879.2Z" stroke="#0e90fc"/>
<path d="M623.8 873.6L637.4 868.4L648.8 868.0L635.2 873.0Z" stroke="#0f8bfb"/>
<path d="M896.8 739.1L910.4 739.6L923.8 733.1L910.2 732.6Z" stroke="#c30a49"/>
<path d="M802.0 757.7L815.6 758.5L829.0 751.1L815.4 750.3Z" stroke="#a51269"/>
<path d="M762.4 859.6L776.0 856.6L787.4 862.2L773.8 865.1Z" stroke="#1381fa"/>
<path d="M707.1 775.5L720.7 777.0L734.2 769.6L720.6 768.3Z" stroke="#881e88"/>
<path d="M598.8 881.0L612.4 875.6L623.8 873.6L610.2 878.9Z" stroke="#0d92fc"/>
<path d="M573.8 890.0L587.4 884.5L598.8 881.0L585.2 886.5Z" stroke="#0a9bfc"/>
<path d="M851.0 867.4L864.6 865.4L876.0 872.1L862.4 874.2Z" stroke="#108afb"/>
<path d="M612.3 785.8L625.9 787.8L639.4 782.9L625.8 781.0Z" stroke="#75269b"/>
<path d="M939.6 880.7L953.2 879.1L964.6 886.3L951.0 888.1Z" stroke="#0b98fc"/>
<path d="M737.4 858.2L751.0 854.8L762.4 859.6L748.8 862.9Z" stroke="#147efa"/>
<path d="M869.7 745.3L883.3 745.9L896.8 739.1L883.2 738.5Z" stroke="#ba0c52"/>
<path d="M774.9 764.3L788.5 765.3L802.0 757.7L788.4 756.8Z" stroke="#9c1673"/>
<path d="M680.1 780.7L693.7 782.4L707.1 775.5L693.5 774.0Z" stroke="#802190"/>
<path d="M826.0 863.1L839.6 861.0L851.0 867.4L837.4 869.6Z" stroke="#1284fb"/>
<path d="M712.4 858.1L726.0 854.2L737.4 858.2L723.8 861.9Z" stroke="#147dfa"/>
<path d="M914.6 875.4L928.2 873.7L939.6 880.7L926.0 882.5Z" stroke="#0d92fc"/>
<path d="M585.2 787.6L598.8 789.6L612.3 785.8L598.7 783.9Z" stroke="#73279d"/>
<path d="M842.6 751.8L856.2 752.4L869.7 745.3L856.1 744.7Z" stroke="#b10e5c"/>
<path d="M747.8 770.9L761.4 772.0L774.9 764.3L761.3 763.3Z" stroke="#921a7d"/>
<path d="M687.4 859.6L701.0 855.3L712.4 858.1L698.8 862.2Z" stroke="#147dfa"/>
<path d="M653.0 784.8L666.6 786.8L680.1 780.7L666.5 778.9Z" stroke="#7a2496"/>
<path d="M801.0 859.5L814.6 857.1L826.0 863.1L812.4 865.6Z" stroke="#137ffa"/>
<path d="M889.6 870.2L903.2 868.6L914.6 875.4L901.0 877.2Z" stroke="#0f8bfb"/>
<path d="M662.4 863.1L676.0 858.3L687.4 859.6L673.8 864.2Z" stroke="#137ffa"/>
<path d="M910.4 739.6L924.0 740.0L937.4 733.5L923.8 733.1Z" stroke="#c60a46"/>
<path d="M815.6 758.5L829.1 759.2L842.6 751.8L829.0 751.1Z" stroke="#a81166"/>
<path d="M720.7 777.0L734.3 778.4L747.8 770.9L734.2 769.6Z" stroke="#891e86"/>
<path d="M637.4 868.4L651.0 863.4L662.4 863.1L648.8 868.0Z" stroke="#1283fb"/>
<path d="M776.0 856.6L789.6 853.9L801.0 859.5L787.4 862.2Z" stroke="#157cf9"/>
<path d="M625.9 787.8L639.5 789.8L653.0 784.8L639.4 782.9Z" stroke="#75269a"/>
<path d="M612.4 875.6L626.0 870.4L637.4 868.4L623.8 873.6Z" stroke="#108afb"/>
<path d="M864.6 865.4L878.2 863.6L889.6 870.2L876.0 872.1Z" stroke="#1185fb"/>
<path d="M587.4 884.5L601.0 879.1L612.4 875.6L598.8 881.0Z" stroke="#0d92fc"/>
<path d="M953.2 879.1L966.8 877.6L978.2 884.6L964.6 886.3Z" stroke="#0c94fc"/>
<path d="M562.4 894.8L576.0 889.4L587.4 884.5L573.8 890.0Z" stroke="#0a9cfd"/>
<path d="M883.3 745.9L896.9 746.3L910.4 739.6L896.8 739.1Z" stroke="#bd0c4f"/>
<path d="M788.5 765.3L802.1 766.1L815.6 758.5L802.0 757.7Z" stroke="#9e1570"/>
<path d="M751.0 854.8L764.6 851.7L776.0 856.6L762.4 859.6Z" stroke="#1879f8"/>
<path d="M693.7 782.4L707.3 784.2L720.7 777.0L707.1 775.5Z" stroke="#81218e"/>
<path d="M839.6 861.0L853.2 859.1L864.6 865.4L851.0 867.4Z" stroke="#137ffa"/>
<path d="M598.8 789.6L612.4 791.6L625.9 787.8L612.3 785.8Z" stroke="#73279d"/>
<path d="M726.0 854.2L739.6 850.6L751.0 854.8L737.4 858.2Z" stroke="#1978f7"/>
<path d="M928.2 873.7L941.8 872.3L953.2 879.1L939.6 880.7Z" stroke="#0f8dfb"/>
<path d="M856.2 752.4L869.8 752.9L883.3 745.9L869.7 745.3Z" stroke="#b40e59"/>
<path d="M761.4 772.0L775.0 773.1L788.5 765.3L774.9 764.3Z" stroke="#94197b"/>
<path d="M666.6 786.8L680.2 788.7L693.7 782.4L680.1 780.7Z" stroke="#7a2495"/>
<path d="M701.0 855.3L714.6 851.2L726.0 854.2L712.4 858.1Z" stroke="#1978f7"/>
<path d="M814.6 857.1L828.2 855.0L839.6 861.0L826.0 863.1Z" stroke="#167bf9"/>
<path d="M903.2 868.6L916.8 867.1L928.2 873.7L914.6 875.4Z" stroke="#1187fb"/>
<path d="M924.0 740.0L937.6 740.3L951.0 733.9L937.4 733.5Z" stroke="#c90942"/>
<path d="M571.8 790.4L585.4 792.3L598.8 789.6L585.2 787.6Z" stroke="#73279d"/>
<path d="M829.1 759.2L842.7 759.8L856.2 752.4L842.6 751.8Z" stroke="#ab1063"/>
<path d="M734.3 778.4L747.9 779.8L761.4 772.0L747.8 770.9Z" stroke="#8b1d84"/>
<path d="M676.0 858.3L689.6 853.8L701.0 855.3L687.4 859.6Z" stroke="#1879f8"/>
<path d="M639.5 789.8L653.1 791.9L666.6 786.8L653.0 784.8Z" stroke="#76269a"/>
<path d="M789.6 853.9L803.2 851.5L814.6 857.1L801.0 859.5Z" stroke="#1978f7"/>
<path d="M651.0 863.4L664.6 858.5L676.0 858.3L662.4 863.1Z" stroke="#157cf9"/>
<path d="M878.2 863.6L891.8 862.1L903.2 868.6L889.6 870.2Z" stroke="#1381fa"/>
<path d="M626.0 870.4L639.6 865.3L651.0 863.4L637.4 868.4Z" stroke="#1381fa"/>
<path d="M966.8 877.6L980.4 876.3L991.8 883.0L978.2 884.6Z" stroke="#0e90fc"/>
<path d="M896.9 746.3L910.5 746.6L924.0 740.0L910.4 739.6Z" stroke="#c00b4c"/>
<path d="M802.1 766.1L815.7 766.9L829.1 759.2L815.6 758.5Z" stroke="#a1146e"/>
<path d="M707.3 784.2L720.9 785.8L734.3 778.4L720.7 777.0Z" stroke="#82218d"/>
<path d="M601.0 879.1L614.6 873.9L626.0 870.4L612.4 875.6Z" stroke="#108afb"/>
<path d="M764.6 851.7L778.2 848.8L789.6 853.9L776.0 856.6Z" stroke="#1c75f5"/>
<path d="M576.0 889.4L589.6 884.1L601.0 879.1L587.4 884.5Z" stroke="#0c94fc"/>
<path d="M551.0 900.9L564.6 895.6L576.0 889.4L562.4 894.8Z" stroke="#099ffd"/>
<path d="M612.4 791.6L626.0 793.7L639.5 789.8L625.9 787.8Z" stroke="#73279c"/>
<path d="M853.2 859.1L866.8 857.4L878.2 863.6L864.6 865.4Z" stroke="#167bf9"/>
<path d="M941.8 872.3L955.4 871.0L966.8 877.6L953.2 879.1Z" stroke="#1089fb"/>
<path d="M775.0 773.1L788.6 774.0L802.1 766.1L788.5 765.3Z" stroke="#961878"/>
<path d="M739.6 850.6L753.2 847.3L764.6 851.7L751.0 854.8Z" stroke="#1d74f4"/>
<path d="M869.8 752.9L883.4 753.3L896.9 746.3L883.3 745.9Z" stroke="#b70d56"/>
<path d="M680.2 788.7L693.8 790.7L707.3 784.2L693.7 782.4Z" stroke="#7b2395"/>
<path d="M828.2 855.0L841.8 853.1L853.2 859.1L839.6 861.0Z" stroke="#1978f7"/>
<path d="M714.6 851.2L728.2 847.4L739.6 850.6L726.0 854.2Z" stroke="#1e73f4"/>
<path d="M585.4 792.3L599.0 794.3L612.4 791.6L598.8 789.6Z" stroke="#73279d"/>
<path d="M916.8 867.1L930.4 865.8L941.8 872.3L928.2 873.7Z" stroke="#1283fa"/>
<path d="M747.9 779.8L761.5 781.0L775.0 773.1L761.4 772.0Z" stroke="#8d1c83"/>
<path d="M937.6 740.3L951.2 740.4L964.6 734.1L951.0 733.9Z" stroke="#cc083f"/>
<path d="M842.7 759.8L856.3 760.2L869.8 752.9L856.2 752.4Z" stroke="#ad0f60"/>
<path d="M653.1 791.9L666.7 794.1L680.2 788.7L666.6 786.8Z" stroke="#76259a"/>
<path d="M689.6 853.8L703.2 849.5L714.6 851.2L701.0 855.3Z" stroke="#1d74f5"/>
<path d="M803.2 851.5L816.8 849.4L828.2 855.0L814.6 857.1Z" stroke="#1d74f5"/>
<path d="M664.6 858.5L678.2 853.8L689.6 853.8L676.0 858.3Z" stroke="#1b76f6"/>
<path d="M891.8 862.1L905.4 860.8L916.8 867.1L903.2 868.6Z" stroke="#147dfa"/>
<path d="M815.7 766.9L829.3 767.5L842.7 759.8L829.1 759.2Z" stroke="#a3136b"/>
<path d="M720.9 785.8L734.5 787.4L747.9 779.8L734.3 778.4Z" stroke="#83208c"/>
<path d="M910.5 746.6L924.1 746.8L937.6 740.3L924.0 740.0Z" stroke="#c40a48"/>
<path d="M980.4 876.3L994.0 875.1L1005.4 881.6L991.8 883.0Z" stroke="#0f8cfb"/>
<path d="M639.6 865.3L653.2 860.4L664.6 858.5L651.0 863.4Z" stroke="#177af8"/>
<path d="M558.3 792.3L571.9 794.1L585.4 792.3L571.8 790.4Z" stroke="#74269c"/>
<path d="M778.2 848.8L791.8 846.3L803.2 851.5L789.6 853.9Z" stroke="#2071f3"/>
<path d="M614.6 873.9L628.2 868.9L639.6 865.3L626.0 870.4Z" stroke="#1381fa"/>
<path d="M626.0 793.7L639.6 795.8L653.1 791.9L639.5 789.8Z" stroke="#74269c"/>
<path d="M589.6 884.1L603.2 879.0L614.6 873.9L601.0 879.1Z" stroke="#0f8bfb"/>
<path d="M564.6 895.6L578.2 890.5L589.6 884.1L576.0 889.4Z" stroke="#0b97fc"/>
<path d="M539.6 908.2L553.2 903.0L564.6 895.6L551.0 900.9Z" stroke="#07a4fd"/>
<path d="M866.8 857.4L880.4 856.0L891.8 862.1L878.2 863.6Z" stroke="#1978f7"/>
<path d="M788.6 774.0L802.2 774.8L815.7 766.9L802.1 766.1Z" stroke="#991776"/>
<path d="M883.4 753.3L897.0 753.5L910.5 746.6L896.9 746.3Z" stroke="#ba0c52"/>
<path d="M955.4 871.0L969.0 869.8L980.4 876.3L966.8 877.6Z" stroke="#1185fb"/>
<path d="M693.8 790.7L707.4 792.7L720.9 785.8L707.3 784.2Z" stroke="#7c2394"/>
<path d="M753.2 847.3L766.8 844.4L778.2 848.8L764.6 851.7Z" stroke="#226ff2"/>
<path d="M841.8 853.1L855.4 851.6L866.8 857.4L853.2 859.1Z" stroke="#1c75f5"/>
<path d="M599.0 794.3L612.6 796.3L626.0 793.7L612.4 791.6Z" stroke="#73279c"/>
<path d="M728.2 847.4L741.8 843.8L753.2 847.3L739.6 850.6Z" stroke="#236ef1"/>
<path d="M761.5 781.0L775.1 782.1L788.6 774.0L775.0 773.1Z" stroke="#8e1b80"/>
<path d="M951.2 740.4L964.8 740.5L978.2 734.3L964.6 734.1Z" stroke="#d0073b"/>
<path d="M856.3 760.2L869.9 760.6L883.4 753.3L869.8 752.9Z" stroke="#b10e5d"/>
<path d="M930.4 865.8L944.0 864.7L955.4 871.0L941.8 872.3Z" stroke="#137ffa"/>
<path d="M666.7 794.1L680.3 796.3L693.8 790.7L680.2 788.7Z" stroke="#762599"/>
<path d="M703.2 849.5L716.8 845.4L728.2 847.4L714.6 851.2Z" stroke="#226ff2"/>
<path d="M816.8 849.4L830.4 847.6L841.8 853.1L828.2 855.0Z" stroke="#2071f3"/>
<path d="M734.5 787.4L748.0 789.0L761.5 781.0L747.9 779.8Z" stroke="#851f8b"/>
<path d="M905.4 860.8L919.0 859.7L930.4 865.8L916.8 867.1Z" stroke="#177af8"/>
<path d="M829.3 767.5L842.9 767.9L856.3 760.2L842.7 759.8Z" stroke="#a61268"/>
<path d="M924.1 746.8L937.7 746.9L951.2 740.4L937.6 740.3Z" stroke="#c70944"/>
<path d="M678.2 853.8L691.8 849.3L703.2 849.5L689.6 853.8Z" stroke="#2071f3"/>
<path d="M571.9 794.1L585.5 796.0L599.0 794.3L585.4 792.3Z" stroke="#75269b"/>
<path d="M994.0 875.1L1007.6 874.0L1019.0 880.3L1005.4 881.6Z" stroke="#1088fb"/>
<path d="M639.6 795.8L653.2 798.1L666.7 794.1L653.1 791.9Z" stroke="#74269c"/>
<path d="M653.2 860.4L666.8 855.7L678.2 853.8L664.6 858.5Z" stroke="#1c75f5"/>
<path d="M791.8 846.3L805.4 844.2L816.8 849.4L803.2 851.5Z" stroke="#236ef1"/>
<path d="M628.2 868.9L641.8 864.1L653.2 860.4L639.6 865.3Z" stroke="#177af8"/>
<path d="M603.2 879.0L616.8 874.1L628.2 868.9L614.6 873.9Z" stroke="#1283fb"/>
<path d="M880.4 856.0L894.0 854.9L905.4 860.8L891.8 862.1Z" stroke="#1b76f6"/>
<path d="M802.2 774.8L815.8 775.5L829.3 767.5L815.7 766.9Z" stroke="#9c1673"/>
<path d="M707.4 792.7L721.0 794.6L734.5 787.4L720.9 785.8Z" stroke="#7c2393"/>
<path d="M578.2 890.5L591.8 885.5L603.2 879.0L589.6 884.1Z" stroke="#0e8ffb"/>
<path d="M528.2 916.6L541.8 911.5L553.2 903.0L539.6 908.2Z" stroke="#05a9fe"/>
<path d="M897.0 753.5L910.6 753.7L924.1 746.8L910.5 746.6Z" stroke="#be0b4f"/>
<path d="M553.2 903.0L566.8 898.0L578.2 890.5L564.6 895.6Z" stroke="#0a9bfd"/>
<path d="M969.0 869.8L982.6 868.9L994.0 875.1L980.4 876.3Z" stroke="#1381fa"/>
<path d="M766.8 844.4L780.4 841.7L791.8 846.3L778.2 848.8Z" stroke="#256cf0"/>
<path d="M544.8 793.4L558.4 795.1L571.9 794.1L558.3 792.3Z" stroke="#772598"/>
<path d="M612.6 796.3L626.2 798.5L639.6 795.8L626.0 793.7Z" stroke="#74269c"/>
<path d="M855.4 851.6L869.0 850.3L880.4 856.0L866.8 857.4Z" stroke="#1f72f3"/>
<path d="M775.1 782.1L788.7 783.1L802.2 774.8L788.6 774.0Z" stroke="#911a7e"/>
<path d="M869.9 760.6L883.5 760.8L897.0 753.5L883.4 753.3Z" stroke="#b40e59"/>
<path d="M964.8 740.5L978.3 740.4L991.8 734.3L978.2 734.3Z" stroke="#d40637"/>
<path d="M944.0 864.7L957.6 863.8L969.0 869.8L955.4 871.0Z" stroke="#157cf9"/>
<path d="M741.8 843.8L755.4 840.6L766.8 844.4L753.2 847.3Z" stroke="#276aef"/>
<path d="M680.3 796.3L693.9 798.5L707.4 792.7L693.8 790.7Z" stroke="#772599"/>
<path d="M716.8 845.4L730.4 841.5L741.8 843.8L728.2 847.4Z" stroke="#276aef"/>
<path d="M830.4 847.6L844.0 846.1L855.4 851.6L841.8 853.1Z" stroke="#236ef1"/>
<path d="M748.0 789.0L761.6 790.3L775.1 782.1L761.5 781.0Z" stroke="#861f89"/>
<path d="M842.9 767.9L856.5 768.2L869.9 760.6L856.3 760.2Z" stroke="#a91065"/>
<path d="M937.7 746.9L951.3 746.9L964.8 740.5L951.2 740.4Z" stroke="#cb0940"/>
<path d="M919.0 859.7L932.6 858.8L944.0 864.7L930.4 865.8Z" stroke="#1a77f7"/>
<path d="M585.5 796.0L599.1 797.9L612.6 796.3L599.0 794.3Z" stroke="#75269a"/>
<path d="M1007.6 874.0L1021.2 873.0L1032.6 879.0L1019.0 880.3Z" stroke="#1284fb"/>
<path d="M691.8 849.3L705.4 844.9L716.8 845.4L703.2 849.5Z" stroke="#256cf0"/>
<path d="M653.2 798.1L666.8 800.4L680.3 796.3L666.7 794.1Z" stroke="#74269c"/>
<path d="M805.4 844.2L819.0 842.4L830.4 847.6L816.8 849.4Z" stroke="#266bef"/>
<path d="M666.8 855.7L680.4 851.0L691.8 849.3L678.2 853.8Z" stroke="#2170f2"/>
<path d="M721.0 794.6L734.6 796.5L748.0 789.0L734.5 787.4Z" stroke="#7d2292"/>
<path d="M815.8 775.5L829.4 775.9L842.9 767.9L829.3 767.5Z" stroke="#9e1570"/>
<path d="M641.8 864.1L655.4 859.4L666.8 855.7L653.2 860.4Z" stroke="#1c75f5"/>
<path d="M894.0 854.9L907.6 854.0L919.0 859.7L905.4 860.8Z" stroke="#1e73f4"/>
<path d="M910.6 753.7L924.2 753.7L937.7 746.9L924.1 746.8Z" stroke="#c10b4b"/>
<path d="M616.8 874.1L630.4 869.4L641.8 864.1L628.2 868.9Z" stroke="#157cf9"/>
<path d="M982.6 868.9L996.2 868.0L1007.6 874.0L994.0 875.1Z" stroke="#147efa"/>
<path d="M516.8 925.9L530.4 921.0L541.8 911.5L528.2 916.6Z" stroke="#03b0fe"/>
<path d="M591.8 885.5L605.4 880.8L616.8 874.1L603.2 879.0Z" stroke="#1187fb"/>
<path d="M541.8 911.5L555.4 906.7L566.8 898.0L553.2 903.0Z" stroke="#08a1fd"/>
<path d="M566.8 898.0L580.4 893.2L591.8 885.5L578.2 890.5Z" stroke="#0d93fc"/>
<path d="M558.4 795.1L572.0 796.8L585.5 796.0L571.9 794.1Z" stroke="#782598"/>
<path d="M780.4 841.7L794.0 839.5L805.4 844.2L791.8 846.3Z" stroke="#2968ed"/>
<path d="M626.2 798.5L639.8 800.6L653.2 798.1L639.6 795.8Z" stroke="#74269c"/>
<path d="M788.7 783.1L802.3 783.8L815.8 775.5L802.2 774.8Z" stroke="#93197c"/>
<path d="M869.0 850.3L882.6 849.4L894.0 854.9L880.4 856.0Z" stroke="#226ff2"/>
<path d="M693.9 798.5L707.5 800.8L721.0 794.6L707.4 792.7Z" stroke="#772599"/>
<path d="M883.5 760.8L897.1 760.8L910.6 753.7L897.0 753.5Z" stroke="#b70d55"/>
<path d="M978.3 740.4L991.9 740.3L1005.4 734.2L991.8 734.3Z" stroke="#d80632"/>
<path d="M957.6 863.8L971.2 863.1L982.6 868.9L969.0 869.8Z" stroke="#1879f8"/>
<path d="M755.4 840.6L769.0 837.7L780.4 841.7L766.8 844.4Z" stroke="#2b66ec"/>
<path d="M761.6 790.3L775.2 791.5L788.7 783.1L775.1 782.1Z" stroke="#881e87"/>
<path d="M844.0 846.1L857.6 845.0L869.0 850.3L855.4 851.6Z" stroke="#266bef"/>
<path d="M531.3 794.0L544.9 795.5L558.4 795.1L544.8 793.4Z" stroke="#7c2394"/>
<path d="M730.4 841.5L744.0 837.9L755.4 840.6L741.8 843.8Z" stroke="#2b66ec"/>
<path d="M599.1 797.9L612.7 799.8L626.2 798.5L612.6 796.3Z" stroke="#76269a"/>
<path d="M856.5 768.2L870.1 768.3L883.5 760.8L869.9 760.6Z" stroke="#ad0f61"/>
<path d="M951.3 746.9L964.9 746.8L978.3 740.4L964.8 740.5Z" stroke="#cf083c"/>
<path d="M932.6 858.8L946.2 858.1L957.6 863.8L944.0 864.7Z" stroke="#1c75f5"/>
<path d="M666.8 800.4L680.4 802.7L693.9 798.5L680.3 796.3Z" stroke="#74269c"/>
<path d="M1021.2 873.0L1034.8 872.1L1046.2 877.9L1032.6 879.0Z" stroke="#1380fa"/>
<path d="M705.4 844.9L719.0 840.7L730.4 841.5L716.8 845.4Z" stroke="#2a67ed"/>
<path d="M819.0 842.4L832.6 841.0L844.0 846.1L830.4 847.6Z" stroke="#2968ed"/>
<path d="M734.6 796.5L748.2 798.3L761.6 790.3L748.0 789.0Z" stroke="#7e2291"/>
<path d="M829.4 775.9L843.0 776.1L856.5 768.2L842.9 767.9Z" stroke="#a2136d"/>
<path d="M680.4 851.0L694.0 846.6L705.4 844.9L691.8 849.3Z" stroke="#276aef"/>
<path d="M924.2 753.7L937.8 753.5L951.3 746.9L937.7 746.9Z" stroke="#c50a46"/>
<path d="M907.6 854.0L921.2 853.3L932.6 858.8L919.0 859.7Z" stroke="#2071f3"/>
<path d="M655.4 859.4L669.0 854.8L680.4 851.0L666.8 855.7Z" stroke="#2170f2"/>
<path d="M996.2 868.0L1009.8 867.3L1021.2 873.0L1007.6 874.0Z" stroke="#167bf9"/>
<path d="M572.0 796.8L585.6 798.5L599.1 797.9L585.5 796.0Z" stroke="#792497"/>
<path d="M505.4 936.1L519.0 931.2L530.4 921.0L516.8 925.9Z" stroke="#00b8ff"/>
<path d="M630.4 869.4L644.0 864.9L655.4 859.4L641.8 864.1Z" stroke="#1b76f6"/>
<path d="M639.8 800.6L653.3 802.8L666.8 800.4L653.2 798.1Z" stroke="#74269c"/>
<path d="M530.4 921.0L544.0 916.3L555.4 906.7L541.8 911.5Z" stroke="#06a8fe"/>
<path d="M605.4 880.8L619.0 876.2L630.4 869.4L616.8 874.1Z" stroke="#137ffa"/>
<path d="M555.4 906.7L569.0 902.0L580.4 893.2L566.8 898.0Z" stroke="#0b99fc"/>
<path d="M580.4 893.2L594.0 888.7L605.4 880.8L591.8 885.5Z" stroke="#0f8cfb"/>
<path d="M794.0 839.5L807.6 837.7L819.0 842.4L805.4 844.2Z" stroke="#2c65eb"/>
<path d="M802.3 783.8L815.9 784.3L829.4 775.9L815.8 775.5Z" stroke="#961879"/>
<path d="M707.5 800.8L721.1 803.0L734.6 796.5L721.0 794.6Z" stroke="#772598"/>
<path d="M882.6 849.4L896.2 848.7L907.6 854.0L894.0 854.9Z" stroke="#256cf0"/>
<path d="M897.1 760.8L910.7 760.7L924.2 753.7L910.6 753.7Z" stroke="#bb0c51"/>
<path d="M991.9 740.3L1005.5 740.0L1019.0 734.0L1005.4 734.2Z" stroke="#dc052e"/>
<path d="M971.2 863.1L984.8 862.5L996.2 868.0L982.6 868.9Z" stroke="#1a77f6"/>
<path d="M769.0 837.7L782.6 835.3L794.0 839.5L780.4 841.7Z" stroke="#2f62ea"/>
<path d="M544.9 795.5L558.5 797.0L572.0 796.8L558.4 795.1Z" stroke="#7d2393"/>
<path d="M775.2 791.5L788.8 792.4L802.3 783.8L788.7 783.1Z" stroke="#8b1d85"/>
<path d="M612.7 799.8L626.3 801.8L639.8 800.6L626.2 798.5Z" stroke="#76259a"/>
<path d="M857.6 845.0L871.2 844.2L882.6 849.4L869.0 850.3Z" stroke="#2869ee"/>
<path d="M870.1 768.3L883.7 768.2L897.1 760.8L883.5 760.8Z" stroke="#b10e5d"/>
<path d="M964.9 746.8L978.5 746.5L991.9 740.3L978.3 740.4Z" stroke="#d30738"/>
<path d="M680.4 802.7L694.0 805.1L707.5 800.8L693.9 798.5Z" stroke="#74269c"/>
<path d="M744.0 837.9L757.6 834.6L769.0 837.7L755.4 840.6Z" stroke="#3061e9"/>
<path d="M946.2 858.1L959.8 857.6L971.2 863.1L957.6 863.8Z" stroke="#1f72f4"/>
<path d="M1034.8 872.1L1048.4 871.3L1059.8 876.8L1046.2 877.9Z" stroke="#147dfa"/>
<path d="M719.0 840.7L732.6 836.7L744.0 837.9L730.4 841.5Z" stroke="#2f62ea"/>
<path d="M748.2 798.3L761.8 799.8L775.2 791.5L761.6 790.3Z" stroke="#802190"/>
<path d="M832.6 841.0L846.2 840.1L857.6 845.0L844.0 846.1Z" stroke="#2c65ec"/>
<path d="M843.0 776.1L856.6 776.2L870.1 768.3L856.5 768.2Z" stroke="#a51269"/>
<path d="M937.8 753.5L951.4 753.2L964.9 746.8L951.3 746.9Z" stroke="#c90942"/>
<path d="M921.2 853.3L934.8 852.9L946.2 858.1L932.6 858.8Z" stroke="#236ef1"/>
<path d="M694.0 846.6L707.6 842.2L719.0 840.7L705.4 844.9Z" stroke="#2c65ec"/>
<path d="M517.9 794.1L531.5 795.5L544.9 795.5L531.3 794.0Z" stroke="#81218f"/>
<path d="M585.6 798.5L599.2 800.3L612.7 799.8L599.1 797.9Z" stroke="#7a2496"/>
<path d="M1009.8 867.3L1023.4 866.7L1034.8 872.1L1021.2 873.0Z" stroke="#1879f7"/>
<path d="M653.3 802.8L666.9 805.0L680.4 802.7L666.8 800.4Z" stroke="#74269c"/>
<path d="M669.0 854.8L682.6 850.5L694.0 846.6L680.4 851.0Z" stroke="#276aef"/>
<path d="M494.0 947.0L507.6 942.2L519.0 931.2L505.4 936.1Z" stroke="#00c1ff"/>
<path d="M519.0 931.2L532.6 926.6L544.0 916.3L530.4 921.0Z" stroke="#03b0fe"/>
<path d="M644.0 864.9L657.6 860.5L669.0 854.8L655.4 859.4Z" stroke="#2071f3"/>
<path d="M807.6 837.7L821.2 836.4L832.6 841.0L819.0 842.4Z" stroke="#2f62ea"/>
<path d="M544.0 916.3L557.6 911.8L569.0 902.0L555.4 906.7Z" stroke="#08a1fd"/>
<path d="M619.0 876.2L632.6 871.9L644.0 864.9L630.4 869.4Z" stroke="#1879f8"/>
<path d="M721.1 803.0L734.7 805.3L748.2 798.3L734.6 796.5Z" stroke="#782598"/>
<path d="M569.0 902.0L582.6 897.6L594.0 888.7L580.4 893.2Z" stroke="#0d92fc"/>
<path d="M594.0 888.7L607.6 884.3L619.0 876.2L605.4 880.8Z" stroke="#1284fb"/>
<path d="M815.9 784.3L829.5 784.5L843.0 776.1L829.4 775.9Z" stroke="#991775"/>
<path d="M896.2 848.7L909.8 848.2L921.2 853.3L907.6 854.0Z" stroke="#276aef"/>
<path d="M910.7 760.7L924.3 760.4L937.8 753.5L924.2 753.7Z" stroke="#bf0b4d"/>
<path d="M1005.5 740.0L1019.1 739.5L1032.6 733.7L1019.0 734.0Z" stroke="#e00429"/>
<path d="M984.8 862.5L998.4 862.0L1009.8 867.3L996.2 868.0Z" stroke="#1d74f5"/>
<path d="M782.6 835.3L796.2 833.4L807.6 837.7L794.0 839.5Z" stroke="#325fe8"/>
<path d="M558.5 797.0L572.1 798.6L585.6 798.5L572.0 796.8Z" stroke="#7e2292"/>
<path d="M626.3 801.8L639.9 803.8L653.3 802.8L639.8 800.6Z" stroke="#762599"/>
<path d="M788.8 792.4L802.4 792.9L815.9 784.3L802.3 783.8Z" stroke="#8d1c82"/>
<path d="M871.2 844.2L884.8 843.7L896.2 848.7L882.6 849.4Z" stroke="#2b66ec"/>
<path d="M694.0 805.1L707.6 807.6L721.1 803.0L707.5 800.8Z" stroke="#74269c"/>
<path d="M883.7 768.2L897.2 767.9L910.7 760.7L897.1 760.8Z" stroke="#b50e59"/>
<path d="M978.5 746.5L992.1 746.0L1005.5 740.0L991.9 740.3Z" stroke="#d70633"/>
<path d="M959.8 857.6L973.4 857.3L984.8 862.5L971.2 863.1Z" stroke="#2170f2"/>
<path d="M757.6 834.6L771.2 831.8L782.6 835.3L769.0 837.7Z" stroke="#365ce4"/>
<path d="M1048.4 871.3L1062.0 870.6L1073.4 875.9L1059.8 876.8Z" stroke="#177af8"/>
<path d="M761.8 799.8L775.4 801.1L788.8 792.4L775.2 791.5Z" stroke="#82218e"/>
<path d="M846.2 840.1L859.8 839.5L871.2 844.2L857.6 845.0Z" stroke="#2f62ea"/>
<path d="M856.6 776.2L870.2 775.9L883.7 768.2L870.1 768.3Z" stroke="#a91065"/>
<path d="M732.6 836.7L746.2 833.0L757.6 834.6L744.0 837.9Z" stroke="#365ce5"/>
<path d="M951.4 753.2L965.0 752.8L978.5 746.5L964.9 746.8Z" stroke="#ce083d"/>
<path d="M934.8 852.9L948.4 852.6L959.8 857.6L946.2 858.1Z" stroke="#256cf0"/>
<path d="M531.5 795.5L545.1 796.9L558.5 797.0L544.9 795.5Z" stroke="#82218d"/>
<path d="M599.2 800.3L612.8 802.0L626.3 801.8L612.7 799.8Z" stroke="#7a2495"/>
<path d="M666.9 805.0L680.5 807.3L694.0 805.1L680.4 802.7Z" stroke="#74269c"/>
<path d="M1023.4 866.7L1037.0 866.2L1048.4 871.3L1034.8 872.1Z" stroke="#1b76f6"/>
<path d="M707.6 842.2L721.2 838.0L732.6 836.7L719.0 840.7Z" stroke="#3160e9"/>
<path d="M482.6 958.5L496.2 953.9L507.6 942.2L494.0 947.0Z" stroke="#00cbff"/>
<path d="M734.7 805.3L748.3 807.4L761.8 799.8L748.2 798.3Z" stroke="#782598"/>
<path d="M682.6 850.5L696.2 846.3L707.6 842.2L694.0 846.6Z" stroke="#2c65ec"/>
<path d="M821.2 836.4L834.8 835.5L846.2 840.1L832.6 841.0Z" stroke="#325fe8"/>
<path d="M507.6 942.2L521.2 937.7L532.6 926.6L519.0 931.2Z" stroke="#00b9ff"/>
<path d="M829.5 784.5L843.1 784.4L856.6 776.2L843.0 776.1Z" stroke="#9d1571"/>
<path d="M532.6 926.6L546.2 922.2L557.6 911.8L544.0 916.3Z" stroke="#05a9fe"/>
<path d="M657.6 860.5L671.2 856.4L682.6 850.5L669.0 854.8Z" stroke="#256cf0"/>
<path d="M557.6 911.8L571.2 907.5L582.6 897.6L569.0 902.0Z" stroke="#0b99fc"/>
<path d="M632.6 871.9L646.2 867.8L657.6 860.5L644.0 864.9Z" stroke="#1d74f5"/>
<path d="M582.6 897.6L596.2 893.5L607.6 884.3L594.0 888.7Z" stroke="#108afb"/>
<path d="M909.8 848.2L923.4 848.0L934.8 852.9L921.2 853.3Z" stroke="#2968ed"/>
<path d="M924.3 760.4L937.9 759.9L951.4 753.2L937.8 753.5Z" stroke="#c40a48"/>
<path d="M607.6 884.3L621.2 880.2L632.6 871.9L619.0 876.2Z" stroke="#147dfa"/>
<path d="M1019.1 739.5L1032.7 738.9L1046.2 733.2L1032.6 733.7Z" stroke="#e50324"/>
<path d="M998.4 862.0L1012.0 861.7L1023.4 866.7L1009.8 867.3Z" stroke="#1f72f4"/>
<path d="M504.4 794.0L518.0 795.3L531.5 795.5L517.9 794.1Z" stroke="#861f89"/>
<path d="M572.1 798.6L585.7 800.1L599.2 800.3L585.6 798.5Z" stroke="#7f2291"/>
<path d="M796.2 833.4L809.8 832.1L821.2 836.4L807.6 837.7Z" stroke="#395ae1"/>
<path d="M639.9 803.8L653.5 805.8L666.9 805.0L653.3 802.8Z" stroke="#772599"/>
<path d="M802.4 792.9L816.0 793.1L829.5 784.5L815.9 784.3Z" stroke="#901b7e"/>
<path d="M707.6 807.6L721.2 810.1L734.7 805.3L721.1 803.0Z" stroke="#73279c"/>
<path d="M884.8 843.7L898.4 843.6L909.8 848.2L896.2 848.7Z" stroke="#2d64eb"/>
<path d="M897.2 767.9L910.8 767.5L924.3 760.4L910.7 760.7Z" stroke="#b90d54"/>
<path d="M992.1 746.0L1005.7 745.4L1019.1 739.5L1005.5 740.0Z" stroke="#dc052e"/>
<path d="M973.4 857.3L987.0 857.1L998.4 862.0L984.8 862.5Z" stroke="#236ef1"/>
<path d="M771.2 831.8L784.8 829.6L796.2 833.4L782.6 835.3Z" stroke="#3f56dc"/>
<path d="M1062.0 870.6L1075.6 870.0L1087.0 874.9L1073.4 875.9Z" stroke="#1978f7"/>
<path d="M775.4 801.1L789.0 801.9L802.4 792.9L788.8 792.4Z" stroke="#84208b"/>
<path d="M859.8 839.5L873.4 839.2L884.8 843.7L871.2 844.2Z" stroke="#3160e9"/>
<path d="M870.2 775.9L883.8 775.5L897.2 767.9L883.7 768.2Z" stroke="#ad0f60"/>
<path d="M545.1 796.9L558.7 798.3L572.1 798.6L558.5 797.0Z" stroke="#83208c"/>
<path d="M612.8 802.0L626.4 803.8L639.9 803.8L626.3 801.8Z" stroke="#7b2395"/>
<path d="M965.0 752.8L978.6 752.2L992.1 746.0L978.5 746.5Z" stroke="#d20738"/>
<path d="M746.2 833.0L759.8 829.5L771.2 831.8L757.6 834.6Z" stroke="#4055db"/>
<path d="M948.4 852.6L962.0 852.6L973.4 857.3L959.8 857.6Z" stroke="#276aef"/>
<path d="M680.5 807.3L694.1 809.6L707.6 807.6L694.0 805.1Z" stroke="#74269c"/>
<path d="M1037.0 866.2L1050.6 865.8L1062.0 870.6L1048.4 871.3Z" stroke="#1d74f5"/>
<path d="M748.3 807.4L761.9 809.4L775.4 801.1L761.8 799.8Z" stroke="#792497"/>
<path d="M721.2 838.0L734.8 834.0L746.2 833.0L732.6 836.7Z" stroke="#3b58df"/>
<path d="M471.2 970.7L484.8 966.1L496.2 953.9L482.6 958.5Z" stroke="#00d5ff"/>
<path d="M834.8 835.5L848.4 835.1L859.8 839.5L846.2 840.1Z" stroke="#385be3"/>
<path d="M496.2 953.9L509.8 949.4L521.2 937.7L507.6 942.2Z" stroke="#00c3ff"/>
<path d="M843.1 784.4L856.7 783.9L870.2 775.9L856.6 776.2Z" stroke="#a1146d"/>
<path d="M696.2 846.3L709.8 842.3L721.2 838.0L707.6 842.2Z" stroke="#3160e9"/>
<path d="M521.2 937.7L534.8 933.4L546.2 922.2L532.6 926.6Z" stroke="#02b2fe"/>
<path d="M923.4 848.0L937.0 848.1L948.4 852.6L934.8 852.9Z" stroke="#2b66ec"/>
<path d="M937.9 759.9L951.5 759.3L965.0 752.8L951.4 753.2Z" stroke="#c80943"/>
<path d="M671.2 856.4L684.8 852.5L696.2 846.3L682.6 850.5Z" stroke="#2a67ed"/>
<path d="M1032.7 738.9L1046.3 738.2L1059.8 732.6L1046.2 733.2Z" stroke="#e9021f"/>
<path d="M546.2 922.2L559.8 918.1L571.2 907.5L557.6 911.8Z" stroke="#08a1fd"/>
<path d="M571.2 907.5L584.8 903.4L596.2 893.5L582.6 897.6Z" stroke="#0d92fc"/>
<path d="M646.2 867.8L659.8 864.0L671.2 856.4L657.6 860.5Z" stroke="#226ff2"/>
<path d="M596.2 893.5L609.8 889.5L621.2 880.2L607.6 884.3Z" stroke="#1283fb"/>
<path d="M621.2 880.2L634.8 876.4L646.2 867.8L632.6 871.9Z" stroke="#1978f7"/>
<path d="M1012.0 861.7L1025.6 861.5L1037.0 866.2L1023.4 866.7Z" stroke="#2170f2"/>
<path d="M518.0 795.3L531.6 796.5L545.1 796.9L531.5 795.5Z" stroke="#881e87"/>
<path d="M585.7 800.1L599.3 801.7L612.8 802.0L599.2 800.3Z" stroke="#802190"/>
<path d="M653.5 805.8L667.1 807.7L680.5 807.3L666.9 805.0Z" stroke="#772599"/>
<path d="M809.8 832.1L823.4 831.4L834.8 835.5L821.2 836.4Z" stroke="#4055db"/>
<path d="M721.2 810.1L734.8 812.6L748.3 807.4L734.7 805.3Z" stroke="#73279d"/>
<path d="M816.0 793.1L829.6 792.9L843.1 784.4L829.5 784.5Z" stroke="#94197a"/>
<path d="M898.4 843.6L912.0 843.7L923.4 848.0L909.8 848.2Z" stroke="#2f62ea"/>
<path d="M910.8 767.5L924.4 766.8L937.9 759.9L924.3 760.4Z" stroke="#bd0c4f"/>
<path d="M1005.7 745.4L1019.3 744.7L1032.7 738.9L1019.1 739.5Z" stroke="#e00429"/>
<path d="M987.0 857.1L1000.6 857.1L1012.0 861.7L998.4 862.0Z" stroke="#256cf0"/>
<path d="M784.8 829.6L798.4 828.2L809.8 832.1L796.2 833.4Z" stroke="#4750d5"/>
<path d="M789.0 801.9L802.6 802.2L816.0 793.1L802.4 792.9Z" stroke="#871e88"/>
<path d="M873.4 839.2L887.0 839.4L898.4 843.6L884.8 843.7Z" stroke="#335ee7"/>
<path d="M490.9 793.8L504.5 794.9L518.0 795.3L504.4 794.0Z" stroke="#8c1c83"/>
<path d="M883.8 775.5L897.4 774.8L910.8 767.5L897.2 767.9Z" stroke="#b20e5b"/>
<path d="M558.7 798.3L572.2 799.6L585.7 800.1L572.1 798.6Z" stroke="#851f8a"/>
<path d="M626.4 803.8L640.0 805.4L653.5 805.8L639.9 803.8Z" stroke="#7c2394"/>
<path d="M694.1 809.6L707.7 811.8L721.2 810.1L707.6 807.6Z" stroke="#73279c"/>
<path d="M978.6 752.2L992.2 751.5L1005.7 745.4L992.1 746.0Z" stroke="#d70633"/>
<path d="M962.0 852.6L975.6 852.7L987.0 857.1L973.4 857.3Z" stroke="#2968ee"/>
<path d="M759.8 829.5L773.4 826.6L784.8 829.6L771.2 831.8Z" stroke="#4a4ed2"/>
<path d="M1050.6 865.8L1064.2 865.5L1075.6 870.0L1062.0 870.6Z" stroke="#1f72f3"/>
<path d="M761.9 809.4L775.5 810.9L789.0 801.9L775.4 801.1Z" stroke="#7b2495"/>
<path d="M459.8 983.4L473.4 978.9L484.8 966.1L471.2 970.7Z" stroke="#00e0ff"/>
<path d="M848.4 835.1L862.0 835.2L873.4 839.2L859.8 839.5Z" stroke="#3d57de"/>
<path d="M734.8 834.0L748.4 830.0L759.8 829.5L746.2 833.0Z" stroke="#4750d5"/>
<path d="M856.7 783.9L870.3 783.2L883.8 775.5L870.2 775.9Z" stroke="#a61268"/>
<path d="M484.8 966.1L498.4 961.7L509.8 949.4L496.2 953.9Z" stroke="#00cdff"/>
<path d="M937.0 848.1L950.6 848.4L962.0 852.6L948.4 852.6Z" stroke="#2d64eb"/>
<path d="M509.8 949.4L523.4 945.2L534.8 933.4L521.2 937.7Z" stroke="#00bbff"/>
<path d="M951.5 759.3L965.1 758.5L978.6 752.2L965.0 752.8Z" stroke="#cd083e"/>
<path d="M709.8 842.3L723.4 838.5L734.8 834.0L721.2 838.0Z" stroke="#3b58df"/>
<path d="M1046.3 738.2L1059.9 737.3L1073.4 731.9L1059.8 732.6Z" stroke="#ee001a"/>
<path d="M534.8 933.4L548.4 929.4L559.8 918.1L546.2 922.2Z" stroke="#05aafe"/>
<path d="M1025.6 861.5L1039.2 861.4L1050.6 865.8L1037.0 866.2Z" stroke="#236ef1"/>
<path d="M684.8 852.5L698.4 848.9L709.8 842.3L696.2 846.3Z" stroke="#2f62ea"/>
<path d="M559.8 918.1L573.4 914.2L584.8 903.4L571.2 907.5Z" stroke="#0a9afc"/>
<path d="M531.6 796.5L545.2 797.8L558.7 798.3L545.1 796.9Z" stroke="#8a1d86"/>
<path d="M667.1 807.7L680.7 809.6L694.1 809.6L680.5 807.3Z" stroke="#772598"/>
<path d="M584.8 903.4L598.4 899.6L609.8 889.5L596.2 893.5Z" stroke="#0f8bfb"/>
<path d="M659.8 864.0L673.4 860.4L684.8 852.5L671.2 856.4Z" stroke="#276aef"/>
<path d="M599.3 801.7L612.9 803.2L626.4 803.8L612.8 802.0Z" stroke="#81218e"/>
<path d="M609.8 889.5L623.4 885.8L634.8 876.4L621.2 880.2Z" stroke="#147dfa"/>
<path d="M634.8 876.4L648.4 872.8L659.8 864.0L646.2 867.8Z" stroke="#1e73f4"/>
<path d="M734.8 812.6L748.4 815.2L761.9 809.4L748.3 807.4Z" stroke="#73279d"/>
<path d="M823.4 831.4L837.0 831.3L848.4 835.1L834.8 835.5Z" stroke="#4551d7"/>
<path d="M829.6 792.9L843.2 792.2L856.7 783.9L843.1 784.4Z" stroke="#991776"/>
<path d="M912.0 843.7L925.6 844.0L937.0 848.1L923.4 848.0Z" stroke="#3061e9"/>
<path d="M924.4 766.8L938.0 765.9L951.5 759.3L937.9 759.9Z" stroke="#c20a4a"/>
<path d="M1019.3 744.7L1032.9 743.8L1046.3 738.2L1032.7 738.9Z" stroke="#e50224"/>
<path d="M1000.6 857.1L1014.2 857.2L1025.6 861.5L1012.0 861.7Z" stroke="#276aef"/>
<path d="M798.4 828.2L812.0 827.6L823.4 831.4L809.8 832.1Z" stroke="#4d4cd0"/>
<path d="M802.6 802.2L816.1 801.8L829.6 792.9L816.0 793.1Z" stroke="#8b1d84"/>
<path d="M504.5 794.9L518.1 796.1L531.6 796.5L518.0 795.3Z" stroke="#8e1c81"/>
<path d="M640.0 805.4L653.6 807.1L667.1 807.7L653.5 805.8Z" stroke="#7c2393"/>
<path d="M707.7 811.8L721.3 814.0L734.8 812.6L721.2 810.1Z" stroke="#73279d"/>
<path d="M887.0 839.4L900.6 839.8L912.0 843.7L898.4 843.6Z" stroke="#385be3"/>
<path d="M572.2 799.6L585.8 801.0L599.3 801.7L585.7 800.1Z" stroke="#861f89"/>
<path d="M897.4 774.8L911.0 773.8L924.4 766.8L910.8 767.5Z" stroke="#b70d56"/>
<path d="M975.6 852.7L989.2 853.0L1000.6 857.1L987.0 857.1Z" stroke="#2a67ed"/>
<path d="M992.2 751.5L1005.8 750.6L1019.3 744.7L1005.7 745.4Z" stroke="#dc052e"/>
<path d="M773.4 826.6L787.0 824.7L798.4 828.2L784.8 829.6Z" stroke="#5348ca"/>
<path d="M775.5 810.9L789.1 811.6L802.6 802.2L789.0 801.9Z" stroke="#7d2393"/>
<path d="M448.4 996.6L462.0 992.2L473.4 978.9L459.8 983.4Z" stroke="#00ecff"/>
<path d="M862.0 835.2L875.6 835.7L887.0 839.4L873.4 839.2Z" stroke="#4155db"/>
<path d="M473.4 978.9L487.0 974.6L498.4 961.7L484.8 966.1Z" stroke="#00d9ff"/>
<path d="M870.3 783.2L883.9 782.2L897.4 774.8L883.8 775.5Z" stroke="#ab1063"/>
<path d="M748.4 830.0L762.0 826.1L773.4 826.6L759.8 829.5Z" stroke="#5248cb"/>
<path d="M950.6 848.4L964.2 848.8L975.6 852.7L962.0 852.6Z" stroke="#2e63ea"/>
<path d="M498.4 961.7L512.0 957.6L523.4 945.2L509.8 949.4Z" stroke="#00c6ff"/>
<path d="M965.1 758.5L978.7 757.6L992.2 751.5L978.6 752.2Z" stroke="#d20739"/>
<path d="M1059.9 737.3L1073.5 736.3L1087.0 730.9L1073.4 731.9Z" stroke="#f00018"/>
<path d="M477.4 793.6L491.0 794.7L504.5 794.9L490.9 793.8Z" stroke="#921a7c"/>
<path d="M523.4 945.2L537.0 941.2L548.4 929.4L534.8 933.4Z" stroke="#02b4ff"/>
<path d="M680.7 809.6L694.3 811.3L707.7 811.8L694.1 809.6Z" stroke="#782598"/>
<path d="M1039.2 861.4L1052.8 861.4L1064.2 865.5L1050.6 865.8Z" stroke="#256cf0"/>
<path d="M545.2 797.8L558.8 799.0L572.2 799.6L558.7 798.3Z" stroke="#8b1d84"/>
<path d="M612.9 803.2L626.5 804.6L640.0 805.4L626.4 803.8Z" stroke="#82218d"/>
<path d="M723.4 838.5L737.0 835.0L748.4 830.0L734.8 834.0Z" stroke="#4750d5"/>
<path d="M548.4 929.4L562.0 925.5L573.4 914.2L559.8 918.1Z" stroke="#07a3fd"/>
<path d="M748.4 815.2L762.0 817.8L775.5 810.9L761.9 809.4Z" stroke="#73279d"/>
<path d="M698.4 848.9L712.0 845.7L723.4 838.5L709.8 842.3Z" stroke="#365ce5"/>
<path d="M573.4 914.2L587.0 910.5L598.4 899.6L584.8 903.4Z" stroke="#0d93fc"/>
<path d="M673.4 860.4L687.0 857.2L698.4 848.9L684.8 852.5Z" stroke="#2b66ec"/>
<path d="M598.4 899.6L612.0 896.1L623.4 885.8L609.8 889.5Z" stroke="#1284fb"/>
<path d="M648.4 872.8L662.0 869.5L673.4 860.4L659.8 864.0Z" stroke="#236ef1"/>
<path d="M623.4 885.8L637.0 882.4L648.4 872.8L634.8 876.4Z" stroke="#1978f7"/>
<path d="M837.0 831.3L850.6 831.8L862.0 835.2L848.4 835.1Z" stroke="#494ed3"/>
<path d="M843.2 792.2L856.8 791.2L870.3 783.2L856.7 783.9Z" stroke="#9e1571"/>
<path d="M925.6 844.0L939.2 844.6L950.6 848.4L937.0 848.1Z" stroke="#325fe8"/>
<path d="M938.0 765.9L951.6 764.9L965.1 758.5L951.5 759.3Z" stroke="#c80944"/>
<path d="M1032.9 743.8L1046.4 742.8L1059.9 737.3L1046.3 738.2Z" stroke="#eb011e"/>
<path d="M1014.2 857.2L1027.8 857.4L1039.2 861.4L1025.6 861.5Z" stroke="#2869ee"/>
<path d="M812.0 827.6L825.6 828.0L837.0 831.3L823.4 831.4Z" stroke="#5248cb"/>
<path d="M816.1 801.8L829.7 800.7L843.2 792.2L829.6 792.9Z" stroke="#901b7f"/>
<path d="M721.3 814.0L734.9 815.9L748.4 815.2L734.8 812.6Z" stroke="#73279d"/>
<path d="M653.6 807.1L667.2 808.6L680.7 809.6L667.1 807.7Z" stroke="#7d2292"/>
<path d="M518.1 796.1L531.7 797.3L545.2 797.8L531.6 796.5Z" stroke="#901b7f"/>
<path d="M585.8 801.0L599.4 802.3L612.9 803.2L599.3 801.7Z" stroke="#881e88"/>
<path d="M900.6 839.8L914.2 840.5L925.6 844.0L912.0 843.7Z" stroke="#3b59e0"/>
<path d="M911.0 773.8L924.6 772.7L938.0 765.9L924.4 766.8Z" stroke="#bc0c50"/>
<path d="M989.2 853.0L1002.8 853.4L1014.2 857.2L1000.6 857.1Z" stroke="#2c65ec"/>
<path d="M1005.8 750.6L1019.4 749.5L1032.9 743.8L1019.3 744.7Z" stroke="#e10328"/>
<path d="M787.0 824.7L800.6 824.4L812.0 827.6L798.4 828.2Z" stroke="#5a42c1"/>
<path d="M789.1 811.6L802.7 810.9L816.1 801.8L802.6 802.2Z" stroke="#81218e"/>
<path d="M437.0 1010.3L450.6 1005.9L462.0 992.2L448.4 996.6Z" stroke="#00f8ff"/>
<path d="M875.6 835.7L889.2 836.5L900.6 839.8L887.0 839.4Z" stroke="#4452d8"/>
<path d="M462.0 992.2L475.6 987.9L487.0 974.6L473.4 978.9Z" stroke="#00e4ff"/>
<path d="M883.9 782.2L897.5 781.0L911.0 773.8L897.4 774.8Z" stroke="#b00f5d"/>
<path d="M964.2 848.8L977.8 849.4L989.2 853.0L975.6 852.7Z" stroke="#3061e9"/>
<path d="M487.0 974.6L500.6 970.4L512.0 957.6L498.4 961.7Z" stroke="#00d1ff"/>
<path d="M762.0 826.1L775.6 822.4L787.0 824.7L773.4 826.6Z" stroke="#5e3eba"/>
<path d="M978.7 757.6L992.3 756.4L1005.8 750.6L992.2 751.5Z" stroke="#d70633"/>
<path d="M694.3 811.3L707.9 812.9L721.3 814.0L707.7 811.8Z" stroke="#782598"/>
<path d="M491.0 794.7L504.6 795.7L518.1 796.1L504.5 794.9Z" stroke="#94197a"/>
<path d="M626.5 804.6L640.1 805.9L653.6 807.1L640.0 805.4Z" stroke="#83208c"/>
<path d="M558.8 799.0L572.4 800.2L585.8 801.0L572.2 799.6Z" stroke="#8d1c82"/>
<path d="M512.0 957.6L525.6 953.6L537.0 941.2L523.4 945.2Z" stroke="#00bfff"/>
<path d="M762.0 817.8L775.6 820.5L789.1 811.6L775.5 810.9Z" stroke="#74269c"/>
<path d="M537.0 941.2L550.6 937.4L562.0 925.5L548.4 929.4Z" stroke="#04adfe"/>
<path d="M737.0 835.0L750.6 832.1L762.0 826.1L748.4 830.0Z" stroke="#5248cb"/>
<path d="M562.0 925.5L575.6 921.9L587.0 910.5L573.4 914.2Z" stroke="#099dfd"/>
<path d="M850.6 831.8L864.2 832.7L875.6 835.7L862.0 835.2Z" stroke="#4d4cd0"/>
<path d="M712.0 845.7L725.6 842.9L737.0 835.0L723.4 838.5Z" stroke="#4055db"/>
<path d="M587.0 910.5L600.6 907.0L612.0 896.1L598.4 899.6Z" stroke="#0f8dfb"/>
<path d="M687.0 857.2L700.6 854.3L712.0 845.7L698.4 848.9Z" stroke="#3061e9"/>
<path d="M612.0 896.1L625.6 892.8L637.0 882.4L623.4 885.8Z" stroke="#147efa"/>
<path d="M662.0 869.5L675.6 866.5L687.0 857.2L673.4 860.4Z" stroke="#276aef"/>
<path d="M637.0 882.4L650.6 879.3L662.0 869.5L648.4 872.8Z" stroke="#1d74f4"/>
<path d="M856.8 791.2L870.4 789.8L883.9 782.2L870.3 783.2Z" stroke="#a3136b"/>
<path d="M939.2 844.6L952.8 845.4L964.2 848.8L950.6 848.4Z" stroke="#355de5"/>
<path d="M951.6 764.9L965.2 763.7L978.7 757.6L965.1 758.5Z" stroke="#cd083e"/>
<path d="M1027.8 857.4L1041.4 857.7L1052.8 861.4L1039.2 861.4Z" stroke="#2a67ed"/>
<path d="M1046.4 742.8L1060.0 741.6L1073.5 736.3L1059.9 737.3Z" stroke="#f00018"/>
<path d="M825.6 828.0L839.2 829.0L850.6 831.8L837.0 831.3Z" stroke="#5546c8"/>
<path d="M464.0 793.4L477.6 794.4L491.0 794.7L477.4 793.6Z" stroke="#981776"/>
<path d="M734.9 815.9L748.5 817.4L762.0 817.8L748.4 815.2Z" stroke="#73279d"/>
<path d="M667.2 808.6L680.8 809.9L694.3 811.3L680.7 809.6Z" stroke="#7e2291"/>
<path d="M829.7 800.7L843.3 799.1L856.8 791.2L843.2 792.2Z" stroke="#951979"/>
<path d="M531.7 797.3L545.3 798.4L558.8 799.0L545.2 797.8Z" stroke="#921a7d"/>
<path d="M599.4 802.3L613.0 803.5L626.5 804.6L612.9 803.2Z" stroke="#891e86"/>
<path d="M914.2 840.5L927.8 841.5L939.2 844.6L925.6 844.0Z" stroke="#3e56dd"/>
<path d="M1002.8 853.4L1016.4 854.0L1027.8 857.4L1014.2 857.2Z" stroke="#2d64eb"/>
<path d="M924.6 772.7L938.2 771.4L951.6 764.9L938.0 765.9Z" stroke="#c20b4a"/>
<path d="M1019.4 749.5L1033.0 748.3L1046.4 742.8L1032.9 743.8Z" stroke="#e70222"/>
<path d="M800.6 824.4L814.2 825.6L825.6 828.0L812.0 827.6Z" stroke="#5f3eb9"/>
<path d="M802.7 810.9L816.3 809.1L829.7 800.7L816.1 801.8Z" stroke="#861f89"/>
<path d="M889.2 836.5L902.8 837.7L914.2 840.5L900.6 839.8Z" stroke="#4750d5"/>
<path d="M450.6 1005.9L464.2 1001.6L475.6 987.9L462.0 992.2Z" stroke="#00f0ff"/>
<path d="M977.8 849.4L991.4 850.2L1002.8 853.4L989.2 853.0Z" stroke="#3160e9"/>
<path d="M897.5 781.0L911.1 779.5L924.6 772.7L911.0 773.8Z" stroke="#b60d57"/>
<path d="M475.6 987.9L489.2 983.8L500.6 970.4L487.0 974.6Z" stroke="#00ddff"/>
<path d="M707.9 812.9L721.4 814.1L734.9 815.9L721.3 814.0Z" stroke="#792497"/>
<path d="M504.6 795.7L518.2 796.8L531.7 797.3L518.1 796.1Z" stroke="#961878"/>
<path d="M640.1 805.9L653.7 807.2L667.2 808.6L653.6 807.1Z" stroke="#851f8b"/>
<path d="M572.4 800.2L586.0 801.4L599.4 802.3L585.8 801.0Z" stroke="#8f1b80"/>
<path d="M775.6 822.4L789.2 823.2L800.6 824.4L787.0 824.7Z" stroke="#6737ad"/>
<path d="M992.3 756.4L1005.9 755.2L1019.4 749.5L1005.8 750.6Z" stroke="#dd042d"/>
<path d="M500.6 970.4L514.2 966.5L525.6 953.6L512.0 957.6Z" stroke="#00caff"/>
<path d="M775.6 820.5L789.2 818.8L802.7 810.9L789.1 811.6Z" stroke="#772598"/>
<path d="M525.6 953.6L539.2 949.9L550.6 937.4L537.0 941.2Z" stroke="#00b8ff"/>
<path d="M864.2 832.7L877.8 834.0L889.2 836.5L875.6 835.7Z" stroke="#4f4acd"/>
<path d="M550.6 937.4L564.2 933.9L575.6 921.9L562.0 925.5Z" stroke="#06a7fd"/>
<path d="M750.6 832.1L764.2 830.2L775.6 822.4L762.0 826.1Z" stroke="#5e3eba"/>
<path d="M575.6 921.9L589.2 918.5L600.6 907.0L587.0 910.5Z" stroke="#0c96fc"/>
<path d="M725.6 842.9L739.2 840.7L750.6 832.1L737.0 835.0Z" stroke="#4a4ed2"/>
<path d="M952.8 845.4L966.4 846.4L977.8 849.4L964.2 848.8Z" stroke="#385be2"/>
<path d="M870.4 789.8L884.0 788.1L897.5 781.0L883.9 782.2Z" stroke="#aa1064"/>
<path d="M600.6 907.0L614.2 903.8L625.6 892.8L612.0 896.1Z" stroke="#1187fb"/>
<path d="M700.6 854.3L714.2 851.9L725.6 842.9L712.0 845.7Z" stroke="#365ce4"/>
<path d="M625.6 892.8L639.2 889.8L650.6 879.3L637.0 882.4Z" stroke="#1879f8"/>
<path d="M675.6 866.5L689.2 863.8L700.6 854.3L687.0 857.2Z" stroke="#2b66ec"/>
<path d="M650.6 879.3L664.2 876.5L675.6 866.5L662.0 869.5Z" stroke="#226ff2"/>
<path d="M965.2 763.7L978.8 762.3L992.3 756.4L978.7 757.6Z" stroke="#d30738"/>
<path d="M839.2 829.0L852.8 830.6L864.2 832.7L850.6 831.8Z" stroke="#5844c4"/>
<path d="M748.5 817.4L762.1 818.1L775.6 820.5L762.0 817.8Z" stroke="#74269c"/>
<path d="M477.6 794.4L491.1 795.5L504.6 795.7L491.0 794.7Z" stroke="#9a1674"/>
<path d="M680.8 809.9L694.4 811.1L707.9 812.9L694.3 811.3Z" stroke="#802190"/>
<path d="M545.3 798.4L558.9 799.5L572.4 800.2L558.8 799.0Z" stroke="#94197b"/>
<path d="M613.0 803.5L626.6 804.7L640.1 805.9L626.5 804.6Z" stroke="#8b1d84"/>
<path d="M927.8 841.5L941.4 842.7L952.8 845.4L939.2 844.6Z" stroke="#4154db"/>
<path d="M843.3 799.1L856.9 797.1L870.4 789.8L856.8 791.2Z" stroke="#9c1673"/>
<path d="M1016.4 854.0L1030.0 854.6L1041.4 857.7L1027.8 857.4Z" stroke="#2f62ea"/>
<path d="M938.2 771.4L951.8 769.8L965.2 763.7L951.6 764.9Z" stroke="#c80943"/>
<path d="M1033.0 748.3L1046.6 746.9L1060.0 741.6L1046.4 742.8Z" stroke="#ed011c"/>
<path d="M814.2 825.6L827.8 827.6L839.2 829.0L825.6 828.0Z" stroke="#623cb5"/>
<path d="M816.3 809.1L829.9 806.6L843.3 799.1L829.7 800.7Z" stroke="#8d1c82"/>
<path d="M902.8 837.7L916.4 839.1L927.8 841.5L914.2 840.5Z" stroke="#494fd3"/>
<path d="M991.4 850.2L1005.0 851.0L1016.4 854.0L1002.8 853.4Z" stroke="#335fe7"/>
<path d="M450.5 793.3L464.1 794.3L477.6 794.4L464.0 793.4Z" stroke="#9e1570"/>
<path d="M721.4 814.1L735.0 815.0L748.5 817.4L734.9 815.9Z" stroke="#7b2495"/>
<path d="M464.2 1001.6L477.8 997.5L489.2 983.8L475.6 987.9Z" stroke="#00e9ff"/>
<path d="M518.2 796.8L531.8 797.9L545.3 798.4L531.7 797.3Z" stroke="#981776"/>
<path d="M911.1 779.5L924.7 777.8L938.2 771.4L924.6 772.7Z" stroke="#bc0c50"/>
<path d="M653.7 807.2L667.3 808.3L680.8 809.9L667.2 808.6Z" stroke="#861f89"/>
<path d="M586.0 801.4L599.6 802.5L613.0 803.5L599.4 802.3Z" stroke="#901b7f"/>
<path d="M789.2 823.2L802.8 825.9L814.2 825.6L800.6 824.4Z" stroke="#6a35a9"/>
<path d="M489.2 983.8L502.8 979.8L514.2 966.5L500.6 970.4Z" stroke="#00d6ff"/>
<path d="M1005.9 755.2L1019.5 753.7L1033.0 748.3L1019.4 749.5Z" stroke="#e30326"/>
<path d="M789.2 818.8L802.8 815.2L816.3 809.1L802.7 810.9Z" stroke="#7f2291"/>
<path d="M514.2 966.5L527.8 962.8L539.2 949.9L525.6 953.6Z" stroke="#00c3ff"/>
<path d="M877.8 834.0L891.4 835.6L902.8 837.7L889.2 836.5Z" stroke="#5149cb"/>
<path d="M539.2 949.9L552.8 946.3L564.2 933.9L550.6 937.4Z" stroke="#03b1fe"/>
<path d="M764.2 830.2L777.8 829.9L789.2 823.2L775.6 822.4Z" stroke="#6737ad"/>
<path d="M966.4 846.4L980.0 847.5L991.4 850.2L977.8 849.4Z" stroke="#3b59e0"/>
<path d="M564.2 933.9L577.8 930.5L589.2 918.5L575.6 921.9Z" stroke="#08a0fd"/>
<path d="M739.2 840.7L752.8 839.2L764.2 830.2L750.6 832.1Z" stroke="#5348ca"/>
<path d="M589.2 918.5L602.8 915.4L614.2 903.8L600.6 907.0Z" stroke="#0e90fc"/>
<path d="M884.0 788.1L897.6 786.1L911.1 779.5L897.5 781.0Z" stroke="#b00f5d"/>
<path d="M714.2 851.9L727.8 850.0L739.2 840.7L725.6 842.9Z" stroke="#3f56dc"/>
<path d="M614.2 903.8L627.8 900.9L639.2 889.8L625.6 892.8Z" stroke="#1381fa"/>
<path d="M689.2 863.8L702.8 861.6L714.2 851.9L700.6 854.3Z" stroke="#2f62ea"/>
<path d="M639.2 889.8L652.8 887.1L664.2 876.5L650.6 879.3Z" stroke="#1c75f5"/>
<path d="M664.2 876.5L677.8 874.0L689.2 863.8L675.6 866.5Z" stroke="#256cf0"/>
<path d="M978.8 762.3L992.4 760.8L1005.9 755.2L992.3 756.4Z" stroke="#d90531"/>
<path d="M852.8 830.6L866.4 832.5L877.8 834.0L864.2 832.7Z" stroke="#5a42c1"/>
<path d="M491.1 795.5L504.7 796.5L518.2 796.8L504.6 795.7Z" stroke="#9c1672"/>
<path d="M762.1 818.1L775.7 817.5L789.2 818.8L775.6 820.5Z" stroke="#772598"/>
<path d="M694.4 811.1L708.0 812.0L721.4 814.1L707.9 812.9Z" stroke="#82218e"/>
<path d="M558.9 799.5L572.5 800.6L586.0 801.4L572.4 800.2Z" stroke="#951879"/>
<path d="M626.6 804.7L640.2 805.8L653.7 807.2L640.1 805.9Z" stroke="#8d1c83"/>
<path d="M941.4 842.7L955.0 844.0L966.4 846.4L952.8 845.4Z" stroke="#4353d8"/>
<path d="M856.9 797.1L870.5 794.8L884.0 788.1L870.4 789.8Z" stroke="#a3136b"/>
<path d="M951.8 769.8L965.3 768.2L978.8 762.3L965.2 763.7Z" stroke="#ce083d"/>
<path d="M827.8 827.6L841.4 829.9L852.8 830.6L839.2 829.0Z" stroke="#633ab3"/>
<path d="M916.4 839.1L930.0 840.6L941.4 842.7L927.8 841.5Z" stroke="#4b4dd1"/>
<path d="M829.9 806.6L843.5 803.7L856.9 797.1L843.3 799.1Z" stroke="#95197a"/>
<path d="M1005.0 851.0L1018.6 852.0L1030.0 854.6L1016.4 854.0Z" stroke="#365ce5"/>
<path d="M464.1 794.3L477.7 795.3L491.1 795.5L477.6 794.4Z" stroke="#a0146e"/>
<path d="M735.0 815.0L748.6 815.2L762.1 818.1L748.5 817.4Z" stroke="#7d2393"/>
<path d="M531.8 797.9L545.4 798.9L558.9 799.5L545.3 798.4Z" stroke="#9a1774"/>
<path d="M667.3 808.3L680.9 809.2L694.4 811.1L680.8 809.9Z" stroke="#881e87"/>
<path d="M802.8 825.9L816.4 828.6L827.8 827.6L814.2 825.6Z" stroke="#6a35a9"/>
<path d="M599.6 802.5L613.2 803.5L626.6 804.7L613.0 803.5Z" stroke="#921a7d"/>
<path d="M924.7 777.8L938.3 775.9L951.8 769.8L938.2 771.4Z" stroke="#c30a49"/>
<path d="M477.8 997.5L491.4 993.6L502.8 979.8L489.2 983.8Z" stroke="#00e2ff"/>
<path d="M1019.5 753.7L1033.1 752.1L1046.6 746.9L1033.0 748.3Z" stroke="#e90220"/>
<path d="M891.4 835.6L905.0 837.4L916.4 839.1L902.8 837.7Z" stroke="#5348ca"/>
<path d="M502.8 979.8L516.4 976.1L527.8 962.8L514.2 966.5Z" stroke="#00cfff"/>
<path d="M802.8 815.2L816.4 811.8L829.9 806.6L816.3 809.1Z" stroke="#871e88"/>
<path d="M777.8 829.9L791.4 831.1L802.8 825.9L789.2 823.2Z" stroke="#6a35a9"/>
<path d="M527.8 962.8L541.4 959.2L552.8 946.3L539.2 949.9Z" stroke="#00bcff"/>
<path d="M980.0 847.5L993.6 848.7L1005.0 851.0L991.4 850.2Z" stroke="#3d57de"/>
<path d="M552.8 946.3L566.4 943.0L577.8 930.5L564.2 933.9Z" stroke="#05abfe"/>
<path d="M752.8 839.2L766.4 838.7L777.8 829.9L764.2 830.2Z" stroke="#5a42c1"/>
<path d="M577.8 930.5L591.4 927.4L602.8 915.4L589.2 918.5Z" stroke="#0a9afc"/>
<path d="M897.6 786.1L911.2 784.0L924.7 777.8L911.1 779.5Z" stroke="#b70d56"/>
<path d="M727.8 850.0L741.4 848.7L752.8 839.2L739.2 840.7Z" stroke="#4750d5"/>
<path d="M602.8 915.4L616.4 912.5L627.8 900.9L614.2 903.8Z" stroke="#108afb"/>
<path d="M627.8 900.9L641.4 898.2L652.8 887.1L639.2 889.8Z" stroke="#157cf9"/>
<path d="M702.8 861.6L716.4 859.8L727.8 850.0L714.2 851.9Z" stroke="#325fe8"/>
<path d="M652.8 887.1L666.4 884.7L677.8 874.0L664.2 876.5Z" stroke="#2071f3"/>
<path d="M677.8 874.0L691.4 871.9L702.8 861.6L689.2 863.8Z" stroke="#2968ed"/>
<path d="M866.4 832.5L880.0 834.6L891.4 835.6L877.8 834.0Z" stroke="#5b41bf"/>
<path d="M437.0 793.4L450.6 794.4L464.1 794.3L450.5 793.3Z" stroke="#a4136a"/>
<path d="M992.4 760.8L1006.0 759.1L1019.5 753.7L1005.9 755.2Z" stroke="#df042a"/>
<path d="M504.7 796.5L518.3 797.5L531.8 797.9L518.2 796.8Z" stroke="#9e1570"/>
<path d="M708.0 812.0L721.6 812.5L735.0 815.0L721.4 814.1Z" stroke="#84208b"/>
<path d="M572.5 800.6L586.1 801.6L599.6 802.5L586.0 801.4Z" stroke="#971877"/>
<path d="M640.2 805.8L653.8 806.7L667.3 808.3L653.7 807.2Z" stroke="#8e1b80"/>
<path d="M775.7 817.5L789.3 815.6L802.8 815.2L789.2 818.8Z" stroke="#7f2291"/>
<path d="M955.0 844.0L968.6 845.4L980.0 847.5L966.4 846.4Z" stroke="#4551d7"/>
<path d="M870.5 794.8L884.1 792.4L897.6 786.1L884.0 788.1Z" stroke="#aa1064"/>
<path d="M841.4 829.9L855.0 832.3L866.4 832.5L852.8 830.6Z" stroke="#643ab2"/>
<path d="M965.3 768.2L978.9 766.3L992.4 760.8L978.8 762.3Z" stroke="#d50636"/>
<path d="M930.0 840.6L943.6 842.3L955.0 844.0L941.4 842.7Z" stroke="#4d4cd0"/>
<path d="M843.5 803.7L857.1 800.8L870.5 794.8L856.9 797.1Z" stroke="#9d1571"/>
<path d="M477.7 795.3L491.3 796.3L504.7 796.5L491.1 795.5Z" stroke="#a2136c"/>
<path d="M816.4 828.6L830.0 831.3L841.4 829.9L827.8 827.6Z" stroke="#6a35a9"/>
<path d="M545.4 798.9L559.0 799.9L572.5 800.6L558.9 799.5Z" stroke="#9c1672"/>
<path d="M748.6 815.2L762.2 814.8L775.7 817.5L762.1 818.1Z" stroke="#81218e"/>
<path d="M680.9 809.2L694.5 809.9L708.0 812.0L694.4 811.1Z" stroke="#8b1d85"/>
<path d="M613.2 803.5L626.8 804.5L640.2 805.8L626.6 804.7Z" stroke="#94197b"/>
<path d="M938.3 775.9L951.9 773.9L965.3 768.2L951.8 769.8Z" stroke="#ca0942"/>
<path d="M905.0 837.4L918.6 839.4L930.0 840.6L916.4 839.1Z" stroke="#5447c9"/>
<path d="M491.4 993.6L505.0 989.9L516.4 976.1L502.8 979.8Z" stroke="#00dbff"/>
<path d="M791.4 831.1L805.0 833.1L816.4 828.6L802.8 825.9Z" stroke="#6a35a9"/>
<path d="M516.4 976.1L530.0 972.6L541.4 959.2L527.8 962.8Z" stroke="#00c8ff"/>
<path d="M993.6 848.7L1007.2 850.0L1018.6 852.0L1005.0 851.0Z" stroke="#4055dc"/>
<path d="M816.4 811.8L830.0 808.4L843.5 803.7L829.9 806.6Z" stroke="#901b7f"/>
<path d="M541.4 959.2L555.0 955.9L566.4 943.0L552.8 946.3Z" stroke="#01b6ff"/>
<path d="M766.4 838.7L780.0 839.0L791.4 831.1L777.8 829.9Z" stroke="#5f3eb9"/>
<path d="M566.4 943.0L580.0 939.9L591.4 927.4L577.8 930.5Z" stroke="#07a5fd"/>
<path d="M911.2 784.0L924.8 781.7L938.3 775.9L924.7 777.8Z" stroke="#be0b4e"/>
<path d="M591.4 927.4L605.0 924.5L616.4 912.5L602.8 915.4Z" stroke="#0c94fc"/>
<path d="M741.4 848.7L755.0 847.9L766.4 838.7L752.8 839.2Z" stroke="#4d4cd0"/>
<path d="M880.0 834.6L893.6 836.8L905.0 837.4L891.4 835.6Z" stroke="#5c40bd"/>
<path d="M450.6 794.4L464.2 795.4L477.7 795.3L464.1 794.3Z" stroke="#a61268"/>
<path d="M616.4 912.5L630.0 909.8L641.4 898.2L627.8 900.9Z" stroke="#1185fb"/>
<path d="M716.4 859.8L730.0 858.5L741.4 848.7L727.8 850.0Z" stroke="#395ae1"/>
<path d="M641.4 898.2L655.0 895.8L666.4 884.7L652.8 887.1Z" stroke="#1978f7"/>
<path d="M691.4 871.9L705.0 870.1L716.4 859.8L702.8 861.6Z" stroke="#2c65eb"/>
<path d="M666.4 884.7L680.0 882.6L691.4 871.9L677.8 874.0Z" stroke="#236ef1"/>
<path d="M518.3 797.5L531.9 798.5L545.4 798.9L531.8 797.9Z" stroke="#a1146e"/>
<path d="M1006.0 759.1L1019.6 757.3L1033.1 752.1L1019.5 753.7Z" stroke="#e60223"/>
<path d="M721.6 812.5L735.2 812.7L748.6 815.2L735.0 815.0Z" stroke="#871e88"/>
<path d="M586.1 801.6L599.7 802.5L613.2 803.5L599.6 802.5Z" stroke="#9a1775"/>
<path d="M653.8 806.7L667.4 807.5L680.9 809.2L667.3 808.3Z" stroke="#911a7e"/>
<path d="M968.6 845.4L982.2 847.0L993.6 848.7L980.0 847.5Z" stroke="#4750d5"/>
<path d="M789.3 815.6L802.9 813.1L816.4 811.8L802.8 815.2Z" stroke="#871e88"/>
<path d="M855.0 832.3L868.6 834.8L880.0 834.6L866.4 832.5Z" stroke="#643ab2"/>
<path d="M884.1 792.4L897.7 789.7L911.2 784.0L897.6 786.1Z" stroke="#b20e5b"/>
<path d="M978.9 766.3L992.5 764.4L1006.0 759.1L992.4 760.8Z" stroke="#db052e"/>
<path d="M943.6 842.3L957.2 844.1L968.6 845.4L955.0 844.0Z" stroke="#4e4bcf"/>
<path d="M830.0 831.3L843.6 834.0L855.0 832.3L841.4 829.9Z" stroke="#6936aa"/>
<path d="M491.3 796.3L504.9 797.3L518.3 797.5L504.7 796.5Z" stroke="#a4126a"/>
<path d="M559.0 799.9L572.6 800.9L586.1 801.6L572.5 800.6Z" stroke="#9e1570"/>
<path d="M626.8 804.5L640.3 805.3L653.8 806.7L640.2 805.8Z" stroke="#961878"/>
<path d="M694.5 809.9L708.1 810.4L721.6 812.5L708.0 812.0Z" stroke="#8d1c82"/>
<path d="M857.1 800.8L870.7 797.8L884.1 792.4L870.5 794.8Z" stroke="#a61269"/>
<path d="M762.2 814.8L775.8 813.8L789.3 815.6L775.7 817.5Z" stroke="#861f89"/>
<path d="M918.6 839.4L932.2 841.4L943.6 842.3L930.0 840.6Z" stroke="#5546c8"/>
<path d="M951.9 773.9L965.5 771.7L978.9 766.3L965.3 768.2Z" stroke="#d1073a"/>
<path d="M805.0 833.1L818.6 835.4L830.0 831.3L816.4 828.6Z" stroke="#6a35a9"/>
<path d="M505.0 989.9L518.6 986.3L530.0 972.6L516.4 976.1Z" stroke="#00d4ff"/>
<path d="M530.0 972.6L543.6 969.2L555.0 955.9L541.4 959.2Z" stroke="#00c2ff"/>
<path d="M830.0 808.4L843.6 805.1L857.1 800.8L843.5 803.7Z" stroke="#9a1775"/>
<path d="M780.0 839.0L793.6 840.1L805.0 833.1L791.4 831.1Z" stroke="#623cb5"/>
<path d="M555.0 955.9L568.6 952.8L580.0 939.9L566.4 943.0Z" stroke="#03b0fe"/>
<path d="M893.6 836.8L907.2 839.1L918.6 839.4L905.0 837.4Z" stroke="#5d40bd"/>
<path d="M755.0 847.9L768.6 847.9L780.0 839.0L766.4 838.7Z" stroke="#5248cb"/>
<path d="M464.2 795.4L477.8 796.3L491.3 796.3L477.7 795.3Z" stroke="#a81166"/>
<path d="M580.0 939.9L593.6 937.0L605.0 924.5L591.4 927.4Z" stroke="#099ffd"/>
<path d="M924.8 781.7L938.4 779.3L951.9 773.9L938.3 775.9Z" stroke="#c50a46"/>
<path d="M531.9 798.5L545.5 799.5L559.0 799.9L545.4 798.9Z" stroke="#a3136c"/>
<path d="M605.0 924.5L618.6 921.8L630.0 909.8L616.4 912.5Z" stroke="#0e8ffb"/>
<path d="M730.0 858.5L743.6 857.6L755.0 847.9L741.4 848.7Z" stroke="#4055db"/>
<path d="M599.7 802.5L613.3 803.4L626.8 804.5L613.2 803.5Z" stroke="#9c1673"/>
<path d="M630.0 909.8L643.6 907.4L655.0 895.8L641.4 898.2Z" stroke="#137ffa"/>
<path d="M667.4 807.5L681.0 808.2L694.5 809.9L680.9 809.2Z" stroke="#93197c"/>
<path d="M705.0 870.1L718.6 868.7L730.0 858.5L716.4 859.8Z" stroke="#2f62ea"/>
<path d="M735.2 812.7L748.8 812.5L762.2 814.8L748.6 815.2Z" stroke="#8b1d84"/>
<path d="M655.0 895.8L668.6 893.7L680.0 882.6L666.4 884.7Z" stroke="#1d74f5"/>
<path d="M680.0 882.6L693.6 880.8L705.0 870.1L691.4 871.9Z" stroke="#266bef"/>
<path d="M982.2 847.0L995.8 848.6L1007.2 850.0L993.6 848.7Z" stroke="#484fd4"/>
<path d="M868.6 834.8L882.2 837.4L893.6 836.8L880.0 834.6Z" stroke="#633ab3"/>
<path d="M802.9 813.1L816.5 810.3L830.0 808.4L816.4 811.8Z" stroke="#901b7f"/>
<path d="M897.7 789.7L911.3 787.1L924.8 781.7L911.2 784.0Z" stroke="#ba0c53"/>
<path d="M957.2 844.1L970.8 846.0L982.2 847.0L968.6 845.4Z" stroke="#4f4acd"/>
<path d="M992.5 764.4L1006.1 762.3L1019.6 757.3L1006.0 759.1Z" stroke="#e20327"/>
<path d="M843.6 834.0L857.2 836.7L868.6 834.8L855.0 832.3Z" stroke="#6836ac"/>
<path d="M504.9 797.3L518.5 798.3L531.9 798.5L518.3 797.5Z" stroke="#a71167"/>
<path d="M572.6 800.9L586.2 801.8L599.7 802.5L586.1 801.6Z" stroke="#a1146e"/>
<path d="M640.3 805.3L653.9 806.1L667.4 807.5L653.8 806.7Z" stroke="#991776"/>
<path d="M708.1 810.4L721.7 810.6L735.2 812.7L721.6 812.5Z" stroke="#901b7e"/>
<path d="M775.8 813.8L789.4 812.2L802.9 813.1L789.3 815.6Z" stroke="#8d1c82"/>
<path d="M870.7 797.8L884.2 794.7L897.7 789.7L884.1 792.4Z" stroke="#ae0f60"/>
<path d="M932.2 841.4L945.8 843.5L957.2 844.1L943.6 842.3Z" stroke="#5546c7"/>
<path d="M818.6 835.4L832.2 837.8L843.6 834.0L830.0 831.3Z" stroke="#6936aa"/>
<path d="M965.5 771.7L979.1 769.5L992.5 764.4L978.9 766.3Z" stroke="#d80532"/>
<path d="M518.6 986.3L532.2 983.0L543.6 969.2L530.0 972.6Z" stroke="#00ceff"/>
<path d="M793.6 840.1L807.2 841.6L818.6 835.4L805.0 833.1Z" stroke="#633ab3"/>
<path d="M907.2 839.1L920.8 841.5L932.2 841.4L918.6 839.4Z" stroke="#5d40bc"/>
<path d="M543.6 969.2L557.2 966.1L568.6 952.8L555.0 955.9Z" stroke="#00bbff"/>
<path d="M843.6 805.1L857.2 801.8L870.7 797.8L857.1 800.8Z" stroke="#a3136c"/>
<path d="M477.8 796.3L491.4 797.3L504.9 797.3L491.3 796.3Z" stroke="#aa1064"/>
<path d="M768.6 847.9L782.2 848.3L793.6 840.1L780.0 839.0Z" stroke="#5546c8"/>
<path d="M568.6 952.8L582.2 949.8L593.6 937.0L580.0 939.9Z" stroke="#05aafe"/>
<path d="M545.5 799.5L559.1 800.4L572.6 800.9L559.0 799.9Z" stroke="#a51269"/>
<path d="M613.3 803.4L626.9 804.2L640.3 805.3L626.8 804.5Z" stroke="#9e1570"/>
<path d="M593.6 937.0L607.2 934.3L618.6 921.8L605.0 924.5Z" stroke="#0b99fc"/>
<path d="M743.6 857.6L757.2 857.3L768.6 847.9L755.0 847.9Z" stroke="#4551d7"/>
<path d="M681.0 808.2L694.6 808.6L708.1 810.4L694.5 809.9Z" stroke="#961879"/>
<path d="M938.4 779.3L952.0 776.8L965.5 771.7L951.9 773.9Z" stroke="#cd083e"/>
<path d="M618.6 921.8L632.2 919.4L643.6 907.4L630.0 909.8Z" stroke="#1089fb"/>
<path d="M748.8 812.5L762.4 811.8L775.8 813.8L762.2 814.8Z" stroke="#901b7f"/>
<path d="M718.6 868.7L732.2 867.7L743.6 857.6L730.0 858.5Z" stroke="#325fe8"/>
<path d="M643.6 907.4L657.2 905.2L668.6 893.7L655.0 895.8Z" stroke="#167bf9"/>
<path d="M693.6 880.8L707.2 879.3L718.6 868.7L705.0 870.1Z" stroke="#2968ed"/>
<path d="M668.6 893.7L682.2 891.9L693.6 880.8L680.0 882.6Z" stroke="#2071f3"/>
<path d="M882.2 837.4L895.8 840.0L907.2 839.1L893.6 836.8Z" stroke="#633bb3"/>
<path d="M816.5 810.3L830.1 807.3L843.6 805.1L830.0 808.4Z" stroke="#9a1775"/>
<path d="M970.8 846.0L984.4 847.9L995.8 848.6L982.2 847.0Z" stroke="#504acd"/>
<path d="M911.3 787.1L924.9 784.3L938.4 779.3L924.8 781.7Z" stroke="#c20b4a"/>
<path d="M857.2 836.7L870.8 839.4L882.2 837.4L868.6 834.8Z" stroke="#6737ad"/>
<path d="M518.5 798.3L532.1 799.2L545.5 799.5L531.9 798.5Z" stroke="#a91065"/>
<path d="M586.2 801.8L599.8 802.6L613.3 803.4L599.7 802.5Z" stroke="#a3136b"/>
<path d="M653.9 806.1L667.5 806.7L681.0 808.2L667.4 807.5Z" stroke="#9c1673"/>
<path d="M721.7 810.6L735.3 810.5L748.8 812.5L735.2 812.7Z" stroke="#94197a"/>
<path d="M945.8 843.5L959.4 845.7L970.8 846.0L957.2 844.1Z" stroke="#5645c6"/>
<path d="M832.2 837.8L845.8 840.4L857.2 836.7L843.6 834.0Z" stroke="#6836ac"/>
<path d="M789.4 812.2L803.0 810.2L816.5 810.3L802.9 813.1Z" stroke="#95197a"/>
<path d="M884.2 794.7L897.8 791.7L911.3 787.1L897.7 789.7Z" stroke="#b70d56"/>
<path d="M979.1 769.5L992.7 767.1L1006.1 762.3L992.5 764.4Z" stroke="#df042a"/>
<path d="M807.2 841.6L820.8 843.5L832.2 837.8L818.6 835.4Z" stroke="#643ab2"/>
<path d="M920.8 841.5L934.4 843.9L945.8 843.5L932.2 841.4Z" stroke="#5d40bc"/>
<path d="M532.2 983.0L545.8 979.8L557.2 966.1L543.6 969.2Z" stroke="#00c8ff"/>
<path d="M491.4 797.3L505.0 798.3L518.5 798.3L504.9 797.3Z" stroke="#ac0f61"/>
<path d="M782.2 848.3L795.8 849.3L807.2 841.6L793.6 840.1Z" stroke="#5844c4"/>
<path d="M557.2 966.1L570.8 963.1L582.2 949.8L568.6 952.8Z" stroke="#01b5ff"/>
<path d="M559.1 800.4L572.7 801.3L586.2 801.8L572.6 800.9Z" stroke="#a71167"/>
<path d="M857.2 801.8L870.8 798.6L884.2 794.7L870.7 797.8Z" stroke="#ac1062"/>
<path d="M626.9 804.2L640.5 804.9L653.9 806.1L640.3 805.3Z" stroke="#a1146e"/>
<path d="M582.2 949.8L595.8 947.1L607.2 934.3L593.6 937.0Z" stroke="#07a4fd"/>
<path d="M694.6 808.6L708.2 808.8L721.7 810.6L708.1 810.4Z" stroke="#991775"/>
<path d="M757.2 857.3L770.8 857.3L782.2 848.3L768.6 847.9Z" stroke="#494ed3"/>
<path d="M607.2 934.3L620.8 931.8L632.2 919.4L618.6 921.8Z" stroke="#0c94fc"/>
<path d="M952.0 776.8L965.6 774.3L979.1 769.5L965.5 771.7Z" stroke="#d50635"/>
<path d="M732.2 867.7L745.8 867.1L757.2 857.3L743.6 857.6Z" stroke="#385be3"/>
<path d="M762.4 811.8L776.0 810.8L789.4 812.2L775.8 813.8Z" stroke="#951979"/>
<path d="M632.2 919.4L645.8 917.2L657.2 905.2L643.6 907.4Z" stroke="#1284fb"/>
<path d="M895.8 840.0L909.4 842.6L920.8 841.5L907.2 839.1Z" stroke="#623bb4"/>
<path d="M707.2 879.3L720.8 878.2L732.2 867.7L718.6 868.7Z" stroke="#2c65ec"/>
<path d="M657.2 905.2L670.8 903.3L682.2 891.9L668.6 893.7Z" stroke="#1978f7"/>
<path d="M682.2 891.9L695.8 890.3L707.2 879.3L693.6 880.8Z" stroke="#236ef1"/>
<path d="M830.1 807.3L843.7 804.3L857.2 801.8L843.6 805.1Z" stroke="#a3136c"/>
<path d="M870.8 839.4L884.4 842.1L895.8 840.0L882.2 837.4Z" stroke="#6638ae"/>
<path d="M924.9 784.3L938.5 781.5L952.0 776.8L938.4 779.3Z" stroke="#ca0941"/>
<path d="M532.1 799.2L545.7 800.1L559.1 800.4L545.5 799.5Z" stroke="#ab1063"/>
<path d="M599.8 802.6L613.4 803.4L626.9 804.2L613.3 803.4Z" stroke="#a51269"/>
<path d="M667.5 806.7L681.1 807.1L694.6 808.6L681.0 808.2Z" stroke="#9e1570"/>
<path d="M959.4 845.7L973.0 847.8L984.4 847.9L970.8 846.0Z" stroke="#5745c6"/>
<path d="M735.3 810.5L748.9 810.1L762.4 811.8L748.8 812.5Z" stroke="#991776"/>
<path d="M845.8 840.4L859.4 842.9L870.8 839.4L857.2 836.7Z" stroke="#6737ad"/>
<path d="M803.0 810.2L816.6 807.9L830.1 807.3L816.5 810.3Z" stroke="#9d1571"/>
<path d="M897.8 791.7L911.4 788.7L924.9 784.3L911.3 787.1Z" stroke="#bf0b4d"/>
<path d="M820.8 843.5L834.4 845.6L845.8 840.4L832.2 837.8Z" stroke="#643ab2"/>
<path d="M934.4 843.9L948.0 846.3L959.4 845.7L945.8 843.5Z" stroke="#5d40bc"/>
<path d="M795.8 849.3L809.4 850.6L820.8 843.5L807.2 841.6Z" stroke="#5a42c1"/>
<path d="M505.0 798.3L518.6 799.2L532.1 799.2L518.5 798.3Z" stroke="#af0f5f"/>
<path d="M545.8 979.8L559.4 976.7L570.8 963.1L557.2 966.1Z" stroke="#00c2ff"/>
<path d="M572.7 801.3L586.3 802.1L599.8 802.6L586.2 801.8Z" stroke="#aa1064"/>
<path d="M640.5 804.9L654.1 805.5L667.5 806.7L653.9 806.1Z" stroke="#a3136b"/>
<path d="M570.8 963.1L584.4 960.3L595.8 947.1L582.2 949.8Z" stroke="#03b0fe"/>
<path d="M770.8 857.3L784.4 857.8L795.8 849.3L782.2 848.3Z" stroke="#4d4cd0"/>
<path d="M708.2 808.8L721.8 808.8L735.3 810.5L721.7 810.6Z" stroke="#9d1571"/>
<path d="M870.8 798.6L884.4 795.5L897.8 791.7L884.2 794.7Z" stroke="#b50e58"/>
<path d="M909.4 842.6L923.0 845.1L934.4 843.9L920.8 841.5Z" stroke="#623bb5"/>
<path d="M595.8 947.1L609.4 944.5L620.8 931.8L607.2 934.3Z" stroke="#099ffd"/>
<path d="M745.8 867.1L759.4 866.9L770.8 857.3L757.2 857.3Z" stroke="#3d57de"/>
<path d="M776.0 810.8L789.5 809.4L803.0 810.2L789.4 812.2Z" stroke="#9c1673"/>
<path d="M620.8 931.8L634.4 929.5L645.8 917.2L632.2 919.4Z" stroke="#0e8ffb"/>
<path d="M965.6 774.3L979.2 771.7L992.7 767.1L979.1 769.5Z" stroke="#dd042d"/>
<path d="M720.8 878.2L734.4 877.4L745.8 867.1L732.2 867.7Z" stroke="#2f62ea"/>
<path d="M645.8 917.2L659.4 915.2L670.8 903.3L657.2 905.2Z" stroke="#137ffa"/>
<path d="M695.8 890.3L709.4 889.0L720.8 878.2L707.2 879.3Z" stroke="#266bef"/>
<path d="M670.8 903.3L684.4 901.7L695.8 890.3L682.2 891.9Z" stroke="#1c75f5"/>
<path d="M884.4 842.1L898.0 844.8L909.4 842.6L895.8 840.0Z" stroke="#6539b0"/>
<path d="M843.7 804.3L857.3 801.3L870.8 798.6L857.2 801.8Z" stroke="#ac1062"/>
<path d="M545.7 800.1L559.2 801.0L572.7 801.3L559.1 800.4Z" stroke="#ad0f60"/>
<path d="M938.5 781.5L952.1 778.7L965.6 774.3L952.0 776.8Z" stroke="#d20738"/>
<path d="M613.4 803.4L627.0 804.1L640.5 804.9L626.9 804.2Z" stroke="#a81166"/>
<path d="M681.1 807.1L694.7 807.4L708.2 808.8L694.6 808.6Z" stroke="#a2136d"/>
<path d="M859.4 842.9L873.0 845.5L884.4 842.1L870.8 839.4Z" stroke="#6638ae"/>
<path d="M748.9 810.1L762.5 809.4L776.0 810.8L762.4 811.8Z" stroke="#9e1571"/>
<path d="M834.4 845.6L848.0 847.9L859.4 842.9L845.8 840.4Z" stroke="#633ab3"/>
<path d="M816.6 807.9L830.2 805.4L843.7 804.3L830.1 807.3Z" stroke="#a61269"/>
<path d="M911.4 788.7L925.0 785.7L938.5 781.5L924.9 784.3Z" stroke="#c80944"/>
<path d="M948.0 846.3L961.6 848.6L973.0 847.8L959.4 845.7Z" stroke="#5d40bc"/>
<path d="M809.4 850.6L823.0 852.2L834.4 845.6L820.8 843.5Z" stroke="#5b41bf"/>
<path d="M518.6 799.2L532.2 800.1L545.7 800.1L532.1 799.2Z" stroke="#b10e5d"/>
<path d="M586.3 802.1L599.9 802.9L613.4 803.4L599.8 802.6Z" stroke="#ac1062"/>
<path d="M654.1 805.5L667.7 806.0L681.1 807.1L667.5 806.7Z" stroke="#a61268"/>
<path d="M784.4 857.8L798.0 858.7L809.4 850.6L795.8 849.3Z" stroke="#4f4acd"/>
<path d="M559.4 976.7L573.0 973.9L584.4 960.3L570.8 963.1Z" stroke="#00bcff"/>
<path d="M923.0 845.1L936.6 847.7L948.0 846.3L934.4 843.9Z" stroke="#613cb6"/>
<path d="M721.8 808.8L735.4 808.6L748.9 810.1L735.3 810.5Z" stroke="#a1146d"/>
<path d="M584.4 960.3L598.0 957.7L609.4 944.5L595.8 947.1Z" stroke="#05aafe"/>
<path d="M759.4 866.9L773.0 867.0L784.4 857.8L770.8 857.3Z" stroke="#4155db"/>
<path d="M884.4 795.5L898.0 792.4L911.4 788.7L897.8 791.7Z" stroke="#be0b4f"/>
<path d="M609.4 944.5L623.0 942.2L634.4 929.5L620.8 931.8Z" stroke="#0a9afc"/>
<path d="M734.4 877.4L748.0 876.9L759.4 866.9L745.8 867.1Z" stroke="#3160e9"/>
<path d="M789.5 809.4L803.1 807.7L816.6 807.9L803.0 810.2Z" stroke="#a3136b"/>
<path d="M634.4 929.5L648.0 927.4L659.4 915.2L645.8 917.2Z" stroke="#108afb"/>
<path d="M709.4 889.0L723.0 888.1L734.4 877.4L720.8 878.2Z" stroke="#2869ee"/>
<path d="M659.4 915.2L673.0 913.4L684.4 901.7L670.8 903.3Z" stroke="#167bf9"/>
<path d="M684.4 901.7L698.0 900.3L709.4 889.0L695.8 890.3Z" stroke="#1f72f3"/>
<path d="M898.0 844.8L911.6 847.4L923.0 845.1L909.4 842.6Z" stroke="#6539b1"/>
<path d="M559.2 801.0L572.8 801.8L586.3 802.1L572.7 801.3Z" stroke="#b00f5e"/>
<path d="M857.3 801.3L870.9 798.3L884.4 795.5L870.8 798.6Z" stroke="#b50e58"/>
<path d="M627.0 804.1L640.6 804.7L654.1 805.5L640.5 804.9Z" stroke="#ab1063"/>
<path d="M873.0 845.5L886.6 848.1L898.0 844.8L884.4 842.1Z" stroke="#6539b0"/>
<path d="M952.1 778.7L965.7 775.9L979.2 771.7L965.6 774.3Z" stroke="#db052f"/>
<path d="M694.7 807.4L708.3 807.5L721.8 808.8L708.2 808.8Z" stroke="#a51269"/>
<path d="M762.5 809.4L776.1 808.4L789.5 809.4L776.0 810.8Z" stroke="#a3136b"/>
<path d="M848.0 847.9L861.6 850.2L873.0 845.5L859.4 842.9Z" stroke="#633bb3"/>
<path d="M830.2 805.4L843.8 802.8L857.3 801.3L843.7 804.3Z" stroke="#ae0f60"/>
<path d="M925.0 785.7L938.6 782.7L952.1 778.7L938.5 781.5Z" stroke="#d1073a"/>
<path d="M823.0 852.2L836.6 854.0L848.0 847.9L834.4 845.6Z" stroke="#5c40bd"/>
<path d="M532.2 800.1L545.8 800.9L559.2 801.0L545.7 800.1Z" stroke="#b30e5a"/>
<path d="M599.9 802.9L613.5 803.5L627.0 804.1L613.4 803.4Z" stroke="#af0f5f"/>
<path d="M936.6 847.7L950.2 850.2L961.6 848.6L948.0 846.3Z" stroke="#613cb6"/>
<path d="M667.7 806.0L681.3 806.3L694.7 807.4L681.1 807.1Z" stroke="#a91065"/>
<path d="M798.0 858.7L811.6 859.8L823.0 852.2L809.4 850.6Z" stroke="#5149cb"/>
<path d="M735.4 808.6L749.0 808.1L762.5 809.4L748.9 810.1Z" stroke="#a61268"/>
<path d="M573.0 973.9L586.6 971.2L598.0 957.7L584.4 960.3Z" stroke="#01b6ff"/>
<path d="M773.0 867.0L786.6 867.5L798.0 858.7L784.4 857.8Z" stroke="#4452d8"/>
<path d="M598.0 957.7L611.6 955.2L623.0 942.2L609.4 944.5Z" stroke="#07a5fd"/>
<path d="M748.0 876.9L761.6 876.7L773.0 867.0L759.4 866.9Z" stroke="#335ee7"/>
<path d="M898.0 792.4L911.6 789.3L925.0 785.7L911.4 788.7Z" stroke="#c70945"/>
<path d="M623.0 942.2L636.6 940.0L648.0 927.4L634.4 929.5Z" stroke="#0c95fc"/>
<path d="M723.0 888.1L736.6 887.4L748.0 876.9L734.4 877.4Z" stroke="#2b66ec"/>
<path d="M803.1 807.7L816.7 805.7L830.2 805.4L816.6 807.9Z" stroke="#aa1064"/>
<path d="M648.0 927.4L661.6 925.5L673.0 913.4L659.4 915.2Z" stroke="#1185fb"/>
<path d="M698.0 900.3L711.6 899.1L723.0 888.1L709.4 889.0Z" stroke="#226ff2"/>
<path d="M673.0 913.4L686.6 911.9L698.0 900.3L684.4 901.7Z" stroke="#1978f7"/>
<path d="M911.6 847.4L925.2 850.0L936.6 847.7L923.0 845.1Z" stroke="#643ab2"/>
<path d="M572.8 801.8L586.4 802.6L599.9 802.9L586.3 802.1Z" stroke="#b20e5b"/>
<path d="M886.6 848.1L900.2 850.7L911.6 847.4L898.0 844.8Z" stroke="#6539b1"/>
<path d="M640.6 804.7L654.2 805.2L667.7 806.0L654.1 805.5Z" stroke="#ad0f60"/>
<path d="M870.9 798.3L884.5 795.3L898.0 792.4L884.4 795.5Z" stroke="#be0b4f"/>
<path d="M708.3 807.5L721.9 807.4L735.4 808.6L721.8 808.8Z" stroke="#a91065"/>
<path d="M776.1 808.4L789.7 807.1L803.1 807.7L789.5 809.4Z" stroke="#aa1064"/>
<path d="M861.6 850.2L875.2 852.5L886.6 848.1L873.0 845.5Z" stroke="#623bb4"/>
<path d="M836.6 854.0L850.2 856.0L861.6 850.2L848.0 847.9Z" stroke="#5d40bd"/>
<path d="M843.8 802.8L857.4 800.1L870.9 798.3L857.3 801.3Z" stroke="#b70d56"/>
<path d="M938.6 782.7L952.2 779.7L965.7 775.9L952.1 778.7Z" stroke="#d90531"/>
<path d="M545.8 800.9L559.4 801.8L572.8 801.8L559.2 801.0Z" stroke="#b60d57"/>
<path d="M613.5 803.5L627.1 804.2L640.6 804.7L627.0 804.1Z" stroke="#b10e5c"/>
<path d="M811.6 859.8L825.2 861.2L836.6 854.0L823.0 852.2Z" stroke="#5348ca"/>
<path d="M681.3 806.3L694.9 806.5L708.3 807.5L694.7 807.4Z" stroke="#ad0f61"/>
<path d="M749.0 808.1L762.6 807.4L776.1 808.4L762.5 809.4Z" stroke="#ab1063"/>
<path d="M786.6 867.5L800.2 868.2L811.6 859.8L798.0 858.7Z" stroke="#4750d5"/>
<path d="M586.6 971.2L600.2 968.6L611.6 955.2L598.0 957.7Z" stroke="#03b1fe"/>
<path d="M761.6 876.7L775.2 876.9L786.6 867.5L773.0 867.0Z" stroke="#385be3"/>
<path d="M611.6 955.2L625.2 952.9L636.6 940.0L623.0 942.2Z" stroke="#08a0fd"/>
<path d="M925.2 850.0L938.8 852.5L950.2 850.2L936.6 847.7Z" stroke="#633bb3"/>
<path d="M736.6 887.4L750.2 886.9L761.6 876.7L748.0 876.9Z" stroke="#2d64eb"/>
<path d="M636.6 940.0L650.2 938.0L661.6 925.5L648.0 927.4Z" stroke="#0e90fc"/>
<path d="M911.6 789.3L925.2 786.2L938.6 782.7L925.0 785.7Z" stroke="#d0073b"/>
<path d="M661.6 925.5L675.2 923.9L686.6 911.9L673.0 913.4Z" stroke="#1381fa"/>
<path d="M711.6 899.1L725.2 898.2L736.6 887.4L723.0 888.1Z" stroke="#256cf0"/>
<path d="M816.7 805.7L830.3 803.6L843.8 802.8L830.2 805.4Z" stroke="#b20e5b"/>
<path d="M686.6 911.9L700.2 910.6L711.6 899.1L698.0 900.3Z" stroke="#1b76f6"/>
<path d="M900.2 850.7L913.8 853.2L925.2 850.0L911.6 847.4Z" stroke="#643ab2"/>
<path d="M586.4 802.6L600.0 803.3L613.5 803.5L599.9 802.9Z" stroke="#b50e58"/>
<path d="M654.2 805.2L667.8 805.6L681.3 806.3L667.7 806.0Z" stroke="#b10e5d"/>
<path d="M721.9 807.4L735.5 807.2L749.0 808.1L735.4 808.6Z" stroke="#ad0f60"/>
<path d="M884.5 795.3L898.1 792.3L911.6 789.3L898.0 792.4Z" stroke="#c70945"/>
<path d="M875.2 852.5L888.8 854.9L900.2 850.7L886.6 848.1Z" stroke="#623bb5"/>
<path d="M789.7 807.1L803.3 805.6L816.7 805.7L803.1 807.7Z" stroke="#b00f5d"/>
<path d="M850.2 856.0L863.8 858.0L875.2 852.5L861.6 850.2Z" stroke="#5d40bc"/>
<path d="M559.4 801.8L573.0 802.5L586.4 802.6L572.8 801.8Z" stroke="#b80d55"/>
<path d="M857.4 800.1L871.0 797.4L884.5 795.3L870.9 798.3Z" stroke="#bf0b4d"/>
<path d="M627.1 804.2L640.7 804.7L654.2 805.2L640.6 804.7Z" stroke="#b40e59"/>
<path d="M825.2 861.2L838.8 862.7L850.2 856.0L836.6 854.0Z" stroke="#5447c9"/>
<path d="M694.9 806.5L708.4 806.6L721.9 807.4L708.3 807.5Z" stroke="#b10e5d"/>
<path d="M800.2 868.2L813.8 869.2L825.2 861.2L811.6 859.8Z" stroke="#494fd3"/>
<path d="M762.6 807.4L776.2 806.5L789.7 807.1L776.1 808.4Z" stroke="#b00f5d"/>
<path d="M775.2 876.9L788.8 877.2L800.2 868.2L786.6 867.5Z" stroke="#3b59e0"/>
<path d="M600.2 968.6L613.8 966.2L625.2 952.9L611.6 955.2Z" stroke="#05abfe"/>
<path d="M625.2 952.9L638.8 950.8L650.2 938.0L636.6 940.0Z" stroke="#0a9bfc"/>
<path d="M750.2 886.9L763.8 886.8L775.2 876.9L761.6 876.7Z" stroke="#2f62ea"/>
<path d="M650.2 938.0L663.8 936.2L675.2 923.9L661.6 925.5Z" stroke="#0f8bfb"/>
<path d="M725.2 898.2L738.8 897.6L750.2 886.9L736.6 887.4Z" stroke="#276aef"/>
<path d="M675.2 923.9L688.8 922.4L700.2 910.6L686.6 911.9Z" stroke="#147dfa"/>
<path d="M700.2 910.6L713.8 909.5L725.2 898.2L711.6 899.1Z" stroke="#1e73f4"/>
<path d="M925.2 786.2L938.8 783.2L952.2 779.7L938.6 782.7Z" stroke="#d90532"/>
<path d="M830.3 803.6L843.9 801.3L857.4 800.1L843.8 802.8Z" stroke="#ba0c53"/>
<path d="M913.8 853.2L927.3 855.7L938.8 852.5L925.2 850.0Z" stroke="#633bb3"/>
<path d="M600.0 803.3L613.6 803.9L627.1 804.2L613.5 803.5Z" stroke="#b70d55"/>
<path d="M667.8 805.6L681.4 805.8L694.9 806.5L681.3 806.3Z" stroke="#b40e59"/>
<path d="M735.5 807.2L749.1 806.7L762.6 807.4L749.0 808.1Z" stroke="#b20e5b"/>
<path d="M888.8 854.9L902.3 857.3L913.8 853.2L900.2 850.7Z" stroke="#613cb6"/>
<path d="M898.1 792.3L911.7 789.3L925.2 786.2L911.6 789.3Z" stroke="#d0073b"/>
<path d="M803.3 805.6L816.9 803.9L830.3 803.6L816.7 805.7Z" stroke="#b70d56"/>
<path d="M863.8 858.0L877.3 860.1L888.8 854.9L875.2 852.5Z" stroke="#5d40bc"/>
<path d="M573.0 802.5L586.6 803.3L600.0 803.3L586.4 802.6Z" stroke="#bb0c52"/>
<path d="M838.8 862.7L852.3 864.4L863.8 858.0L850.2 856.0Z" stroke="#5546c8"/>
<path d="M640.7 804.7L654.3 805.1L667.8 805.6L654.2 805.2Z" stroke="#b70d56"/>
<path d="M871.0 797.4L884.6 794.6L898.1 792.3L884.5 795.3Z" stroke="#c80944"/>
<path d="M708.4 806.6L722.0 806.4L735.5 807.2L721.9 807.4Z" stroke="#b50e59"/>
<path d="M813.8 869.2L827.3 870.3L838.8 862.7L825.2 861.2Z" stroke="#4b4dd1"/>
<path d="M776.2 806.5L789.8 805.4L803.3 805.6L789.7 807.1Z" stroke="#b60d57"/>
<path d="M788.8 877.2L802.3 877.8L813.8 869.2L800.2 868.2Z" stroke="#3e56dd"/>
<path d="M613.8 966.2L627.3 964.0L638.8 950.8L625.2 952.9Z" stroke="#06a6fd"/>
<path d="M763.8 886.8L777.3 886.8L788.8 877.2L775.2 876.9Z" stroke="#3061e9"/>
<path d="M638.8 950.8L652.3 948.9L663.8 936.2L650.2 938.0Z" stroke="#0c96fc"/>
<path d="M738.8 897.6L752.3 897.1L763.8 886.8L750.2 886.9Z" stroke="#2968ed"/>
<path d="M663.8 936.2L677.3 934.6L688.8 922.4L675.2 923.9Z" stroke="#1187fb"/>
<path d="M713.8 909.5L727.3 908.6L738.8 897.6L725.2 898.2Z" stroke="#2071f3"/>
<path d="M688.8 922.4L702.3 921.1L713.8 909.5L700.2 910.6Z" stroke="#177af8"/>
<path d="M843.9 801.3L857.5 798.9L871.0 797.4L857.4 800.1Z" stroke="#c20b4a"/>
<path d="M613.6 803.9L627.2 804.5L640.7 804.7L627.1 804.2Z" stroke="#ba0c52"/>
<path d="M681.4 805.8L695.0 806.0L708.4 806.6L694.9 806.5Z" stroke="#b70d55"/>
<path d="M902.3 857.3L915.9 859.7L927.3 855.7L913.8 853.2Z" stroke="#613cb6"/>
<path d="M749.1 806.7L762.7 806.0L776.2 806.5L762.6 807.4Z" stroke="#b70d56"/>
<path d="M911.7 789.3L925.3 786.3L938.8 783.2L925.2 786.2Z" stroke="#d90532"/>
<path d="M877.3 860.1L890.9 862.3L902.3 857.3L888.8 854.9Z" stroke="#5d40bc"/>
<path d="M816.9 803.9L830.5 802.0L843.9 801.3L830.3 803.6Z" stroke="#be0b4e"/>
<path d="M586.6 803.3L600.2 803.9L613.6 803.9L600.0 803.3Z" stroke="#bd0c4f"/>
<path d="M852.3 864.4L865.9 866.2L877.3 860.1L863.8 858.0Z" stroke="#5546c7"/>
<path d="M654.3 805.1L667.9 805.5L681.4 805.8L667.8 805.6Z" stroke="#ba0c52"/>
<path d="M722.0 806.4L735.6 806.1L749.1 806.7L735.5 807.2Z" stroke="#b90d54"/>
<path d="M884.6 794.6L898.2 791.8L911.7 789.3L898.1 792.3Z" stroke="#d1073a"/>
<path d="M827.3 870.3L840.9 871.6L852.3 864.4L838.8 862.7Z" stroke="#4d4cd0"/>
<path d="M802.3 877.8L815.9 878.6L827.3 870.3L813.8 869.2Z" stroke="#4154db"/>
<path d="M789.8 805.4L803.4 804.0L816.9 803.9L803.3 805.6Z" stroke="#bc0c50"/>
<path d="M777.3 886.8L790.9 887.1L802.3 877.8L788.8 877.2Z" stroke="#325fe8"/>
<path d="M627.3 964.0L640.9 961.9L652.3 948.9L638.8 950.8Z" stroke="#08a2fd"/>
<path d="M752.3 897.1L765.9 896.9L777.3 886.8L763.8 886.8Z" stroke="#2b66ec"/>
<path d="M652.3 948.9L665.9 947.1L677.3 934.6L663.8 936.2Z" stroke="#0d92fc"/>
<path d="M727.3 908.6L740.9 907.9L752.3 897.1L738.8 897.6Z" stroke="#236ef1"/>
<path d="M677.3 934.6L690.9 933.1L702.3 921.1L688.8 922.4Z" stroke="#1283fa"/>
<path d="M702.3 921.1L715.9 920.0L727.3 908.6L713.8 909.5Z" stroke="#1a77f7"/>
<path d="M857.5 798.9L871.1 796.4L884.6 794.6L871.0 797.4Z" stroke="#ca0941"/>
<path d="M627.2 804.5L640.8 804.9L654.3 805.1L640.7 804.7Z" stroke="#bd0c4f"/>
<path d="M695.0 806.0L708.6 806.0L722.0 806.4L708.4 806.6Z" stroke="#bb0c51"/>
<path d="M762.7 806.0L776.3 805.2L789.8 805.4L776.2 806.5Z" stroke="#bc0c50"/>
<path d="M890.9 862.3L904.5 864.4L915.9 859.7L902.3 857.3Z" stroke="#5d40bc"/>
<path d="M830.5 802.0L844.1 800.0L857.5 798.9L843.9 801.3Z" stroke="#c50a46"/>
<path d="M600.2 803.9L613.8 804.5L627.2 804.5L613.6 803.9Z" stroke="#c00b4c"/>
<path d="M865.9 866.2L879.5 868.1L890.9 862.3L877.3 860.1Z" stroke="#5645c6"/>
<path d="M667.9 805.5L681.5 805.7L695.0 806.0L681.4 805.8Z" stroke="#be0b4f"/>
<path d="M840.9 871.6L854.5 873.1L865.9 866.2L852.3 864.4Z" stroke="#4e4bcf"/>
<path d="M735.6 806.1L749.2 805.7L762.7 806.0L749.1 806.7Z" stroke="#bd0c4f"/>
<path d="M898.2 791.8L911.8 789.0L925.3 786.3L911.7 789.3Z" stroke="#d90531"/>
<path d="M815.9 878.6L829.5 879.6L840.9 871.6L827.3 870.3Z" stroke="#4353d8"/>
<path d="M803.4 804.0L817.0 802.5L830.5 802.0L816.9 803.9Z" stroke="#c30a49"/>
<path d="M790.9 887.1L804.5 887.5L815.9 878.6L802.3 877.8Z" stroke="#355de5"/>
<path d="M765.9 896.9L779.5 896.8L790.9 887.1L777.3 886.8Z" stroke="#2d64eb"/>
<path d="M640.9 961.9L654.5 960.0L665.9 947.1L652.3 948.9Z" stroke="#099dfd"/>
<path d="M740.9 907.9L754.5 907.4L765.9 896.9L752.3 897.1Z" stroke="#256cf0"/>
<path d="M665.9 947.1L679.5 945.5L690.9 933.1L677.3 934.6Z" stroke="#0f8dfb"/>
<path d="M715.9 920.0L729.5 919.1L740.9 907.9L727.3 908.6Z" stroke="#1c75f5"/>
<path d="M690.9 933.1L704.5 931.8L715.9 920.0L702.3 921.1Z" stroke="#137ffa"/>
<path d="M640.8 804.9L654.4 805.3L667.9 805.5L654.3 805.1Z" stroke="#c00b4c"/>
<path d="M871.1 796.4L884.7 793.9L898.2 791.8L884.6 794.6Z" stroke="#d20738"/>
<path d="M708.6 806.0L722.2 805.8L735.6 806.1L722.0 806.4Z" stroke="#bf0b4d"/>
<path d="M776.3 805.2L789.9 804.1L803.4 804.0L789.8 805.4Z" stroke="#c20b4a"/>
<path d="M844.1 800.0L857.6 797.9L871.1 796.4L857.5 798.9Z" stroke="#cd083e"/>
<path d="M879.5 868.1L893.1 870.0L904.5 864.4L890.9 862.3Z" stroke="#5745c6"/>
<path d="M613.8 804.5L627.3 805.0L640.8 804.9L627.2 804.5Z" stroke="#c30a49"/>
<path d="M681.5 805.7L695.1 805.8L708.6 806.0L695.0 806.0Z" stroke="#c10b4b"/>
<path d="M854.5 873.1L868.1 874.6L879.5 868.1L865.9 866.2Z" stroke="#4f4acd"/>
<path d="M749.2 805.7L762.8 805.1L776.3 805.2L762.7 806.0Z" stroke="#c20a4a"/>
<path d="M829.5 879.6L843.1 880.7L854.5 873.1L840.9 871.6Z" stroke="#4551d7"/>
<path d="M804.5 887.5L818.1 888.1L829.5 879.6L815.9 878.6Z" stroke="#385be2"/>
<path d="M817.0 802.5L830.6 800.8L844.1 800.0L830.5 802.0Z" stroke="#ca0942"/>
<path d="M779.5 896.8L793.1 897.0L804.5 887.5L790.9 887.1Z" stroke="#2e63ea"/>
<path d="M754.5 907.4L768.1 907.1L779.5 896.8L765.9 896.9Z" stroke="#276aef"/>
<path d="M654.5 960.0L668.1 958.2L679.5 945.5L665.9 947.1Z" stroke="#0b98fc"/>
<path d="M729.5 919.1L743.1 918.4L754.5 907.4L740.9 907.9Z" stroke="#1f72f4"/>
<path d="M679.5 945.5L693.1 944.0L704.5 931.8L690.9 933.1Z" stroke="#1089fb"/>
<path d="M704.5 931.8L718.1 930.7L729.5 919.1L715.9 920.0Z" stroke="#157cf9"/>
<path d="M654.4 805.3L668.0 805.6L681.5 805.7L667.9 805.5Z" stroke="#c40a48"/>
<path d="M722.2 805.8L735.8 805.5L749.2 805.7L735.6 806.1Z" stroke="#c40a48"/>
<path d="M884.7 793.9L898.3 791.3L911.8 789.0L898.2 791.8Z" stroke="#db052f"/>
<path d="M789.9 804.1L803.5 802.9L817.0 802.5L803.4 804.0Z" stroke="#c80943"/>
<path d="M627.3 805.0L640.9 805.4L654.4 805.3L640.8 804.9Z" stroke="#c60a46"/>
<path d="M857.6 797.9L871.2 795.6L884.7 793.9L871.1 796.4Z" stroke="#d50635"/>
<path d="M695.1 805.8L708.7 805.7L722.2 805.8L708.6 806.0Z" stroke="#c50a46"/>
<path d="M868.1 874.6L881.7 876.2L893.1 870.0L879.5 868.1Z" stroke="#504acd"/>
<path d="M762.8 805.1L776.4 804.3L789.9 804.1L776.3 805.2Z" stroke="#c80944"/>
<path d="M843.1 880.7L856.7 881.9L868.1 874.6L854.5 873.1Z" stroke="#4750d5"/>
<path d="M818.1 888.1L831.7 888.9L843.1 880.7L829.5 879.6Z" stroke="#3b59e0"/>
<path d="M830.6 800.8L844.2 799.0L857.6 797.9L844.1 800.0Z" stroke="#d1073a"/>
<path d="M793.1 897.0L806.7 897.3L818.1 888.1L804.5 887.5Z" stroke="#3061e9"/>
<path d="M768.1 907.1L781.7 906.9L793.1 897.0L779.5 896.8Z" stroke="#2968ee"/>
<path d="M668.1 958.2L681.7 956.5L693.1 944.0L679.5 945.5Z" stroke="#0c94fc"/>
<path d="M743.1 918.4L756.7 917.8L768.1 907.1L754.5 907.4Z" stroke="#2170f2"/>
<path d="M693.1 944.0L706.7 942.6L718.1 930.7L704.5 931.8Z" stroke="#1185fb"/>
<path d="M718.1 930.7L731.7 929.7L743.1 918.4L729.5 919.1Z" stroke="#1879f8"/>
<path d="M668.0 805.6L681.6 805.8L695.1 805.8L681.5 805.7Z" stroke="#c70944"/>
<path d="M735.8 805.5L749.4 805.1L762.8 805.1L749.2 805.7Z" stroke="#c80943"/>
<path d="M803.5 802.9L817.1 801.5L830.6 800.8L817.0 802.5Z" stroke="#ce083d"/>
<path d="M640.9 805.4L654.5 805.8L668.0 805.6L654.4 805.3Z" stroke="#c90942"/>
<path d="M871.2 795.6L884.8 793.2L898.3 791.3L884.7 793.9Z" stroke="#dd042d"/>
<path d="M708.7 805.7L722.3 805.6L735.8 805.5L722.2 805.8Z" stroke="#c90942"/>
<path d="M856.7 881.9L870.3 883.2L881.7 876.2L868.1 874.6Z" stroke="#484fd4"/>
<path d="M776.4 804.3L790.0 803.3L803.5 802.9L789.9 804.1Z" stroke="#cd083e"/>
<path d="M831.7 888.9L845.3 889.8L856.7 881.9L843.1 880.7Z" stroke="#3d57de"/>
<path d="M806.7 897.3L820.3 897.7L831.7 888.9L818.1 888.1Z" stroke="#3160e9"/>
<path d="M844.2 799.0L857.8 797.1L871.2 795.6L857.6 797.9Z" stroke="#d80532"/>
<path d="M781.7 906.9L795.3 906.9L806.7 897.3L793.1 897.0Z" stroke="#2a67ed"/>
<path d="M756.7 917.8L770.3 917.3L781.7 906.9L768.1 907.1Z" stroke="#236ef1"/>
<path d="M681.7 956.5L695.3 954.9L706.7 942.6L693.1 944.0Z" stroke="#0e90fc"/>
<path d="M681.6 805.8L695.2 805.9L708.7 805.7L695.1 805.8Z" stroke="#cb0940"/>
<path d="M731.7 929.7L745.3 928.9L756.7 917.8L743.1 918.4Z" stroke="#1a77f6"/>
<path d="M706.7 942.6L720.3 941.4L731.7 929.7L718.1 930.7Z" stroke="#1381fa"/>
<path d="M749.4 805.1L763.0 804.5L776.4 804.3L762.8 805.1Z" stroke="#cd083e"/>
<path d="M817.1 801.5L830.7 800.0L844.2 799.0L830.6 800.8Z" stroke="#d50636"/>
<path d="M654.5 805.8L668.1 806.0L681.6 805.8L668.0 805.6Z" stroke="#cc083f"/>
<path d="M722.3 805.6L735.9 805.3L749.4 805.1L735.8 805.5Z" stroke="#ce083d"/>
<path d="M790.0 803.3L803.6 802.2L817.1 801.5L803.5 802.9Z" stroke="#d30738"/>
<path d="M845.3 889.8L858.9 890.7L870.3 883.2L856.7 881.9Z" stroke="#4055dc"/>
<path d="M820.3 897.7L833.9 898.2L845.3 889.8L831.7 888.9Z" stroke="#335fe7"/>
<path d="M795.3 906.9L808.9 907.0L820.3 897.7L806.7 897.3Z" stroke="#2c65ec"/>
<path d="M857.8 797.1L871.4 795.0L884.8 793.2L871.2 795.6Z" stroke="#df042a"/>
<path d="M770.3 917.3L783.9 917.0L795.3 906.9L781.7 906.9Z" stroke="#256cf0"/>
<path d="M695.2 805.9L708.8 805.8L722.3 805.6L708.7 805.7Z" stroke="#cf083c"/>
<path d="M745.3 928.9L758.9 928.1L770.3 917.3L756.7 917.8Z" stroke="#1d74f5"/>
<path d="M695.3 954.9L708.9 953.5L720.3 941.4L706.7 942.6Z" stroke="#0f8cfb"/>
<path d="M720.3 941.4L733.9 940.3L745.3 928.9L731.7 929.7Z" stroke="#147efa"/>
<path d="M763.0 804.5L776.5 803.8L790.0 803.3L776.4 804.3Z" stroke="#d20739"/>
<path d="M830.7 800.0L844.3 798.3L857.8 797.1L844.2 799.0Z" stroke="#db052e"/>
<path d="M668.1 806.0L681.7 806.2L695.2 805.9L681.6 805.8Z" stroke="#d0073b"/>
<path d="M735.9 805.3L749.5 804.9L763.0 804.5L749.4 805.1Z" stroke="#d20738"/>
<path d="M803.6 802.2L817.2 800.9L830.7 800.0L817.1 801.5Z" stroke="#d90531"/>
<path d="M833.9 898.2L847.5 898.8L858.9 890.7L845.3 889.8Z" stroke="#365ce5"/>
<path d="M808.9 907.0L822.5 907.2L833.9 898.2L820.3 897.7Z" stroke="#2d64eb"/>
<path d="M783.9 917.0L797.5 916.8L808.9 907.0L795.3 906.9Z" stroke="#276aef"/>
<path d="M708.8 805.8L722.4 805.6L735.9 805.3L722.3 805.6Z" stroke="#d30738"/>
<path d="M758.9 928.1L772.5 927.5L783.9 917.0L770.3 917.3Z" stroke="#1f72f4"/>
<path d="M733.9 940.3L747.5 939.4L758.9 928.1L745.3 928.9Z" stroke="#167bf9"/>
<path d="M708.9 953.5L722.5 952.2L733.9 940.3L720.3 941.4Z" stroke="#1088fb"/>
<path d="M776.5 803.8L790.1 802.8L803.6 802.2L790.0 803.3Z" stroke="#d70633"/>
<path d="M844.3 798.3L857.9 796.5L871.4 795.0L857.8 797.1Z" stroke="#e20327"/>
<path d="M681.7 806.2L695.3 806.2L708.8 805.8L695.2 805.9Z" stroke="#d40637"/>
<path d="M749.5 804.9L763.1 804.3L776.5 803.8L763.0 804.5Z" stroke="#d70633"/>
<path d="M817.2 800.9L830.8 799.5L844.3 798.3L830.7 800.0Z" stroke="#df042a"/>
<path d="M822.5 907.2L836.1 907.5L847.5 898.8L833.9 898.2Z" stroke="#2f62ea"/>
<path d="M797.5 916.8L811.1 916.7L822.5 907.2L808.9 907.0Z" stroke="#2869ee"/>
<path d="M722.4 805.6L736.0 805.3L749.5 804.9L735.9 805.3Z" stroke="#d70633"/>
<path d="M772.5 927.5L786.1 927.0L797.5 916.8L783.9 917.0Z" stroke="#2170f2"/>
<path d="M747.5 939.4L761.1 938.5L772.5 927.5L758.9 928.1Z" stroke="#1879f7"/>
<path d="M722.5 952.2L736.1 950.9L747.5 939.4L733.9 940.3Z" stroke="#1284fb"/>
<path d="M790.1 802.8L803.7 801.8L817.2 800.9L803.6 802.2Z" stroke="#dd042d"/>
<path d="M695.3 806.2L708.9 806.1L722.4 805.6L708.8 805.8Z" stroke="#d80632"/>
<path d="M763.1 804.3L776.7 803.6L790.1 802.8L776.5 803.8Z" stroke="#dc052e"/>
<path d="M830.8 799.5L844.4 797.9L857.9 796.5L844.3 798.3Z" stroke="#e60223"/>
<path d="M811.1 916.7L824.7 916.7L836.1 907.5L822.5 907.2Z" stroke="#2a67ed"/>
<path d="M736.0 805.3L749.6 804.9L763.1 804.3L749.5 804.9Z" stroke="#dc052e"/>
<path d="M786.1 927.0L799.7 926.6L811.1 916.7L797.5 916.8Z" stroke="#236ef1"/>
<path d="M761.1 938.5L774.7 937.7L786.1 927.0L772.5 927.5Z" stroke="#1b76f6"/>
<path d="M736.1 950.9L749.7 949.8L761.1 938.5L747.5 939.4Z" stroke="#1380fa"/>
<path d="M803.7 801.8L817.3 800.6L830.8 799.5L817.2 800.9Z" stroke="#e30326"/>
<path d="M708.9 806.1L722.5 805.9L736.0 805.3L722.4 805.6Z" stroke="#dc052e"/>
<path d="M776.7 803.6L790.3 802.7L803.7 801.8L790.1 802.8Z" stroke="#e10328"/>
<path d="M749.6 804.9L763.2 804.3L776.7 803.6L763.1 804.3Z" stroke="#e00429"/>
<path d="M799.7 926.6L813.3 926.3L824.7 916.7L811.1 916.7Z" stroke="#256cf0"/>
<path d="M774.7 937.7L788.3 937.0L799.7 926.6L786.1 927.0Z" stroke="#1d74f5"/>
<path d="M749.7 949.8L763.3 948.7L774.7 937.7L761.1 938.5Z" stroke="#147dfa"/>
<path d="M817.3 800.6L830.9 799.2L844.4 797.9L830.8 799.5Z" stroke="#e90220"/>
<path d="M722.5 805.9L736.1 805.6L749.6 804.9L736.0 805.3Z" stroke="#e00429"/>
<path d="M790.3 802.7L803.9 801.6L817.3 800.6L803.7 801.8Z" stroke="#e70222"/>
<path d="M763.2 804.3L776.8 803.6L790.3 802.7L776.7 803.6Z" stroke="#e50224"/>
<path d="M788.3 937.0L801.9 936.4L813.3 926.3L799.7 926.6Z" stroke="#1f72f3"/>
<path d="M763.3 948.7L776.9 947.8L788.3 937.0L774.7 937.7Z" stroke="#177af8"/>
<path d="M736.1 805.6L749.7 805.1L763.2 804.3L749.6 804.9Z" stroke="#e50324"/>
<path d="M803.9 801.6L817.5 800.5L830.9 799.2L817.3 800.6Z" stroke="#ed011c"/>
<path d="M776.8 803.6L790.4 802.7L803.9 801.6L790.3 802.7Z" stroke="#eb011e"/>
<path d="M776.9 947.8L790.5 946.8L801.9 936.4L788.3 937.0Z" stroke="#1978f7"/>
<path d="M749.7 805.1L763.3 804.5L776.8 803.6L763.2 804.3Z" stroke="#e9021f"/>
<path d="M790.4 802.7L804.0 801.7L817.5 800.5L803.9 801.6Z" stroke="#f00018"/>
<path d="M763.3 804.5L776.9 803.8L790.4 802.7L776.8 803.6Z" stroke="#ee001a"/>
<path d="M776.9 803.8L790.5 802.8L804.0 801.7L790.4 802.7Z" stroke="#f00018"/>
</g>
<path d="M436.2 1060V703.2" stroke="#000" stroke-width="3.2"/>
<path d="M436.2 1027.0h12M436.2 973.1h12M436.2 919.1h12M436.2 865.2h12M436.2 811.2h12M436.2 757.2h12M436.2 703.3h12" stroke="#000" stroke-width="3"/>
<text x="426" y="1035.6" class="sc" text-anchor="end">-4</text>
<text x="426" y="981.7" class="sc" text-anchor="end">-3</text>
<text x="426" y="927.7" class="sc" text-anchor="end">-2</text>
<text x="426" y="873.8" class="sc" text-anchor="end">-1</text>
<text x="426" y="819.8" class="sc" text-anchor="end">0</text>
<text x="426" y="765.8" class="sc" text-anchor="end">1</text>
<text x="426" y="711.9" class="sc" text-anchor="end">2</text>
<text x="413.0" y="1087.2" class="sc" text-anchor="middle">7.7</text>
<text x="533.3" y="1106.7" class="sc" text-anchor="middle">7.9</text>
<text x="653.3" y="1127.3" class="sc" text-anchor="middle">8.1</text>
<text x="774.2" y="1147.3" class="sc" text-anchor="middle">8.3</text>
<text x="830.0" y="1147.3" class="sc" text-anchor="middle">140</text>
<text x="982.5" y="1110.4" class="sc" text-anchor="middle">180</text>
<text x="1134.0" y="1074.4" class="sc" text-anchor="middle">220</text>
<text x="503" y="1156.7" class="sl">R (a<tspan font-size="26" dy="6">0</tspan><tspan dy="-6">)</tspan></text>
<text x="971" y="1156.5" class="sl">θ (°)</text>
<text transform="translate(377 856) rotate(-90)" class="sy" text-anchor="middle">V/(hc) (10<tspan font-size="28" dy="-14">3</tspan><tspan dy="14"> cm</tspan><tspan font-size="28" dy="-14">-1</tspan><tspan dy="14">)</tspan></text>
<text x="338.5" y="634.6" class="pl" style="font-size:45px">c</text>
</svg></body></html>
